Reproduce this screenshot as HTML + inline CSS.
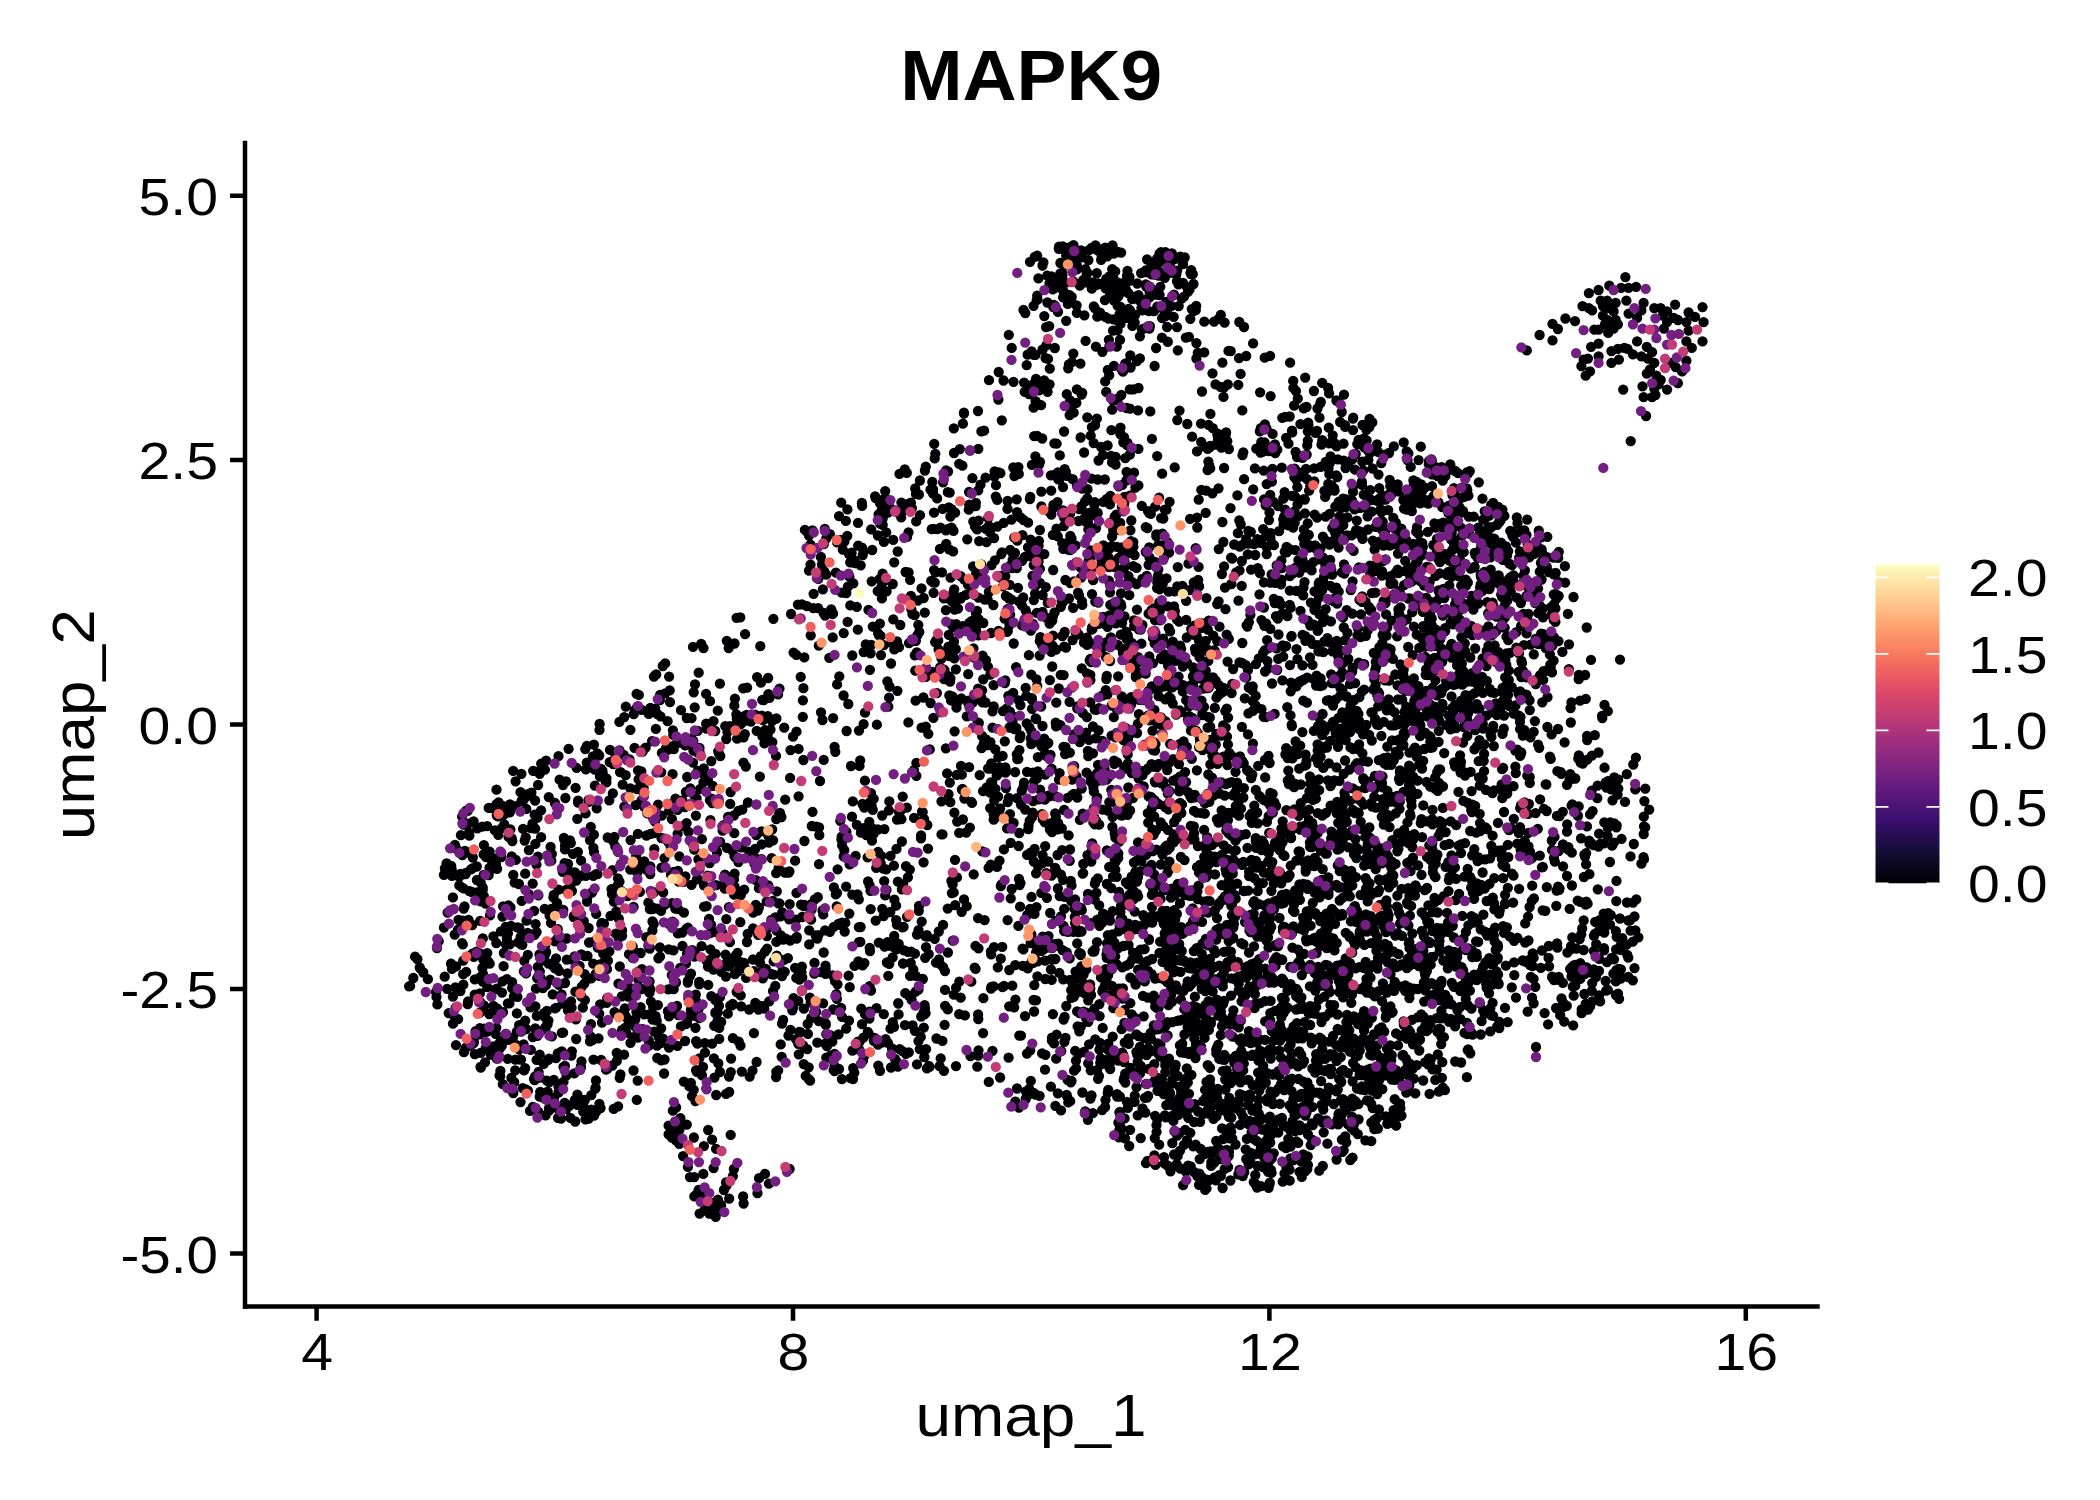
<!DOCTYPE html>
<html><head><meta charset="utf-8"><title>MAPK9</title>
<style>html,body{margin:0;padding:0;background:#fff}svg{display:block}text{font-family:"Liberation Sans",sans-serif;fill:#000}</style>
</head><body>
<svg width="2100" height="1500" viewBox="0 0 2100 1500">
<defs><linearGradient id="mg" x1="0" y1="1" x2="0" y2="0"><stop offset="0.0" stop-color="#000004"/><stop offset="0.1" stop-color="#140E36"/><stop offset="0.2" stop-color="#3B0F70"/><stop offset="0.3" stop-color="#641A80"/><stop offset="0.4" stop-color="#8C2981"/><stop offset="0.5" stop-color="#B73779"/><stop offset="0.6" stop-color="#DE4968"/><stop offset="0.7" stop-color="#F7705C"/><stop offset="0.8" stop-color="#FE9F6D"/><stop offset="0.9" stop-color="#FECF92"/><stop offset="1.0" stop-color="#FCFDBF"/></linearGradient></defs>
<rect width="2100" height="1500" fill="#fff"/>
<g fill="none" stroke-width="10.3" stroke-linecap="round">
<path d="M1030.0 261.8h0M1034.8 256.9h0M1037.2 255.6h0M1042.5 265.5h0M1043.4 262.3h0M1058.8 248.8h0M1059.0 246.7h0M1060.4 263.0h0M1062.8 246.4h0M1063.6 249.3h0M1065.6 264.8h0M1066.2 255.5h0M1070.6 246.8h0M1070.7 247.0h0M1073.5 245.1h0M1073.8 261.1h0M1074.3 258.1h0M1076.7 264.4h0M1076.9 269.4h0M1081.1 250.4h0M1082.1 257.0h0M1085.4 269.2h0M1088.4 260.2h0M1089.0 250.2h0M1091.5 247.9h0M1094.5 248.5h0M1095.5 245.3h0M1096.6 247.3h0M1098.1 250.6h0M1101.1 259.8h0M1101.8 256.8h0M1102.1 258.1h0M1105.1 247.6h0M1107.3 256.3h0M1111.1 250.9h0M1111.5 253.1h0M1112.2 269.1h0M1112.6 245.5h0M1113.9 253.7h0M1118.0 252.0h0M1121.1 252.6h0M1147.1 259.5h0M1151.8 265.1h0M1152.3 262.1h0M1154.4 265.4h0M1154.9 265.0h0M1157.1 258.6h0M1159.3 258.4h0M1159.5 262.0h0M1159.5 253.7h0M1160.2 256.0h0M1161.0 252.2h0M1165.3 252.2h0M1165.8 260.6h0M1169.2 257.4h0M1170.3 263.5h0M1171.9 253.5h0M1174.4 259.1h0M1180.3 256.6h0M1182.2 261.2h0M1183.0 264.1h0M1184.7 257.5h0M1037.2 295.7h0M1037.5 299.5h0M1038.4 278.3h0M1047.2 275.7h0M1049.5 283.3h0M1051.6 276.3h0M1052.1 283.2h0M1052.7 289.3h0M1054.2 288.3h0M1056.6 277.7h0M1060.4 273.4h0M1061.0 283.5h0M1061.3 288.3h0M1062.2 272.8h0M1062.4 275.7h0M1063.1 297.3h0M1063.6 291.5h0M1065.4 282.8h0M1069.1 299.7h0M1069.6 295.1h0M1071.7 297.0h0M1073.2 281.5h0M1079.8 285.5h0M1083.1 280.1h0M1085.1 282.3h0M1086.7 274.4h0M1087.4 272.8h0M1091.8 288.7h0M1092.9 282.4h0M1093.5 283.0h0M1096.6 284.9h0M1096.8 273.1h0M1098.3 283.4h0M1100.8 284.2h0M1105.6 288.3h0M1106.2 279.0h0M1107.3 284.7h0M1108.0 278.2h0M1109.3 276.5h0M1109.8 295.6h0M1110.1 290.0h0M1112.5 294.3h0M1112.8 293.5h0M1113.1 277.4h0M1114.0 282.9h0M1115.2 271.4h0M1116.3 281.9h0M1117.2 288.7h0M1118.4 296.3h0M1122.4 283.1h0M1122.6 291.5h0M1124.8 286.4h0M1126.0 289.7h0M1127.0 275.7h0M1127.5 270.8h0M1128.4 293.1h0M1129.3 280.9h0M1129.4 276.9h0M1132.2 299.1h0M1134.3 297.0h0M1137.3 283.5h0M1138.5 295.1h0M1141.1 273.1h0M1145.6 272.2h0M1145.8 270.5h0M1145.9 284.4h0M1146.2 286.6h0M1146.6 284.9h0M1147.0 285.1h0M1147.4 298.9h0M1149.0 286.4h0M1149.3 297.7h0M1149.7 292.5h0M1150.1 287.1h0M1150.6 290.0h0M1151.5 274.4h0M1154.5 274.7h0M1155.4 291.9h0M1156.0 294.5h0M1158.7 275.6h0M1159.1 273.8h0M1159.6 295.0h0M1160.1 272.2h0M1160.3 286.8h0M1163.2 274.9h0M1163.2 272.9h0M1164.8 277.8h0M1165.7 271.8h0M1170.8 272.5h0M1171.1 271.3h0M1174.0 294.7h0M1176.3 274.5h0M1176.9 281.2h0M1177.2 270.6h0M1178.4 284.3h0M1181.7 298.5h0M1183.0 283.0h0M1184.0 296.7h0M1186.9 286.8h0M1187.9 291.9h0M1189.5 289.6h0M1190.5 272.8h0M1190.9 274.1h0M1191.2 270.1h0M1192.8 274.1h0M1193.5 284.0h0M1588.9 293.2h0M1598.6 290.0h0M1609.3 285.7h0M1621.1 287.9h0M1625.4 277.1h0M1628.6 287.9h0M1636.1 286.8h0M1023.5 310.0h0M1025.3 313.1h0M1033.6 305.8h0M1036.7 300.2h0M1044.3 316.1h0M1046.1 327.2h0M1047.4 302.5h0M1049.2 326.2h0M1053.3 307.0h0M1053.8 304.8h0M1054.8 305.7h0M1058.0 311.9h0M1066.2 320.8h0M1067.8 303.9h0M1071.3 302.1h0M1076.6 305.5h0M1076.9 312.9h0M1084.4 315.3h0M1093.8 306.5h0M1094.8 308.1h0M1097.3 316.7h0M1099.6 315.7h0M1100.1 312.7h0M1104.9 300.1h0M1105.3 316.9h0M1108.5 318.6h0M1113.6 319.4h0M1114.3 300.9h0M1117.6 305.7h0M1118.2 321.3h0M1119.6 314.2h0M1119.8 315.2h0M1120.2 306.7h0M1120.5 323.9h0M1126.5 312.0h0M1127.1 317.9h0M1128.4 309.0h0M1129.8 310.1h0M1132.4 325.9h0M1134.7 322.6h0M1135.0 315.0h0M1139.3 300.4h0M1141.4 308.1h0M1141.9 329.6h0M1142.2 310.4h0M1143.5 328.7h0M1148.9 311.1h0M1149.4 328.5h0M1149.9 326.2h0M1154.0 311.1h0M1157.3 306.7h0M1159.7 307.1h0M1162.1 318.1h0M1164.7 312.7h0M1165.6 306.1h0M1165.6 316.2h0M1166.4 301.8h0M1167.1 327.0h0M1168.1 308.5h0M1171.1 306.0h0M1173.7 316.8h0M1177.0 327.1h0M1178.7 306.1h0M1190.3 318.8h0M1191.8 309.1h0M1193.6 311.0h0M1195.8 310.1h0M1196.2 305.9h0M1204.3 321.7h0M1214.1 321.7h0M1218.6 318.9h0M1220.8 315.0h0M1224.6 322.6h0M1239.3 322.0h0M1244.0 327.0h0M1552.5 323.9h0M1557.9 329.0h0M1565.4 318.5h0M1575.0 321.1h0M1582.5 306.1h0M1588.9 308.2h0M1592.1 310.4h0M1594.3 329.6h0M1598.6 329.6h0M1600.7 300.7h0M1602.9 306.1h0M1602.9 315.7h0M1605.0 324.3h0M1607.1 300.7h0M1607.1 320.0h0M1609.3 308.2h0M1611.4 303.9h0M1611.4 324.3h0M1613.6 311.4h0M1613.6 328.6h0M1615.7 302.9h0M1615.7 320.0h0M1617.9 324.3h0M1626.4 300.7h0M1628.6 313.6h0M1637.1 317.9h0M1641.4 310.4h0M1643.6 302.9h0M1654.3 308.2h0M1660.7 308.2h0M1662.9 315.7h0M1663.9 328.6h0M1667.1 311.4h0M1667.1 322.1h0M1673.6 317.9h0M1675.1 304.6h0M1677.9 320.0h0M1686.4 322.1h0M1688.6 312.5h0M1695.0 316.8h0M1702.5 307.1h0M1703.6 322.1h0M1008.8 334.8h0M1011.7 347.9h0M1027.6 354.7h0M1031.6 351.5h0M1033.8 354.9h0M1035.4 354.9h0M1042.6 349.5h0M1045.6 358.1h0M1046.3 345.4h0M1048.0 358.9h0M1054.8 348.0h0M1073.3 353.6h0M1085.6 340.9h0M1095.9 346.6h0M1102.4 351.8h0M1108.9 339.8h0M1109.4 346.4h0M1113.0 330.6h0M1116.8 346.7h0M1117.6 330.4h0M1120.0 339.9h0M1130.3 355.3h0M1139.9 336.3h0M1139.9 358.4h0M1156.1 348.0h0M1162.0 337.7h0M1167.8 341.7h0M1167.8 341.9h0M1177.8 350.3h0M1185.9 337.7h0M1188.9 336.9h0M1196.4 358.5h0M1196.4 343.1h0M1197.8 352.8h0M1204.2 352.4h0M1228.5 350.9h0M1230.7 351.2h0M1239.0 358.1h0M1246.2 356.0h0M1253.1 343.4h0M1264.7 357.7h0M1270.1 355.8h0M1526.8 350.4h0M1539.6 335.0h0M1552.5 340.4h0M1583.6 359.6h0M1587.9 358.6h0M1591.1 346.8h0M1598.6 343.6h0M1598.6 356.4h0M1608.2 332.9h0M1611.4 351.1h0M1617.9 348.9h0M1618.9 359.6h0M1624.3 347.9h0M1627.5 348.9h0M1632.9 354.3h0M1637.1 341.4h0M1641.4 356.4h0M1646.8 346.8h0M1647.9 358.6h0M1652.1 352.1h0M1686.4 341.4h0M1688.6 330.7h0M1691.8 347.9h0M1702.5 341.4h0M989.0 380.2h0M998.7 372.0h0M1003.5 380.5h0M1013.5 381.8h0M1024.1 382.6h0M1026.7 365.1h0M1027.8 388.4h0M1033.2 384.1h0M1036.0 379.0h0M1036.4 381.1h0M1039.4 383.8h0M1042.6 383.6h0M1044.1 380.4h0M1049.6 384.3h0M1049.8 368.6h0M1068.2 368.3h0M1068.9 364.4h0M1071.9 362.2h0M1076.9 389.4h0M1080.4 363.7h0M1105.2 381.4h0M1107.8 370.0h0M1109.2 375.2h0M1113.9 365.9h0M1121.5 369.0h0M1122.9 371.7h0M1125.2 363.7h0M1126.3 363.1h0M1129.8 389.3h0M1130.6 367.5h0M1133.4 389.4h0M1137.0 361.1h0M1138.5 388.0h0M1154.6 366.0h0M1212.5 373.3h0M1215.5 384.4h0M1220.5 386.8h0M1222.4 362.7h0M1224.1 387.4h0M1227.8 384.4h0M1238.3 384.8h0M1240.6 373.9h0M1290.1 362.7h0M1293.2 380.9h0M1293.4 387.9h0M1305.2 377.6h0M1322.2 382.8h0M1328.1 387.9h0M1581.4 366.1h0M1585.7 375.7h0M1590.0 371.4h0M1611.4 362.9h0M1623.2 389.6h0M1642.5 386.4h0M1646.8 373.6h0M1650.0 369.3h0M1654.3 362.9h0M1654.3 388.6h0M1656.4 375.7h0M1658.6 384.3h0M1660.7 380.0h0M1667.1 389.6h0M1671.4 362.9h0M1675.7 367.1h0M1677.9 383.2h0M1682.1 371.4h0M1686.4 360.7h0M963.9 412.7h0M964.0 413.5h0M978.0 411.0h0M998.4 399.6h0M1024.7 391.8h0M1029.1 394.0h0M1031.3 391.8h0M1033.6 407.7h0M1035.6 401.1h0M1039.1 390.4h0M1041.1 405.2h0M1047.6 391.8h0M1066.8 394.2h0M1069.6 415.1h0M1070.1 400.5h0M1070.4 406.2h0M1071.5 411.1h0M1073.7 412.7h0M1076.4 402.9h0M1081.6 394.5h0M1082.2 393.0h0M1087.3 417.3h0M1096.9 418.6h0M1106.2 391.9h0M1112.2 409.7h0M1113.1 400.7h0M1115.8 399.7h0M1117.6 398.7h0M1117.6 400.1h0M1121.3 395.0h0M1126.7 408.0h0M1130.0 408.7h0M1138.0 410.4h0M1150.3 411.4h0M1179.5 410.6h0M1202.0 391.5h0M1210.4 413.9h0M1223.5 396.9h0M1242.3 410.4h0M1260.1 392.3h0M1270.6 396.2h0M1282.3 417.8h0M1285.0 416.9h0M1289.7 416.5h0M1294.1 405.5h0M1295.9 391.0h0M1297.8 398.6h0M1303.7 408.4h0M1305.0 407.4h0M1306.5 407.0h0M1313.9 391.0h0M1317.5 408.5h0M1319.5 417.7h0M1320.3 403.3h0M1320.8 401.9h0M1329.1 393.4h0M1336.4 400.5h0M1338.7 402.2h0M1341.7 412.0h0M1344.0 394.6h0M1353.0 418.5h0M1353.2 417.7h0M1369.5 418.8h0M1643.6 397.1h0M1646.1 416.0h0M1652.1 397.1h0M1655.4 395.0h0M934.2 443.8h0M953.8 428.4h0M959.8 449.1h0M962.9 423.7h0M978.3 448.8h0M981.4 431.4h0M984.1 430.7h0M1001.8 420.3h0M1034.2 436.1h0M1037.1 435.9h0M1042.2 438.5h0M1054.4 443.4h0M1056.6 443.7h0M1064.1 431.5h0M1080.6 437.5h0M1090.7 435.7h0M1091.9 427.2h0M1093.7 443.1h0M1095.1 425.0h0M1101.2 447.0h0M1107.6 445.5h0M1111.4 430.2h0M1120.4 433.5h0M1120.5 427.6h0M1120.5 434.4h0M1123.3 442.3h0M1124.0 437.2h0M1126.0 442.3h0M1127.0 445.0h0M1127.5 443.0h0M1138.4 448.9h0M1151.9 438.9h0M1177.3 420.1h0M1187.3 424.0h0M1192.1 436.7h0M1201.1 423.7h0M1201.2 441.9h0M1204.5 446.5h0M1207.7 448.9h0M1208.5 424.9h0M1209.7 447.3h0M1210.3 445.9h0M1212.8 428.2h0M1216.0 444.6h0M1217.2 433.4h0M1217.6 435.4h0M1217.9 440.2h0M1221.4 447.6h0M1222.0 434.9h0M1222.9 443.9h0M1223.9 440.8h0M1225.8 434.4h0M1226.1 432.3h0M1226.1 441.0h0M1227.3 441.2h0M1228.9 449.0h0M1256.3 448.7h0M1259.8 431.3h0M1260.8 428.2h0M1261.3 442.2h0M1264.6 442.4h0M1264.9 424.5h0M1266.2 446.7h0M1266.5 428.6h0M1267.2 447.6h0M1272.6 433.9h0M1274.9 444.5h0M1277.3 449.7h0M1286.1 437.8h0M1288.5 443.7h0M1292.0 430.7h0M1292.2 432.4h0M1300.4 424.1h0M1307.2 445.3h0M1307.8 431.3h0M1307.8 440.6h0M1308.2 422.6h0M1308.5 425.5h0M1315.5 432.9h0M1317.0 430.9h0M1321.5 444.7h0M1322.3 440.2h0M1328.8 427.7h0M1329.3 443.3h0M1332.6 441.0h0M1332.7 435.3h0M1334.8 443.3h0M1336.5 446.3h0M1340.1 422.0h0M1343.5 443.7h0M1345.0 425.1h0M1345.2 426.9h0M1353.0 430.1h0M1357.3 444.2h0M1358.6 439.8h0M1362.5 425.0h0M1364.0 438.3h0M1364.3 447.4h0M1365.4 445.8h0M1366.5 429.9h0M1366.6 440.5h0M1367.6 447.6h0M1369.4 427.0h0M1372.3 422.4h0M1377.1 444.4h0M1393.8 446.4h0M1403.7 442.4h0M1420.8 446.7h0M1630.7 441.1h0M899.5 473.9h0M904.8 469.4h0M906.8 472.9h0M924.9 470.5h0M925.8 466.6h0M934.7 458.4h0M935.3 453.8h0M946.1 470.5h0M948.0 471.5h0M954.0 453.0h0M959.2 463.8h0M962.4 465.7h0M970.1 450.6h0M972.4 478.1h0M985.6 477.7h0M994.4 476.5h0M994.6 471.4h0M999.0 472.5h0M1000.4 473.2h0M1013.3 467.5h0M1014.4 476.0h0M1018.4 467.1h0M1018.8 473.9h0M1031.9 464.8h0M1035.4 456.3h0M1039.1 464.6h0M1039.9 461.9h0M1050.9 475.3h0M1053.2 475.2h0M1057.9 472.4h0M1058.3 479.3h0M1059.2 479.7h0M1059.8 455.4h0M1063.6 472.1h0M1064.7 469.1h0M1065.8 471.8h0M1066.8 475.8h0M1072.7 479.1h0M1084.1 452.5h0M1091.6 478.7h0M1097.7 479.5h0M1098.6 460.5h0M1102.9 455.1h0M1104.8 479.5h0M1111.1 455.8h0M1112.1 462.4h0M1112.8 459.9h0M1115.6 456.9h0M1115.6 464.5h0M1125.3 458.2h0M1126.6 471.9h0M1127.8 473.3h0M1128.6 474.8h0M1129.9 454.5h0M1134.0 472.7h0M1157.2 456.1h0M1162.1 473.7h0M1174.7 467.4h0M1197.0 451.4h0M1207.6 470.0h0M1208.4 461.6h0M1209.2 465.3h0M1210.2 468.4h0M1224.1 468.0h0M1242.5 455.2h0M1243.3 452.3h0M1244.1 479.2h0M1254.9 468.4h0M1260.6 452.6h0M1262.5 451.8h0M1263.8 470.7h0M1268.7 451.1h0M1272.5 469.0h0M1275.3 453.1h0M1281.8 467.7h0M1294.3 470.6h0M1294.4 477.2h0M1294.7 468.7h0M1295.6 452.0h0M1296.3 479.6h0M1296.9 454.7h0M1297.1 457.1h0M1297.2 471.6h0M1297.4 476.4h0M1300.3 456.5h0M1302.3 456.5h0M1302.4 457.9h0M1304.2 476.9h0M1306.0 469.0h0M1306.7 454.6h0M1307.1 479.2h0M1314.1 468.4h0M1320.7 466.8h0M1325.7 462.0h0M1328.5 468.7h0M1329.1 461.5h0M1329.3 474.2h0M1329.9 463.1h0M1330.4 458.7h0M1330.6 456.4h0M1336.3 475.4h0M1337.2 477.0h0M1337.3 476.9h0M1337.9 459.4h0M1343.7 460.7h0M1345.6 468.0h0M1348.5 462.8h0M1352.2 459.4h0M1355.0 469.7h0M1355.7 454.0h0M1362.3 461.6h0M1363.2 470.5h0M1367.9 450.3h0M1368.3 459.9h0M1369.9 453.0h0M1371.7 451.3h0M1372.5 468.5h0M1378.0 451.9h0M1378.5 474.6h0M1381.3 463.2h0M1385.2 454.6h0M1389.0 453.0h0M1406.7 451.4h0M1407.5 460.0h0M1408.4 453.3h0M1410.7 466.9h0M1418.6 460.1h0M1428.8 464.2h0M1429.1 461.0h0M1431.4 459.4h0M1431.8 460.4h0M1431.8 474.3h0M1431.9 472.0h0M1435.8 467.2h0M1437.6 476.2h0M1438.9 475.9h0M1441.5 467.2h0M1441.9 477.8h0M1445.3 476.2h0M1450.3 464.4h0M1452.2 469.9h0M1455.3 471.0h0M1458.0 473.1h0M1467.3 472.2h0M1468.0 473.5h0M1469.8 471.1h0M841.2 502.6h0M847.4 509.4h0M861.9 502.9h0M862.1 505.8h0M875.1 496.3h0M875.7 498.2h0M878.6 500.0h0M880.0 503.3h0M885.2 497.8h0M885.2 491.1h0M887.0 507.7h0M890.3 508.2h0M901.4 502.6h0M909.2 503.5h0M910.9 502.7h0M911.9 508.2h0M915.2 488.5h0M915.9 493.9h0M918.9 494.5h0M919.9 480.5h0M930.5 489.6h0M932.3 481.9h0M932.6 492.6h0M933.1 493.5h0M933.1 489.5h0M937.1 498.4h0M942.7 508.8h0M943.1 482.3h0M947.8 492.2h0M948.8 507.3h0M949.7 492.6h0M951.6 509.2h0M968.8 509.7h0M969.1 492.0h0M969.2 504.7h0M975.7 506.1h0M975.9 502.8h0M978.2 490.4h0M980.5 484.7h0M995.8 496.6h0M996.0 485.2h0M997.2 499.9h0M1007.5 508.9h0M1007.6 501.0h0M1016.7 499.3h0M1029.9 499.1h0M1030.3 496.9h0M1041.3 491.7h0M1041.4 506.5h0M1051.2 490.6h0M1053.4 505.0h0M1053.4 508.0h0M1057.5 502.1h0M1063.0 487.1h0M1076.9 485.5h0M1079.2 509.1h0M1081.6 506.2h0M1082.2 488.7h0M1085.1 501.4h0M1087.3 498.5h0M1087.5 489.2h0M1094.4 504.9h0M1094.7 502.1h0M1103.4 501.8h0M1106.8 499.0h0M1110.0 504.4h0M1110.4 495.8h0M1110.4 500.0h0M1118.7 486.3h0M1121.9 506.5h0M1122.1 500.4h0M1122.3 484.9h0M1123.4 509.0h0M1123.6 500.3h0M1123.6 506.5h0M1124.3 503.5h0M1124.5 496.9h0M1126.4 480.3h0M1126.7 496.9h0M1130.5 495.4h0M1135.4 487.5h0M1138.4 485.4h0M1141.8 505.8h0M1155.2 506.6h0M1159.1 497.7h0M1164.8 509.6h0M1166.5 509.7h0M1169.6 501.8h0M1198.7 499.7h0M1201.3 489.8h0M1206.2 490.6h0M1212.4 493.3h0M1218.5 488.3h0M1230.5 508.2h0M1237.4 495.4h0M1253.2 489.3h0M1264.1 499.4h0M1265.7 505.3h0M1266.1 505.4h0M1266.7 484.1h0M1266.7 499.4h0M1270.2 494.9h0M1271.9 481.7h0M1273.5 502.0h0M1278.2 506.1h0M1283.3 498.7h0M1284.6 492.1h0M1285.1 509.7h0M1292.1 495.8h0M1295.0 496.7h0M1297.3 487.2h0M1297.5 504.5h0M1303.7 499.2h0M1304.8 499.6h0M1309.1 490.7h0M1310.3 486.6h0M1310.5 484.8h0M1314.3 481.3h0M1324.4 490.9h0M1325.2 496.9h0M1326.1 492.9h0M1327.5 492.0h0M1328.3 484.0h0M1331.6 485.3h0M1334.2 488.4h0M1334.6 490.5h0M1335.3 506.6h0M1338.7 501.8h0M1339.6 502.2h0M1340.6 503.0h0M1341.4 507.9h0M1342.6 500.1h0M1343.0 498.7h0M1346.0 507.2h0M1346.1 499.4h0M1352.1 500.6h0M1353.0 491.9h0M1353.2 486.2h0M1354.6 509.3h0M1360.3 507.8h0M1361.6 506.8h0M1361.9 481.7h0M1362.0 484.8h0M1363.7 494.6h0M1364.6 495.1h0M1365.4 507.5h0M1370.1 490.2h0M1371.4 500.0h0M1377.6 501.0h0M1379.3 488.2h0M1379.3 498.7h0M1380.7 509.3h0M1382.1 495.4h0M1382.3 499.6h0M1385.7 499.5h0M1386.3 497.4h0M1389.4 494.1h0M1389.7 480.0h0M1390.3 486.0h0M1391.0 495.1h0M1392.4 485.7h0M1397.7 484.5h0M1397.9 491.3h0M1400.2 491.6h0M1403.3 500.0h0M1404.0 508.6h0M1406.7 509.7h0M1407.7 503.4h0M1407.9 490.5h0M1409.7 492.4h0M1409.9 498.2h0M1410.6 490.1h0M1411.3 496.1h0M1412.5 493.2h0M1413.4 480.5h0M1413.7 501.2h0M1413.8 484.8h0M1414.8 502.7h0M1415.3 486.4h0M1415.6 487.5h0M1416.6 481.9h0M1417.8 486.9h0M1417.9 487.2h0M1419.4 495.8h0M1420.3 497.1h0M1420.3 503.3h0M1420.7 502.6h0M1421.0 502.9h0M1421.2 484.3h0M1422.2 491.0h0M1424.1 499.7h0M1424.9 487.7h0M1426.8 502.8h0M1428.3 503.6h0M1430.3 500.8h0M1430.9 499.2h0M1432.0 486.2h0M1432.9 499.4h0M1433.8 495.8h0M1434.2 500.8h0M1434.9 501.3h0M1435.9 497.5h0M1438.5 502.4h0M1442.2 507.1h0M1442.7 480.6h0M1446.9 507.8h0M1448.3 508.2h0M1448.9 505.6h0M1452.5 495.3h0M1453.9 488.1h0M1454.0 493.0h0M1454.2 492.1h0M1459.4 507.1h0M1461.2 497.9h0M1464.3 496.9h0M1466.8 488.4h0M1467.3 490.3h0M1468.4 495.7h0M1478.8 482.3h0M1482.5 498.6h0M1491.2 504.9h0M1493.1 502.8h0M1493.4 507.1h0M1498.2 506.9h0M1502.4 509.6h0M804.9 529.9h0M806.6 531.4h0M809.0 535.6h0M812.5 530.3h0M824.8 529.0h0M826.2 538.6h0M829.9 534.2h0M839.1 516.2h0M845.9 520.9h0M847.3 535.8h0M858.0 522.9h0M871.2 529.4h0M877.9 535.5h0M878.6 514.4h0M880.4 523.9h0M881.5 510.9h0M882.7 518.5h0M882.7 524.8h0M886.2 532.4h0M888.0 512.6h0M891.8 510.8h0M893.2 539.9h0M898.9 513.4h0M899.1 511.2h0M901.2 517.3h0M904.3 510.0h0M907.1 536.9h0M908.5 532.4h0M916.2 521.4h0M920.0 515.2h0M931.7 529.2h0M933.5 528.8h0M934.0 512.7h0M937.3 529.1h0M940.5 527.6h0M945.9 530.4h0M948.2 529.0h0M950.4 516.5h0M951.6 527.6h0M953.5 530.9h0M955.1 512.7h0M967.3 539.3h0M973.3 521.6h0M975.0 526.4h0M976.4 528.6h0M977.2 529.4h0M978.6 520.6h0M985.9 528.9h0M988.2 517.9h0M988.8 526.0h0M989.8 532.0h0M994.1 538.1h0M997.4 526.5h0M1003.7 522.8h0M1011.5 519.6h0M1014.3 537.7h0M1017.1 512.1h0M1020.6 517.5h0M1022.4 535.1h0M1023.5 520.0h0M1028.1 522.7h0M1030.6 539.6h0M1039.9 530.0h0M1049.4 512.1h0M1051.3 514.6h0M1052.9 534.9h0M1056.5 528.6h0M1057.8 536.3h0M1063.0 510.5h0M1063.8 526.2h0M1064.1 517.5h0M1064.3 516.2h0M1065.3 512.7h0M1069.4 518.0h0M1070.1 513.8h0M1070.2 539.8h0M1070.3 536.0h0M1071.5 538.4h0M1078.6 521.0h0M1084.4 518.5h0M1085.3 521.4h0M1086.7 513.7h0M1087.2 520.8h0M1087.4 521.1h0M1087.9 522.0h0M1088.3 529.3h0M1089.4 530.9h0M1089.5 513.0h0M1091.1 529.9h0M1094.6 528.2h0M1095.7 515.6h0M1096.1 528.1h0M1097.7 513.0h0M1111.0 522.4h0M1111.9 524.3h0M1112.1 536.5h0M1112.8 526.6h0M1113.2 530.2h0M1114.7 516.7h0M1116.3 514.7h0M1119.1 530.0h0M1120.2 523.0h0M1130.4 530.3h0M1131.3 520.5h0M1145.8 527.1h0M1147.3 528.0h0M1148.0 511.1h0M1149.3 513.0h0M1150.8 513.9h0M1156.3 534.3h0M1156.3 536.2h0M1158.4 534.6h0M1161.1 518.1h0M1162.4 533.6h0M1163.3 518.5h0M1190.1 518.8h0M1197.0 517.6h0M1197.3 527.5h0M1205.7 512.9h0M1222.4 522.0h0M1237.9 533.2h0M1239.3 520.5h0M1240.7 524.3h0M1246.1 539.1h0M1248.4 530.9h0M1250.8 531.8h0M1257.4 539.2h0M1261.4 539.8h0M1263.2 529.1h0M1266.3 534.3h0M1269.0 520.1h0M1269.1 533.3h0M1269.5 512.4h0M1270.4 537.8h0M1270.9 533.1h0M1279.1 531.2h0M1283.2 519.3h0M1283.6 524.4h0M1284.1 516.7h0M1288.5 525.3h0M1290.7 515.5h0M1291.0 518.1h0M1293.1 527.6h0M1293.9 514.2h0M1294.5 511.4h0M1294.7 522.7h0M1297.8 516.3h0M1303.1 537.8h0M1303.9 529.5h0M1304.9 513.3h0M1307.7 523.4h0M1308.8 534.8h0M1314.6 514.6h0M1317.1 517.6h0M1322.9 536.6h0M1325.6 516.7h0M1329.6 514.0h0M1332.3 528.0h0M1335.0 532.2h0M1335.9 535.8h0M1339.5 529.5h0M1339.5 516.3h0M1339.7 524.4h0M1339.8 522.9h0M1340.9 526.1h0M1343.3 525.1h0M1344.1 539.6h0M1347.1 535.5h0M1347.4 517.4h0M1351.6 535.4h0M1356.1 530.1h0M1356.8 520.6h0M1359.9 531.3h0M1360.6 535.1h0M1362.6 538.9h0M1362.7 533.1h0M1367.6 516.3h0M1368.0 529.5h0M1371.8 511.7h0M1375.6 526.8h0M1381.3 512.0h0M1381.7 521.0h0M1382.1 529.9h0M1382.7 522.5h0M1382.7 522.0h0M1384.1 529.0h0M1384.7 534.3h0M1385.9 529.6h0M1388.2 510.1h0M1393.3 517.9h0M1394.6 528.7h0M1395.7 524.5h0M1395.8 522.6h0M1398.7 534.4h0M1399.1 537.1h0M1399.8 536.0h0M1401.4 528.7h0M1405.6 539.5h0M1406.1 539.9h0M1411.8 511.2h0M1416.2 531.7h0M1417.0 527.2h0M1418.5 533.9h0M1427.8 531.8h0M1434.4 523.4h0M1435.4 527.6h0M1435.9 525.0h0M1436.9 538.8h0M1440.6 526.7h0M1440.7 523.7h0M1442.7 526.8h0M1443.1 527.6h0M1443.1 522.7h0M1448.5 513.3h0M1448.9 524.4h0M1449.6 533.2h0M1450.4 521.2h0M1451.1 511.9h0M1451.2 539.5h0M1451.7 533.0h0M1453.5 539.8h0M1454.2 512.2h0M1454.4 539.9h0M1455.2 521.7h0M1455.7 526.1h0M1455.9 515.5h0M1461.0 527.6h0M1461.2 512.7h0M1462.1 535.7h0M1462.9 510.9h0M1468.7 516.6h0M1469.0 533.6h0M1469.6 528.7h0M1473.7 516.7h0M1478.2 527.7h0M1478.2 536.1h0M1483.1 519.6h0M1484.7 511.3h0M1485.0 531.2h0M1485.2 518.6h0M1485.2 532.6h0M1487.7 533.7h0M1488.3 527.3h0M1489.3 515.7h0M1489.4 537.7h0M1490.8 539.9h0M1491.4 527.2h0M1494.3 538.7h0M1495.5 511.7h0M1497.1 524.9h0M1499.4 522.2h0M1499.6 520.4h0M1500.6 520.3h0M1504.4 515.9h0M1510.3 530.9h0M1511.6 532.5h0M1512.4 535.7h0M1512.8 532.0h0M1513.5 537.4h0M1516.8 517.5h0M1517.5 523.3h0M1521.3 532.0h0M1524.4 530.4h0M1524.5 534.6h0M1525.2 538.3h0M1526.5 535.1h0M1527.2 519.6h0M1538.8 530.7h0M1541.2 537.4h0M1547.3 536.8h0M810.5 544.6h0M810.5 564.7h0M820.9 557.0h0M821.9 564.5h0M823.8 544.1h0M837.1 542.4h0M840.6 540.0h0M842.8 549.6h0M844.4 541.5h0M849.0 554.0h0M850.2 562.3h0M851.6 552.7h0M854.6 560.5h0M855.0 563.1h0M858.2 545.7h0M860.7 565.3h0M862.0 547.7h0M862.7 555.1h0M863.5 551.9h0M872.2 550.0h0M883.9 541.9h0M894.2 562.3h0M897.7 551.5h0M939.9 548.8h0M946.2 543.8h0M949.1 549.3h0M953.1 551.4h0M973.1 566.5h0M975.9 568.8h0M977.4 568.9h0M979.2 541.1h0M981.2 564.3h0M986.5 542.2h0M991.5 565.2h0M994.9 560.3h0M1001.3 554.0h0M1002.0 552.3h0M1010.3 549.9h0M1010.5 565.4h0M1011.9 568.0h0M1012.0 552.0h0M1012.7 559.6h0M1014.9 553.0h0M1016.8 568.0h0M1017.3 540.7h0M1022.0 560.9h0M1024.9 557.0h0M1028.0 547.4h0M1030.8 550.5h0M1031.2 556.4h0M1033.3 543.3h0M1033.7 565.1h0M1034.8 559.0h0M1037.2 551.8h0M1038.6 561.5h0M1038.6 545.9h0M1038.9 541.0h0M1039.9 568.8h0M1044.3 554.1h0M1053.2 570.0h0M1062.3 543.2h0M1063.3 548.8h0M1065.7 546.1h0M1068.3 549.5h0M1069.2 543.1h0M1070.1 550.0h0M1071.1 545.5h0M1075.6 545.3h0M1080.8 567.5h0M1088.7 560.7h0M1089.5 569.8h0M1090.6 558.2h0M1090.7 550.4h0M1092.2 568.1h0M1098.8 567.3h0M1101.0 568.1h0M1101.5 559.9h0M1103.3 545.4h0M1103.3 558.2h0M1104.0 553.7h0M1106.1 559.0h0M1106.5 559.2h0M1106.8 547.2h0M1108.6 557.5h0M1109.1 567.2h0M1109.9 548.3h0M1112.0 546.2h0M1113.9 562.9h0M1114.8 567.0h0M1116.9 546.8h0M1118.7 557.9h0M1120.9 556.7h0M1121.6 548.9h0M1121.8 549.4h0M1122.0 547.5h0M1122.4 559.1h0M1124.0 568.2h0M1124.5 561.1h0M1126.9 553.5h0M1131.0 541.2h0M1131.6 548.6h0M1132.4 551.7h0M1133.3 542.1h0M1133.3 566.2h0M1133.4 546.7h0M1134.6 555.1h0M1136.6 567.8h0M1145.8 552.0h0M1148.6 564.9h0M1149.2 547.3h0M1149.5 557.4h0M1155.2 562.0h0M1155.9 566.8h0M1158.3 569.5h0M1158.3 544.9h0M1163.1 545.3h0M1163.5 550.4h0M1164.2 556.8h0M1165.2 548.3h0M1166.3 546.0h0M1167.7 542.4h0M1168.2 547.7h0M1169.1 552.6h0M1177.8 567.1h0M1188.5 563.7h0M1195.7 548.2h0M1198.6 566.9h0M1218.8 549.1h0M1223.4 542.0h0M1224.1 566.3h0M1231.1 557.6h0M1232.1 558.6h0M1234.2 544.5h0M1239.8 546.7h0M1241.8 561.0h0M1242.3 544.9h0M1247.8 554.3h0M1248.4 543.5h0M1251.1 569.6h0M1254.2 544.1h0M1255.2 555.0h0M1257.8 568.1h0M1260.6 542.9h0M1266.7 547.2h0M1266.7 554.2h0M1272.1 543.4h0M1273.9 545.2h0M1276.7 565.5h0M1281.4 560.4h0M1281.8 568.1h0M1284.7 551.6h0M1286.6 546.8h0M1286.8 552.4h0M1290.2 549.5h0M1295.1 567.9h0M1295.2 569.2h0M1295.5 550.2h0M1298.4 560.1h0M1302.4 559.5h0M1303.8 566.1h0M1304.3 544.2h0M1306.0 567.3h0M1306.4 544.9h0M1308.0 565.3h0M1308.3 566.7h0M1308.9 545.0h0M1309.0 547.6h0M1310.3 566.4h0M1313.3 562.1h0M1315.1 545.3h0M1315.8 548.6h0M1319.8 559.3h0M1320.4 548.6h0M1322.8 557.5h0M1325.4 562.9h0M1325.4 565.5h0M1325.5 540.4h0M1327.0 568.7h0M1329.5 544.5h0M1330.1 560.0h0M1330.6 541.8h0M1331.3 569.8h0M1334.1 541.2h0M1338.6 547.6h0M1344.0 564.5h0M1353.6 550.9h0M1359.0 567.4h0M1369.9 565.6h0M1372.3 569.9h0M1372.8 540.6h0M1374.4 568.1h0M1374.6 549.6h0M1374.7 543.3h0M1375.3 564.8h0M1375.9 542.2h0M1376.3 564.9h0M1380.4 541.4h0M1381.0 561.0h0M1382.9 561.2h0M1383.5 545.6h0M1385.4 559.4h0M1389.0 541.7h0M1389.9 545.6h0M1395.9 544.0h0M1397.6 569.7h0M1397.7 543.8h0M1398.0 553.6h0M1401.2 545.2h0M1405.2 560.8h0M1407.7 544.7h0M1411.1 568.1h0M1412.7 545.9h0M1412.9 543.8h0M1415.4 564.1h0M1416.7 559.9h0M1417.5 561.8h0M1419.2 542.8h0M1419.5 545.8h0M1420.0 556.3h0M1422.3 543.1h0M1422.9 546.8h0M1423.0 554.5h0M1426.8 567.0h0M1429.0 567.3h0M1433.3 545.0h0M1436.7 552.7h0M1438.4 559.2h0M1440.0 562.0h0M1444.7 553.9h0M1449.4 560.7h0M1449.4 556.7h0M1450.3 559.9h0M1452.0 550.3h0M1452.7 563.0h0M1453.1 559.7h0M1454.0 564.7h0M1454.1 544.2h0M1455.7 547.8h0M1460.0 559.7h0M1460.6 564.0h0M1461.1 550.8h0M1461.3 548.4h0M1463.7 552.2h0M1470.6 568.5h0M1472.8 567.9h0M1474.6 567.0h0M1474.7 552.8h0M1475.5 555.0h0M1477.8 558.2h0M1478.8 557.9h0M1480.9 547.6h0M1481.9 548.4h0M1482.3 540.5h0M1490.4 557.3h0M1490.7 569.6h0M1491.3 543.9h0M1493.9 552.0h0M1496.1 548.2h0M1498.4 547.5h0M1499.2 549.1h0M1499.4 544.2h0M1500.9 548.7h0M1501.0 542.7h0M1502.6 559.9h0M1503.8 548.9h0M1506.0 546.3h0M1507.1 555.4h0M1508.2 551.1h0M1509.4 563.7h0M1512.0 565.1h0M1515.9 542.7h0M1519.1 557.9h0M1519.8 559.9h0M1519.9 551.3h0M1521.2 558.4h0M1524.7 558.5h0M1527.0 556.2h0M1527.7 544.9h0M1529.3 557.4h0M1534.2 553.9h0M1536.1 547.5h0M1536.6 545.4h0M1536.8 545.5h0M1540.1 549.0h0M1540.9 562.8h0M1541.7 549.4h0M1542.2 567.3h0M1542.5 560.6h0M1542.9 554.4h0M1546.8 567.0h0M1547.1 557.2h0M1553.4 557.7h0M1558.2 557.9h0M1558.8 551.8h0M1564.9 566.2h0M809.0 570.6h0M813.6 593.8h0M818.1 574.1h0M818.3 578.9h0M822.9 589.4h0M824.2 571.3h0M826.3 574.7h0M835.9 572.6h0M841.7 592.7h0M846.3 593.0h0M847.9 586.7h0M849.4 576.6h0M853.3 583.4h0M871.7 581.3h0M877.7 591.1h0M879.5 579.1h0M881.4 587.0h0M881.7 587.0h0M881.9 598.4h0M882.6 573.7h0M883.9 581.1h0M886.6 591.3h0M892.7 584.0h0M905.6 572.0h0M908.6 572.4h0M910.1 579.8h0M910.9 595.8h0M921.5 588.3h0M923.7 598.0h0M931.2 580.8h0M933.1 582.4h0M933.6 592.8h0M934.1 570.1h0M934.8 582.6h0M935.4 572.3h0M941.9 572.3h0M943.9 598.4h0M944.7 597.4h0M947.8 598.1h0M950.3 597.0h0M950.6 577.7h0M951.8 597.0h0M953.5 592.3h0M954.2 589.3h0M954.8 595.9h0M960.7 598.6h0M960.7 576.2h0M961.9 596.9h0M964.3 579.7h0M965.9 594.9h0M967.1 581.3h0M968.0 584.8h0M970.3 586.2h0M974.0 594.7h0M974.0 582.4h0M976.1 573.3h0M976.6 580.4h0M978.4 597.6h0M978.5 577.0h0M979.2 571.0h0M984.7 599.5h0M987.6 599.3h0M988.9 591.8h0M989.0 592.0h0M990.0 590.5h0M999.9 577.3h0M1000.4 576.0h0M1002.8 586.3h0M1003.8 585.1h0M1004.7 575.2h0M1005.3 576.1h0M1005.9 596.0h0M1008.6 597.6h0M1008.9 598.6h0M1009.7 584.8h0M1011.5 599.7h0M1018.0 587.8h0M1023.2 597.5h0M1032.5 576.0h0M1035.1 593.6h0M1036.0 585.1h0M1036.4 581.6h0M1039.9 582.9h0M1042.6 595.0h0M1045.8 587.1h0M1065.4 580.0h0M1069.0 598.5h0M1070.4 583.2h0M1073.9 581.5h0M1078.1 592.6h0M1079.0 595.4h0M1081.1 577.7h0M1092.0 594.1h0M1093.1 580.2h0M1108.8 580.6h0M1109.9 583.9h0M1110.0 592.3h0M1110.4 585.6h0M1119.5 570.1h0M1121.0 593.4h0M1128.5 576.1h0M1128.8 581.4h0M1129.3 595.2h0M1131.9 582.0h0M1136.6 584.2h0M1141.4 581.3h0M1142.4 579.0h0M1146.7 575.8h0M1157.1 588.0h0M1157.3 582.5h0M1157.6 580.5h0M1157.9 575.9h0M1159.5 589.3h0M1162.8 583.5h0M1165.3 579.0h0M1166.5 578.4h0M1168.6 591.6h0M1174.4 591.4h0M1176.1 590.6h0M1177.3 586.5h0M1182.4 585.8h0M1189.5 590.1h0M1193.8 582.5h0M1198.2 580.0h0M1199.1 586.4h0M1206.4 598.1h0M1221.9 574.0h0M1225.0 587.6h0M1231.4 584.0h0M1236.2 572.5h0M1239.5 570.4h0M1241.7 585.8h0M1259.5 594.3h0M1259.9 573.0h0M1263.9 582.4h0M1270.4 582.6h0M1271.6 574.4h0M1273.8 598.8h0M1275.2 582.9h0M1277.0 579.5h0M1281.0 584.3h0M1281.4 579.7h0M1289.8 590.6h0M1289.9 576.1h0M1292.5 573.5h0M1295.7 570.9h0M1296.2 590.8h0M1299.3 572.5h0M1303.2 595.4h0M1303.5 587.6h0M1304.5 582.1h0M1311.6 570.4h0M1314.5 591.4h0M1318.7 583.9h0M1318.8 590.5h0M1319.0 597.5h0M1319.2 582.5h0M1319.6 584.9h0M1319.6 586.2h0M1321.0 584.3h0M1321.7 584.1h0M1322.1 590.6h0M1323.2 586.9h0M1324.0 576.8h0M1324.4 584.2h0M1330.3 585.8h0M1332.1 574.0h0M1332.2 574.5h0M1333.6 588.3h0M1334.7 598.5h0M1336.3 587.7h0M1338.7 591.7h0M1341.9 572.4h0M1343.6 570.6h0M1344.3 573.5h0M1350.8 590.2h0M1352.6 581.3h0M1359.5 599.8h0M1362.2 596.3h0M1370.1 574.6h0M1371.9 593.1h0M1374.5 571.0h0M1375.5 592.7h0M1381.9 575.6h0M1382.1 571.4h0M1389.0 597.2h0M1390.4 578.8h0M1390.4 576.1h0M1390.5 583.9h0M1393.3 583.3h0M1394.6 593.8h0M1395.6 572.6h0M1398.3 573.1h0M1399.0 571.9h0M1399.7 590.7h0M1404.1 585.1h0M1405.3 571.0h0M1407.7 583.0h0M1408.3 598.5h0M1409.9 598.4h0M1410.3 576.7h0M1411.6 581.7h0M1412.7 573.6h0M1417.5 577.4h0M1418.5 571.5h0M1420.3 581.0h0M1420.9 597.7h0M1424.2 585.7h0M1426.4 597.8h0M1429.7 581.8h0M1435.6 575.9h0M1438.4 590.5h0M1439.7 593.6h0M1439.7 573.4h0M1442.2 595.0h0M1442.3 595.5h0M1443.4 589.0h0M1444.3 598.1h0M1447.0 574.9h0M1448.3 571.9h0M1449.3 585.5h0M1451.8 576.6h0M1451.9 571.6h0M1452.1 592.8h0M1453.7 574.1h0M1453.9 570.9h0M1454.4 572.6h0M1456.3 599.9h0M1458.5 576.1h0M1459.9 595.8h0M1461.2 585.6h0M1461.6 594.3h0M1465.8 579.7h0M1465.8 585.9h0M1467.8 582.5h0M1471.2 595.9h0M1471.9 598.5h0M1478.1 593.9h0M1480.1 587.4h0M1480.7 584.4h0M1480.7 574.6h0M1480.9 576.8h0M1482.2 591.1h0M1482.6 588.4h0M1484.4 574.4h0M1484.4 572.0h0M1486.2 577.0h0M1489.3 589.0h0M1489.6 584.5h0M1489.7 588.2h0M1494.0 577.9h0M1498.6 578.2h0M1498.7 575.5h0M1498.7 583.7h0M1501.2 594.6h0M1502.2 597.2h0M1503.3 581.7h0M1504.8 585.1h0M1509.1 591.1h0M1509.2 578.7h0M1510.6 577.2h0M1510.7 591.6h0M1511.5 584.5h0M1513.3 575.4h0M1513.7 575.4h0M1513.7 581.6h0M1516.8 597.7h0M1520.1 599.8h0M1523.4 575.6h0M1524.9 570.5h0M1525.0 585.2h0M1525.8 579.3h0M1526.5 596.0h0M1529.0 588.6h0M1530.7 591.1h0M1531.0 583.1h0M1532.5 584.3h0M1533.3 592.6h0M1536.7 583.2h0M1538.1 581.5h0M1538.1 588.6h0M1539.8 571.7h0M1541.6 579.5h0M1548.9 572.1h0M1553.7 574.3h0M1553.8 594.5h0M1555.0 574.5h0M1555.6 593.9h0M1555.7 572.9h0M1556.3 598.8h0M1558.6 581.9h0M1558.7 595.8h0M1565.1 582.7h0M1573.5 597.0h0M736.6 617.8h0M740.3 617.4h0M773.4 618.8h0M791.1 614.0h0M797.9 604.6h0M802.0 604.4h0M807.0 606.1h0M813.3 608.1h0M818.1 608.1h0M823.6 613.0h0M825.1 615.5h0M831.2 609.5h0M832.2 612.2h0M832.4 614.1h0M833.1 613.6h0M847.6 621.8h0M850.3 605.4h0M856.8 606.9h0M857.8 629.7h0M868.5 609.8h0M872.8 626.6h0M879.9 623.7h0M893.3 619.4h0M900.3 625.0h0M911.4 609.4h0M912.4 614.0h0M914.7 615.1h0M917.7 600.5h0M918.3 624.8h0M924.8 612.6h0M945.9 610.1h0M951.2 624.1h0M952.0 601.4h0M953.3 627.1h0M954.6 609.6h0M955.2 601.8h0M956.2 624.2h0M958.0 608.6h0M962.9 626.1h0M964.6 627.8h0M969.3 622.8h0M971.4 621.2h0M974.4 627.7h0M975.9 613.2h0M976.1 629.8h0M977.0 610.9h0M978.8 619.4h0M983.3 623.0h0M993.4 605.0h0M1004.6 618.6h0M1007.6 609.1h0M1009.5 625.1h0M1010.1 614.7h0M1019.2 601.5h0M1021.9 605.4h0M1022.1 625.4h0M1023.1 623.9h0M1024.6 619.7h0M1025.6 610.2h0M1025.8 610.7h0M1027.2 614.8h0M1027.7 618.6h0M1033.0 624.0h0M1033.8 600.1h0M1036.9 612.8h0M1042.5 612.0h0M1046.2 617.6h0M1047.8 602.9h0M1049.6 623.5h0M1050.1 618.6h0M1052.3 620.6h0M1052.9 616.3h0M1054.6 612.4h0M1060.9 606.8h0M1061.7 600.8h0M1062.8 602.2h0M1073.1 607.9h0M1082.0 601.3h0M1082.3 604.8h0M1091.7 629.7h0M1092.1 627.3h0M1092.4 629.2h0M1095.3 601.7h0M1096.7 617.9h0M1098.3 623.9h0M1098.3 602.6h0M1103.2 616.8h0M1104.6 624.1h0M1107.5 626.8h0M1109.4 615.3h0M1109.7 619.9h0M1110.3 604.8h0M1111.0 605.3h0M1111.6 614.7h0M1113.3 603.5h0M1115.5 615.5h0M1115.8 623.4h0M1117.0 608.2h0M1117.0 604.2h0M1117.3 604.7h0M1118.7 601.8h0M1118.8 608.8h0M1120.5 621.8h0M1120.8 603.9h0M1121.3 606.3h0M1122.1 622.8h0M1124.5 616.3h0M1133.9 620.4h0M1134.2 626.0h0M1137.0 609.6h0M1138.8 629.3h0M1140.8 629.6h0M1142.4 625.0h0M1148.6 613.7h0M1149.8 614.4h0M1150.1 613.2h0M1151.5 610.1h0M1153.8 608.5h0M1155.0 620.1h0M1159.3 602.5h0M1159.8 610.9h0M1160.0 620.3h0M1167.9 606.3h0M1168.7 628.1h0M1174.0 606.4h0M1174.4 613.5h0M1174.8 611.0h0M1177.0 619.7h0M1179.1 621.7h0M1186.2 619.9h0M1186.2 600.8h0M1191.2 629.0h0M1194.5 625.6h0M1201.1 628.2h0M1201.9 627.1h0M1202.4 623.4h0M1206.5 625.7h0M1207.8 629.6h0M1208.8 620.7h0M1217.2 604.1h0M1218.6 601.3h0M1219.5 626.7h0M1225.5 609.2h0M1238.5 600.7h0M1246.6 625.4h0M1247.3 626.5h0M1248.9 622.1h0M1250.4 614.8h0M1261.5 620.1h0M1263.1 622.4h0M1263.9 607.5h0M1264.5 625.9h0M1266.3 623.6h0M1270.3 628.8h0M1274.8 603.0h0M1276.0 616.2h0M1277.8 618.7h0M1278.1 601.2h0M1279.1 601.0h0M1281.0 604.6h0M1282.4 613.4h0M1287.4 616.0h0M1289.7 604.8h0M1290.6 607.7h0M1300.5 610.8h0M1307.9 620.6h0M1310.3 625.6h0M1310.9 602.6h0M1313.8 624.7h0M1314.4 609.8h0M1316.2 605.5h0M1316.2 603.2h0M1319.3 614.1h0M1322.9 622.0h0M1324.7 618.3h0M1325.7 609.2h0M1330.9 621.4h0M1331.2 600.0h0M1333.4 601.2h0M1337.1 603.7h0M1343.0 617.4h0M1343.8 627.5h0M1346.7 610.1h0M1352.3 613.6h0M1357.9 628.3h0M1361.0 614.4h0M1362.0 601.9h0M1365.6 601.7h0M1368.2 628.4h0M1368.9 606.8h0M1370.4 610.6h0M1370.9 625.3h0M1371.2 609.8h0M1383.0 626.7h0M1383.6 600.9h0M1385.5 603.0h0M1386.1 614.3h0M1387.3 627.3h0M1391.6 620.6h0M1398.4 609.4h0M1398.7 613.9h0M1399.4 614.3h0M1400.5 607.3h0M1403.0 621.0h0M1403.1 621.6h0M1406.8 619.3h0M1412.2 612.2h0M1413.9 626.6h0M1418.2 602.7h0M1419.4 605.7h0M1422.8 611.8h0M1423.2 626.2h0M1423.7 627.3h0M1424.7 603.3h0M1428.7 613.5h0M1429.1 619.3h0M1429.8 626.4h0M1429.9 601.7h0M1430.1 614.0h0M1430.8 619.0h0M1430.9 628.8h0M1431.7 618.5h0M1431.9 625.5h0M1435.6 629.5h0M1436.9 600.8h0M1442.5 610.0h0M1442.8 615.6h0M1444.1 610.7h0M1445.1 628.2h0M1449.6 612.8h0M1450.7 622.3h0M1452.8 624.4h0M1455.1 604.3h0M1457.4 616.0h0M1459.0 620.4h0M1459.6 619.6h0M1460.5 626.7h0M1461.0 609.4h0M1461.8 607.0h0M1462.7 603.3h0M1464.2 604.0h0M1466.3 626.6h0M1469.0 628.5h0M1469.3 605.9h0M1471.1 626.0h0M1471.2 605.2h0M1473.4 609.6h0M1478.2 603.5h0M1479.0 629.7h0M1487.2 602.1h0M1488.2 613.4h0M1488.4 626.4h0M1490.6 608.0h0M1492.5 602.6h0M1493.3 605.8h0M1495.6 615.3h0M1496.4 616.7h0M1496.9 613.0h0M1500.5 627.2h0M1502.6 620.8h0M1503.5 614.3h0M1503.6 616.0h0M1504.6 605.7h0M1504.7 627.8h0M1504.9 617.4h0M1507.3 600.5h0M1520.9 603.1h0M1521.1 625.9h0M1521.2 600.9h0M1523.4 613.8h0M1527.8 623.2h0M1528.3 621.5h0M1528.4 613.9h0M1535.2 603.1h0M1538.3 613.1h0M1539.3 605.0h0M1542.7 608.5h0M1543.0 617.3h0M1551.3 606.8h0M1551.4 615.0h0M1553.8 620.2h0M1553.9 604.4h0M1555.4 608.4h0M1555.4 621.8h0M1567.9 613.9h0M1586.7 627.5h0M693.0 646.9h0M701.2 643.8h0M703.5 648.2h0M726.8 640.8h0M728.7 648.1h0M734.5 643.5h0M745.1 634.1h0M760.3 646.2h0M793.6 652.6h0M796.3 654.8h0M804.3 657.4h0M810.7 635.3h0M818.8 645.7h0M829.3 657.8h0M832.7 637.4h0M843.7 633.1h0M852.3 655.5h0M863.7 652.1h0M865.8 644.4h0M870.6 653.3h0M871.3 644.9h0M878.1 633.3h0M879.1 635.4h0M880.6 635.9h0M881.0 655.1h0M883.8 645.2h0M892.2 643.0h0M894.3 649.4h0M897.0 641.5h0M899.0 647.2h0M909.0 643.1h0M911.5 641.4h0M914.8 655.3h0M915.9 640.8h0M916.8 652.4h0M917.3 635.4h0M919.3 632.0h0M935.2 642.1h0M936.2 640.4h0M938.2 640.4h0M938.6 649.4h0M941.5 658.5h0M942.3 652.3h0M948.5 646.7h0M948.8 634.8h0M949.5 656.0h0M954.0 641.7h0M954.4 658.3h0M955.8 649.2h0M973.2 635.2h0M973.5 648.5h0M974.0 657.7h0M978.4 635.3h0M980.8 659.3h0M982.6 655.7h0M991.0 633.0h0M998.5 630.9h0M1007.1 631.8h0M1007.8 631.0h0M1013.7 643.5h0M1028.9 655.2h0M1030.9 630.6h0M1039.6 655.6h0M1039.8 641.1h0M1040.4 637.1h0M1042.2 645.2h0M1044.1 644.0h0M1051.4 651.9h0M1052.5 645.7h0M1053.1 635.7h0M1056.1 649.5h0M1062.4 636.0h0M1064.1 633.9h0M1064.2 646.7h0M1064.7 631.9h0M1066.0 647.7h0M1072.6 640.1h0M1075.8 632.6h0M1076.3 631.1h0M1078.5 634.3h0M1083.9 642.5h0M1086.7 637.6h0M1087.1 644.9h0M1087.5 639.4h0M1090.4 659.0h0M1094.1 644.1h0M1102.1 648.0h0M1106.0 657.2h0M1106.0 642.5h0M1110.8 637.5h0M1117.7 644.9h0M1120.8 634.7h0M1122.4 649.0h0M1123.0 653.1h0M1126.1 631.6h0M1126.6 639.0h0M1127.8 635.3h0M1128.5 639.1h0M1129.6 645.0h0M1132.1 643.2h0M1134.5 658.8h0M1135.9 659.3h0M1136.1 656.9h0M1136.3 657.7h0M1138.1 657.2h0M1141.4 643.7h0M1149.3 656.3h0M1152.4 631.8h0M1153.0 638.2h0M1154.6 643.3h0M1155.4 632.9h0M1161.0 657.9h0M1161.9 659.0h0M1163.1 638.6h0M1164.7 654.4h0M1169.4 657.6h0M1170.1 631.4h0M1170.7 645.0h0M1172.6 653.6h0M1172.8 641.7h0M1176.3 645.3h0M1180.2 645.7h0M1181.1 648.9h0M1186.8 637.5h0M1192.9 633.5h0M1194.9 635.2h0M1195.0 648.6h0M1195.6 651.9h0M1196.8 636.4h0M1199.0 640.4h0M1199.6 657.4h0M1200.0 653.2h0M1202.1 646.2h0M1205.8 640.9h0M1206.4 650.0h0M1207.3 649.4h0M1209.4 652.5h0M1212.3 652.3h0M1213.3 635.6h0M1213.7 650.5h0M1214.8 651.0h0M1217.2 641.0h0M1226.7 634.6h0M1228.8 638.9h0M1242.3 643.0h0M1258.8 658.3h0M1263.1 652.8h0M1264.9 650.2h0M1267.1 640.1h0M1268.7 648.1h0M1276.5 648.3h0M1278.2 658.9h0M1278.5 634.5h0M1282.7 645.5h0M1283.2 656.7h0M1284.0 647.1h0M1286.1 646.1h0M1291.3 636.5h0M1291.6 635.9h0M1296.5 649.1h0M1297.5 659.2h0M1302.6 634.9h0M1305.3 636.1h0M1305.4 640.9h0M1310.0 657.3h0M1310.2 639.7h0M1312.4 643.8h0M1317.6 645.2h0M1317.7 630.9h0M1318.1 630.2h0M1318.4 651.3h0M1323.3 652.2h0M1324.4 641.5h0M1327.4 638.1h0M1329.9 642.6h0M1332.4 651.4h0M1333.6 645.2h0M1336.8 640.9h0M1338.2 656.2h0M1338.2 648.6h0M1338.4 641.9h0M1345.3 640.2h0M1346.5 651.2h0M1347.4 632.9h0M1348.4 659.0h0M1357.5 635.6h0M1360.5 637.2h0M1365.9 635.8h0M1367.6 630.6h0M1373.8 653.0h0M1378.2 657.9h0M1378.4 654.7h0M1379.4 647.1h0M1381.6 659.2h0M1382.3 643.1h0M1382.6 635.0h0M1383.0 651.5h0M1386.6 635.6h0M1387.9 649.1h0M1388.6 648.5h0M1389.0 657.3h0M1390.3 654.5h0M1390.6 649.4h0M1392.9 658.8h0M1397.2 636.4h0M1408.2 647.0h0M1412.7 655.1h0M1416.7 634.7h0M1419.3 647.9h0M1422.3 638.4h0M1424.6 636.5h0M1424.9 646.7h0M1425.3 657.0h0M1426.3 637.9h0M1427.3 636.6h0M1427.6 642.0h0M1427.9 641.6h0M1428.3 645.4h0M1428.8 636.9h0M1429.4 636.3h0M1429.5 639.2h0M1430.6 634.9h0M1430.7 640.2h0M1434.3 658.0h0M1435.4 632.0h0M1435.4 645.8h0M1438.8 636.7h0M1439.5 636.1h0M1440.2 639.3h0M1440.7 647.8h0M1441.5 654.0h0M1442.5 632.8h0M1445.2 631.0h0M1450.1 647.5h0M1451.5 657.5h0M1451.6 644.0h0M1452.5 647.3h0M1455.3 658.7h0M1458.9 653.7h0M1460.6 655.8h0M1460.7 655.6h0M1461.4 637.1h0M1464.7 643.4h0M1465.1 651.2h0M1468.3 633.2h0M1470.3 657.5h0M1471.9 630.8h0M1472.4 635.0h0M1475.2 648.5h0M1479.1 632.8h0M1482.6 658.3h0M1484.3 630.6h0M1485.8 634.2h0M1486.7 651.0h0M1488.4 645.8h0M1490.2 635.6h0M1492.1 635.1h0M1494.6 645.4h0M1495.6 652.3h0M1496.3 631.0h0M1496.9 654.7h0M1498.2 651.9h0M1503.1 658.8h0M1505.4 659.8h0M1506.4 653.5h0M1506.5 636.7h0M1508.3 640.2h0M1508.6 636.6h0M1510.0 652.9h0M1516.3 632.2h0M1516.3 647.7h0M1519.0 653.4h0M1523.9 645.2h0M1526.6 633.4h0M1530.6 644.7h0M1533.8 654.3h0M1535.6 638.9h0M1538.2 644.0h0M1538.7 642.3h0M1541.2 633.7h0M1543.3 640.9h0M1543.4 634.2h0M1545.8 648.1h0M1549.9 654.5h0M1550.3 638.1h0M1552.4 645.6h0M1553.9 637.2h0M1558.5 641.1h0M1562.4 651.9h0M1569.0 644.3h0M1591.0 659.8h0M1620.0 659.6h0M653.9 676.6h0M655.3 675.1h0M656.2 674.4h0M662.8 666.0h0M665.2 663.4h0M669.1 676.6h0M695.0 684.3h0M698.7 672.7h0M719.9 683.7h0M743.2 688.3h0M747.1 687.6h0M757.1 677.1h0M760.9 682.7h0M768.1 678.0h0M779.5 688.6h0M800.7 676.9h0M803.4 688.2h0M837.1 684.4h0M839.3 676.4h0M869.9 669.8h0M887.4 681.5h0M889.5 686.5h0M891.0 663.5h0M915.3 670.7h0M925.9 676.9h0M932.7 672.0h0M940.1 667.5h0M941.1 670.2h0M943.6 669.5h0M944.1 679.2h0M944.5 670.1h0M948.5 676.1h0M950.1 681.5h0M950.4 678.5h0M955.9 669.3h0M968.2 674.1h0M978.1 688.6h0M983.2 679.3h0M985.9 660.2h0M988.0 666.9h0M990.4 674.7h0M993.6 685.1h0M1004.8 683.1h0M1005.3 680.3h0M1016.1 667.1h0M1025.7 687.9h0M1031.3 674.7h0M1036.5 679.3h0M1037.2 685.9h0M1049.9 680.1h0M1052.2 666.5h0M1058.8 688.5h0M1060.7 674.8h0M1063.6 675.1h0M1081.8 668.4h0M1087.0 673.4h0M1089.7 660.5h0M1090.3 674.8h0M1090.4 680.0h0M1091.2 662.2h0M1106.3 679.1h0M1106.8 675.9h0M1110.1 661.0h0M1118.2 676.3h0M1128.0 660.8h0M1128.9 660.9h0M1135.3 668.0h0M1135.8 677.1h0M1136.1 674.3h0M1136.1 661.1h0M1138.8 662.0h0M1139.8 673.0h0M1145.4 670.3h0M1145.7 673.5h0M1145.7 661.1h0M1151.7 686.3h0M1153.0 663.1h0M1154.1 688.3h0M1158.3 680.9h0M1158.6 688.9h0M1159.8 684.7h0M1164.2 686.3h0M1167.7 661.7h0M1168.1 665.7h0M1169.1 672.5h0M1169.1 679.5h0M1170.0 687.0h0M1172.3 687.4h0M1175.4 660.8h0M1175.7 685.1h0M1176.1 684.8h0M1178.6 676.6h0M1182.1 662.7h0M1182.9 666.6h0M1183.1 685.1h0M1187.2 662.9h0M1191.4 684.9h0M1192.9 676.4h0M1193.2 667.5h0M1193.2 685.7h0M1193.3 688.2h0M1193.6 677.1h0M1194.6 670.7h0M1198.8 678.0h0M1201.7 678.9h0M1202.7 669.8h0M1203.2 688.7h0M1204.6 687.1h0M1204.8 677.1h0M1205.8 670.7h0M1207.2 687.6h0M1207.3 676.4h0M1207.8 688.1h0M1208.3 660.8h0M1208.9 687.6h0M1209.0 683.7h0M1209.1 684.4h0M1211.1 678.2h0M1212.6 680.2h0M1213.1 677.4h0M1215.7 680.6h0M1218.5 684.8h0M1220.7 687.7h0M1223.5 687.9h0M1227.6 661.6h0M1232.3 683.9h0M1233.1 669.1h0M1239.5 662.4h0M1242.0 663.0h0M1245.8 665.1h0M1246.3 677.7h0M1248.0 670.1h0M1248.8 687.5h0M1252.3 690.0h0M1252.7 686.3h0M1255.9 664.1h0M1265.1 671.5h0M1267.4 661.1h0M1268.2 668.3h0M1272.0 683.5h0M1277.2 670.0h0M1282.4 680.4h0M1290.0 665.1h0M1291.1 682.7h0M1296.5 686.3h0M1299.5 682.4h0M1299.6 681.4h0M1302.5 665.4h0M1302.5 680.3h0M1303.8 679.5h0M1307.2 677.6h0M1312.5 664.8h0M1313.7 679.2h0M1316.1 685.6h0M1316.6 675.6h0M1320.3 686.1h0M1320.6 678.5h0M1322.6 685.3h0M1331.2 674.5h0M1331.8 683.1h0M1333.2 683.1h0M1335.3 682.3h0M1336.9 679.1h0M1338.9 660.7h0M1339.0 676.2h0M1340.4 688.1h0M1340.4 677.5h0M1341.2 674.6h0M1341.3 665.1h0M1342.2 672.6h0M1344.1 662.1h0M1350.0 684.2h0M1352.1 671.8h0M1352.6 667.9h0M1355.1 683.2h0M1358.7 662.6h0M1360.4 663.6h0M1363.9 664.7h0M1364.1 689.7h0M1364.2 664.2h0M1373.5 689.5h0M1374.3 679.2h0M1375.1 677.0h0M1375.3 669.9h0M1375.6 685.0h0M1375.8 661.9h0M1376.1 667.1h0M1383.0 661.6h0M1384.9 680.4h0M1389.0 680.6h0M1395.4 674.5h0M1397.6 685.4h0M1400.5 664.5h0M1402.6 675.5h0M1402.7 689.2h0M1403.3 674.4h0M1403.3 669.5h0M1403.7 669.4h0M1403.9 677.6h0M1405.7 679.9h0M1409.0 688.5h0M1410.2 688.7h0M1411.4 689.0h0M1413.8 678.3h0M1414.4 684.9h0M1416.5 688.5h0M1418.4 686.2h0M1425.7 674.8h0M1426.1 669.4h0M1427.8 675.1h0M1428.7 662.7h0M1429.3 672.9h0M1430.8 672.7h0M1431.3 668.8h0M1432.7 687.7h0M1432.7 671.0h0M1432.8 670.1h0M1435.4 680.2h0M1435.4 663.7h0M1435.5 663.0h0M1436.3 662.1h0M1437.1 665.8h0M1439.1 670.0h0M1441.9 688.9h0M1442.2 661.8h0M1442.2 689.9h0M1445.7 686.0h0M1446.1 680.6h0M1447.1 684.8h0M1447.7 682.9h0M1453.4 679.0h0M1453.7 684.8h0M1454.4 684.4h0M1454.9 678.3h0M1455.6 684.3h0M1457.0 665.4h0M1458.0 683.7h0M1458.9 674.4h0M1461.1 674.0h0M1461.2 678.6h0M1461.8 663.5h0M1462.3 684.6h0M1462.7 670.3h0M1463.3 683.7h0M1463.3 671.1h0M1464.4 672.8h0M1467.3 681.5h0M1469.1 680.7h0M1472.2 673.1h0M1472.5 681.5h0M1476.8 683.6h0M1477.6 678.8h0M1478.6 678.8h0M1479.7 685.0h0M1480.1 677.8h0M1481.8 663.3h0M1482.1 676.8h0M1485.4 665.0h0M1486.5 666.0h0M1486.9 680.9h0M1489.8 688.9h0M1496.1 662.1h0M1502.6 688.0h0M1505.2 677.4h0M1505.3 686.3h0M1506.3 665.0h0M1507.8 682.5h0M1508.8 680.0h0M1508.8 670.6h0M1511.8 687.2h0M1518.5 672.0h0M1521.4 660.8h0M1521.4 677.2h0M1522.0 663.1h0M1523.1 671.1h0M1524.3 673.7h0M1526.2 677.4h0M1535.3 680.2h0M1535.8 684.1h0M1540.0 675.4h0M1540.1 676.2h0M1543.2 679.9h0M1543.5 671.1h0M1544.7 671.0h0M1547.3 670.6h0M1550.3 664.7h0M1550.7 666.5h0M1550.8 669.7h0M1552.0 672.4h0M1553.6 660.6h0M1568.9 669.1h0M1578.7 679.2h0M1578.9 674.9h0M1585.1 675.0h0M624.2 717.1h0M625.8 706.6h0M633.7 714.2h0M635.0 710.2h0M636.6 693.8h0M637.1 707.1h0M638.6 708.5h0M638.8 694.9h0M641.6 709.9h0M648.8 713.9h0M650.4 707.9h0M655.2 708.6h0M657.3 714.0h0M659.9 700.2h0M660.1 695.0h0M660.5 716.3h0M665.2 693.3h0M669.7 690.4h0M670.0 702.1h0M681.0 710.2h0M686.8 718.0h0M691.5 718.2h0M693.7 692.3h0M694.7 707.3h0M706.1 693.8h0M710.0 701.2h0M717.8 710.6h0M734.3 705.7h0M734.9 698.6h0M736.4 714.4h0M736.8 718.4h0M738.8 719.0h0M745.2 715.7h0M745.4 717.3h0M746.7 714.8h0M754.9 714.7h0M761.7 715.7h0M762.3 699.9h0M763.7 700.1h0M767.8 716.1h0M768.3 694.1h0M769.4 697.9h0M776.4 718.5h0M778.1 694.4h0M802.8 716.8h0M802.9 700.3h0M821.0 712.3h0M833.1 718.1h0M843.6 695.5h0M848.3 704.0h0M865.0 712.7h0M888.3 706.7h0M889.1 697.7h0M897.4 690.8h0M915.6 700.7h0M923.4 697.5h0M930.6 703.0h0M933.4 717.9h0M936.9 693.1h0M949.3 695.4h0M951.0 700.4h0M951.4 700.3h0M952.4 696.5h0M956.4 704.9h0M956.5 707.7h0M959.3 700.1h0M961.3 698.3h0M966.8 716.3h0M968.4 703.6h0M968.5 700.6h0M972.6 702.5h0M981.5 698.0h0M982.1 690.3h0M982.5 702.3h0M985.5 702.5h0M992.5 711.4h0M993.7 706.5h0M1003.0 711.1h0M1006.5 708.6h0M1008.4 695.8h0M1009.9 711.6h0M1013.2 692.8h0M1013.7 716.7h0M1018.7 700.3h0M1020.4 705.2h0M1026.3 695.8h0M1031.9 699.6h0M1031.9 698.2h0M1032.0 708.8h0M1035.7 718.4h0M1036.2 719.0h0M1041.2 706.5h0M1056.3 702.6h0M1069.6 701.9h0M1077.2 708.3h0M1078.3 706.2h0M1082.9 713.2h0M1086.9 717.1h0M1090.3 702.5h0M1094.8 709.7h0M1096.2 709.8h0M1096.9 709.7h0M1098.9 708.1h0M1102.4 695.5h0M1105.8 690.1h0M1107.5 694.3h0M1111.7 705.5h0M1113.8 717.2h0M1116.4 708.6h0M1118.9 709.0h0M1121.8 696.5h0M1125.9 700.4h0M1127.3 699.4h0M1129.8 705.5h0M1130.1 705.4h0M1131.2 704.3h0M1131.2 697.2h0M1132.0 697.1h0M1138.9 714.1h0M1139.5 699.9h0M1142.1 700.0h0M1143.8 699.9h0M1147.5 697.2h0M1148.3 715.3h0M1148.6 691.0h0M1154.4 709.9h0M1155.5 716.6h0M1157.9 718.1h0M1158.6 696.2h0M1161.0 717.5h0M1165.3 699.4h0M1168.9 697.0h0M1170.7 698.5h0M1172.7 703.6h0M1176.1 714.7h0M1179.6 710.5h0M1181.5 712.2h0M1182.8 691.4h0M1186.2 700.2h0M1188.0 719.5h0M1189.2 706.2h0M1189.3 716.2h0M1192.4 718.0h0M1192.9 704.6h0M1195.8 700.0h0M1197.0 702.4h0M1201.5 700.6h0M1202.3 715.2h0M1202.4 713.4h0M1204.0 706.8h0M1208.5 717.2h0M1209.8 717.5h0M1214.8 707.9h0M1216.5 697.7h0M1217.9 695.1h0M1219.7 694.0h0M1222.9 691.8h0M1225.3 711.1h0M1226.8 708.6h0M1228.1 717.6h0M1231.6 693.0h0M1244.8 698.3h0M1248.5 713.4h0M1252.7 701.1h0M1253.0 710.9h0M1255.3 705.1h0M1255.7 695.9h0M1261.5 709.2h0M1263.7 716.8h0M1265.8 717.1h0M1274.6 713.9h0M1287.3 707.2h0M1290.5 715.4h0M1290.7 691.3h0M1303.3 700.7h0M1306.9 702.7h0M1319.1 717.3h0M1322.6 714.0h0M1326.9 700.7h0M1329.0 700.2h0M1333.1 705.5h0M1335.9 699.3h0M1338.6 717.8h0M1340.3 695.7h0M1342.3 690.1h0M1342.3 712.5h0M1344.2 718.4h0M1346.6 696.5h0M1347.7 719.0h0M1349.5 711.1h0M1350.1 709.0h0M1350.7 705.2h0M1351.9 718.0h0M1352.4 711.6h0M1354.2 700.0h0M1356.7 711.0h0M1358.4 713.8h0M1359.4 697.2h0M1361.9 691.6h0M1371.4 712.3h0M1372.5 712.7h0M1375.1 718.8h0M1377.3 695.0h0M1378.2 706.3h0M1378.2 691.9h0M1378.3 698.5h0M1378.4 696.8h0M1379.1 693.5h0M1380.1 703.5h0M1380.5 703.2h0M1384.7 701.6h0M1386.8 710.4h0M1388.6 699.5h0M1390.1 707.9h0M1394.3 712.2h0M1397.6 719.4h0M1398.0 699.5h0M1402.2 699.7h0M1404.5 712.0h0M1404.9 690.4h0M1405.6 717.9h0M1406.3 714.0h0M1406.3 706.6h0M1406.8 690.5h0M1408.4 711.2h0M1410.5 718.6h0M1412.2 709.5h0M1414.4 701.0h0M1415.0 711.9h0M1415.6 697.2h0M1415.9 716.6h0M1419.3 705.5h0M1420.4 691.7h0M1420.7 717.2h0M1422.6 702.7h0M1423.5 697.0h0M1426.4 690.9h0M1427.2 711.1h0M1427.5 716.5h0M1429.1 703.5h0M1434.3 706.7h0M1434.4 712.6h0M1436.8 695.4h0M1438.8 714.4h0M1441.2 693.0h0M1441.8 708.5h0M1442.4 704.0h0M1442.7 708.1h0M1448.9 715.6h0M1451.5 696.4h0M1452.4 707.8h0M1454.5 716.5h0M1455.1 705.0h0M1455.6 708.1h0M1459.7 703.4h0M1461.1 700.7h0M1462.7 700.3h0M1463.6 710.6h0M1464.5 715.6h0M1465.5 695.2h0M1465.6 699.0h0M1467.0 718.8h0M1467.5 702.6h0M1468.0 713.5h0M1471.0 695.5h0M1472.0 706.4h0M1474.7 693.2h0M1475.9 708.5h0M1476.8 704.2h0M1479.5 708.6h0M1482.9 692.8h0M1486.4 715.6h0M1491.5 692.4h0M1492.4 711.6h0M1492.9 710.0h0M1493.7 712.7h0M1494.4 692.9h0M1495.8 703.5h0M1497.0 715.2h0M1499.0 709.5h0M1500.0 710.0h0M1502.3 692.2h0M1502.7 701.1h0M1504.0 715.7h0M1504.7 695.3h0M1507.2 701.8h0M1508.0 694.9h0M1508.8 705.8h0M1513.6 713.5h0M1515.5 705.5h0M1518.5 693.6h0M1518.5 715.4h0M1518.7 716.2h0M1519.2 694.8h0M1519.6 693.3h0M1520.2 691.3h0M1520.5 716.9h0M1522.2 697.3h0M1526.4 694.6h0M1528.5 699.1h0M1529.6 700.3h0M1529.8 710.1h0M1542.3 702.3h0M1547.5 697.2h0M1570.6 708.0h0M1571.4 702.3h0M1580.0 700.6h0M1585.8 698.8h0M1602.0 716.0h0M1602.3 718.1h0M1604.5 704.9h0M1607.8 711.2h0M568.6 748.8h0M585.3 749.1h0M586.9 745.9h0M593.9 744.7h0M599.5 729.9h0M599.6 723.9h0M610.0 749.9h0M619.4 721.9h0M630.4 729.8h0M634.5 747.8h0M643.4 749.8h0M645.6 747.7h0M652.1 741.1h0M655.9 728.9h0M666.0 748.5h0M667.6 749.9h0M667.6 721.2h0M672.9 730.3h0M673.1 745.8h0M673.3 734.9h0M673.8 749.2h0M676.9 743.2h0M677.7 740.0h0M679.9 742.3h0M680.5 742.5h0M685.2 745.4h0M691.5 738.3h0M693.3 741.0h0M697.7 730.8h0M699.5 747.9h0M706.2 723.7h0M706.4 728.7h0M713.5 721.1h0M715.2 731.0h0M725.3 726.2h0M726.3 739.0h0M727.5 732.0h0M730.1 726.2h0M733.4 726.2h0M737.1 738.7h0M740.5 724.4h0M740.7 737.2h0M743.6 737.3h0M744.5 721.1h0M744.8 734.1h0M750.9 721.6h0M756.7 730.8h0M762.3 736.0h0M763.0 720.0h0M764.4 743.4h0M765.1 730.2h0M765.4 731.4h0M765.7 732.7h0M767.4 735.5h0M767.7 736.1h0M770.5 729.6h0M772.0 721.1h0M772.3 742.1h0M784.2 727.7h0M793.0 736.7h0M796.5 731.7h0M798.6 748.9h0M822.5 720.0h0M834.6 746.9h0M846.6 731.0h0M859.0 730.6h0M863.6 724.2h0M876.9 724.7h0M908.4 722.4h0M921.6 727.7h0M925.8 726.6h0M928.3 733.8h0M929.8 749.4h0M945.9 748.3h0M954.6 731.3h0M977.8 722.3h0M978.6 723.7h0M978.8 722.8h0M981.6 748.2h0M982.1 736.0h0M983.8 743.6h0M986.0 739.4h0M988.1 745.2h0M990.4 742.1h0M992.5 727.6h0M995.3 749.3h0M1004.8 741.3h0M1009.5 727.5h0M1012.5 721.5h0M1014.4 729.2h0M1016.3 728.0h0M1019.8 738.2h0M1020.4 735.5h0M1026.7 723.4h0M1029.4 727.3h0M1030.7 738.6h0M1031.3 731.2h0M1031.3 744.2h0M1037.2 740.2h0M1041.3 745.4h0M1041.7 746.3h0M1041.8 742.1h0M1042.5 726.0h0M1044.0 742.0h0M1044.2 738.7h0M1045.3 745.7h0M1045.7 743.0h0M1048.3 743.0h0M1055.7 722.6h0M1056.1 726.4h0M1056.9 723.9h0M1060.4 725.1h0M1063.5 746.8h0M1065.5 747.1h0M1074.0 734.5h0M1079.8 742.0h0M1080.3 733.9h0M1084.9 736.1h0M1086.1 732.6h0M1089.0 739.8h0M1093.0 726.5h0M1095.6 738.4h0M1098.5 730.5h0M1102.4 741.0h0M1111.6 735.6h0M1115.4 737.4h0M1116.8 733.0h0M1119.2 736.1h0M1120.8 731.7h0M1123.4 740.1h0M1124.2 738.1h0M1124.2 740.3h0M1124.9 729.6h0M1125.5 728.0h0M1126.2 740.2h0M1127.4 743.2h0M1127.4 747.5h0M1127.5 742.2h0M1127.9 739.0h0M1129.3 735.2h0M1137.1 733.1h0M1137.8 723.9h0M1150.0 720.4h0M1150.1 743.5h0M1152.5 730.8h0M1154.3 742.5h0M1155.5 744.1h0M1157.4 723.5h0M1161.1 724.7h0M1162.4 733.4h0M1165.4 721.1h0M1170.1 743.8h0M1180.0 744.0h0M1183.1 746.8h0M1183.6 741.4h0M1183.8 745.6h0M1186.8 747.0h0M1191.0 730.7h0M1191.4 725.4h0M1191.6 722.4h0M1192.5 721.6h0M1196.0 730.7h0M1197.9 733.4h0M1199.1 747.4h0M1199.9 738.8h0M1200.1 741.9h0M1200.7 738.0h0M1207.6 727.7h0M1208.4 740.7h0M1209.2 749.1h0M1209.8 740.0h0M1210.2 726.7h0M1211.5 739.9h0M1212.8 740.3h0M1213.0 749.2h0M1215.8 744.6h0M1216.2 734.0h0M1220.8 735.6h0M1223.2 725.5h0M1225.7 727.6h0M1227.0 736.7h0M1227.9 744.4h0M1241.9 726.8h0M1248.0 734.3h0M1252.9 743.6h0M1286.2 748.2h0M1291.7 724.7h0M1291.9 726.1h0M1295.6 741.5h0M1300.2 745.7h0M1302.4 732.1h0M1313.9 730.9h0M1314.8 730.6h0M1317.6 744.5h0M1318.2 725.8h0M1319.0 726.9h0M1322.0 749.2h0M1322.2 735.0h0M1322.2 747.0h0M1322.3 725.0h0M1324.7 731.1h0M1326.7 746.1h0M1326.9 747.5h0M1330.3 740.9h0M1331.0 725.5h0M1331.8 726.1h0M1333.1 721.9h0M1334.1 725.6h0M1335.7 733.0h0M1338.0 746.8h0M1338.7 728.6h0M1340.1 740.1h0M1341.2 734.0h0M1344.3 727.5h0M1345.7 740.2h0M1350.0 732.1h0M1350.5 747.4h0M1352.8 725.3h0M1353.1 749.0h0M1359.0 749.6h0M1359.1 721.0h0M1359.1 744.5h0M1359.2 729.0h0M1363.0 734.3h0M1365.1 726.0h0M1366.4 725.0h0M1369.2 734.8h0M1371.8 740.6h0M1375.1 720.6h0M1377.0 724.5h0M1378.8 724.8h0M1381.4 735.9h0M1383.8 721.9h0M1387.3 746.6h0M1390.9 725.3h0M1392.0 740.3h0M1394.7 725.4h0M1397.1 740.4h0M1397.4 724.3h0M1400.5 738.8h0M1401.7 745.9h0M1403.2 737.7h0M1403.4 744.9h0M1403.7 733.4h0M1404.3 732.1h0M1404.6 724.2h0M1405.3 734.2h0M1410.7 720.6h0M1413.8 749.5h0M1415.0 747.7h0M1415.7 729.1h0M1418.8 721.5h0M1420.1 736.0h0M1420.4 724.9h0M1424.3 749.0h0M1425.2 732.7h0M1429.6 736.2h0M1430.3 741.8h0M1430.6 737.5h0M1430.7 747.8h0M1432.5 747.4h0M1436.7 720.5h0M1438.6 741.8h0M1438.8 730.8h0M1439.3 720.9h0M1446.6 725.2h0M1450.5 729.3h0M1453.7 726.7h0M1454.1 723.0h0M1456.1 728.2h0M1463.1 742.5h0M1463.8 727.0h0M1467.0 722.0h0M1467.3 735.9h0M1469.9 724.8h0M1471.7 724.3h0M1474.5 749.4h0M1475.3 730.1h0M1477.0 746.2h0M1477.9 745.7h0M1478.1 721.1h0M1479.5 740.1h0M1480.2 722.9h0M1482.8 723.9h0M1483.2 728.7h0M1484.2 744.5h0M1490.7 734.9h0M1491.4 736.9h0M1492.7 729.4h0M1493.2 725.8h0M1493.8 746.1h0M1502.5 733.9h0M1502.6 731.8h0M1503.8 728.7h0M1517.2 749.6h0M1520.0 722.0h0M1520.1 729.1h0M1522.8 735.7h0M1524.4 730.2h0M1526.5 735.1h0M1530.4 737.4h0M1533.7 731.9h0M1534.9 721.1h0M1538.1 744.7h0M1539.2 747.8h0M1547.4 727.0h0M1551.6 734.3h0M1558.0 729.0h0M1564.6 742.3h0M1570.8 722.5h0M1587.1 736.0h0M1587.2 740.0h0M1594.8 735.2h0M513.2 770.9h0M521.4 773.8h0M533.2 770.8h0M539.7 773.8h0M540.5 770.2h0M541.2 763.6h0M544.9 769.7h0M546.1 760.7h0M558.5 756.1h0M559.6 779.7h0M576.6 767.8h0M585.9 769.3h0M586.8 762.6h0M592.9 756.4h0M593.5 762.0h0M594.7 769.7h0M595.1 768.2h0M597.3 753.4h0M599.2 755.5h0M600.0 776.5h0M601.1 769.0h0M602.4 770.7h0M602.7 772.9h0M606.5 778.5h0M609.7 762.1h0M613.3 764.2h0M614.1 762.0h0M615.4 755.4h0M616.9 752.4h0M619.5 750.4h0M620.0 772.1h0M620.6 772.2h0M623.7 754.8h0M625.7 775.2h0M629.5 759.3h0M638.0 770.3h0M638.6 779.3h0M641.3 771.5h0M642.7 751.5h0M661.2 772.3h0M661.9 752.9h0M672.6 774.2h0M687.2 777.0h0M693.0 762.6h0M693.4 750.6h0M697.7 752.7h0M697.8 770.9h0M699.7 752.7h0M702.8 773.7h0M703.8 768.5h0M706.9 779.3h0M711.3 761.1h0M718.2 751.3h0M718.9 753.5h0M720.3 756.1h0M743.5 762.7h0M745.8 766.5h0M759.9 776.6h0M776.0 755.9h0M790.1 777.9h0M790.5 750.1h0M803.4 760.0h0M823.7 759.9h0M835.3 751.8h0M851.0 766.0h0M859.5 765.9h0M860.2 760.3h0M912.2 772.2h0M913.9 770.1h0M916.4 762.9h0M916.4 775.8h0M947.1 773.4h0M956.7 774.9h0M961.0 765.9h0M961.8 774.7h0M969.1 767.2h0M979.7 775.1h0M988.1 768.5h0M990.5 768.7h0M991.3 763.3h0M996.7 775.7h0M997.7 774.3h0M998.3 757.1h0M999.4 767.2h0M1002.6 755.9h0M1005.3 767.3h0M1005.5 772.6h0M1005.6 768.5h0M1015.1 772.2h0M1016.8 754.4h0M1017.3 759.2h0M1018.3 758.9h0M1019.4 750.2h0M1027.0 771.8h0M1032.8 772.6h0M1036.8 778.5h0M1037.8 771.3h0M1037.9 757.1h0M1044.8 753.9h0M1045.3 774.6h0M1046.5 756.1h0M1050.5 755.0h0M1051.6 768.7h0M1059.0 779.7h0M1059.6 773.1h0M1065.1 754.1h0M1069.8 752.7h0M1072.1 779.7h0M1073.2 771.0h0M1073.3 778.4h0M1074.2 766.1h0M1076.5 776.4h0M1086.6 772.7h0M1087.9 750.9h0M1088.3 756.2h0M1090.3 776.2h0M1093.0 753.3h0M1097.1 773.3h0M1098.1 764.9h0M1100.6 765.9h0M1102.1 772.0h0M1104.7 769.5h0M1106.6 779.6h0M1108.2 777.5h0M1114.1 760.7h0M1114.2 763.9h0M1117.1 762.4h0M1124.3 768.9h0M1124.4 766.9h0M1127.7 754.4h0M1127.9 763.4h0M1129.7 768.3h0M1131.7 773.0h0M1138.6 778.3h0M1142.2 771.2h0M1142.6 775.0h0M1146.2 770.4h0M1148.0 768.4h0M1151.6 764.1h0M1152.8 766.5h0M1153.0 750.1h0M1155.0 750.5h0M1156.8 767.0h0M1158.9 763.9h0M1165.4 765.1h0M1166.3 765.5h0M1167.2 770.0h0M1169.5 762.3h0M1173.0 759.2h0M1176.7 778.8h0M1178.9 764.2h0M1180.2 776.5h0M1180.6 755.9h0M1181.9 752.2h0M1182.9 752.9h0M1185.1 772.1h0M1185.5 753.9h0M1191.8 758.8h0M1196.9 770.3h0M1202.6 750.1h0M1208.3 774.3h0M1210.4 764.4h0M1212.0 777.7h0M1212.4 755.6h0M1213.1 761.2h0M1215.1 756.2h0M1217.5 763.8h0M1223.3 756.6h0M1226.5 758.4h0M1227.5 765.0h0M1229.2 753.0h0M1231.2 755.3h0M1235.5 771.8h0M1238.5 763.5h0M1240.0 756.4h0M1242.2 760.9h0M1243.7 763.4h0M1247.1 770.0h0M1249.3 772.2h0M1251.2 778.2h0M1252.3 774.6h0M1258.2 765.9h0M1265.0 759.9h0M1265.2 777.4h0M1268.5 755.8h0M1269.6 763.0h0M1285.4 754.5h0M1287.8 758.1h0M1288.3 770.6h0M1289.8 778.7h0M1292.4 758.4h0M1292.8 751.2h0M1297.8 754.1h0M1299.2 768.6h0M1304.9 765.7h0M1305.6 754.7h0M1306.2 764.8h0M1306.5 761.0h0M1309.9 776.4h0M1316.0 758.1h0M1317.7 750.4h0M1318.1 763.0h0M1318.9 779.5h0M1320.6 756.8h0M1323.3 767.9h0M1328.8 763.3h0M1336.5 767.3h0M1343.7 773.8h0M1345.1 760.5h0M1349.3 769.7h0M1355.5 766.9h0M1355.5 765.1h0M1356.5 764.2h0M1357.0 763.2h0M1362.4 753.4h0M1363.2 778.2h0M1363.2 761.0h0M1363.6 779.9h0M1367.9 761.6h0M1374.9 775.8h0M1378.9 760.2h0M1382.5 776.4h0M1383.9 758.1h0M1384.6 763.6h0M1386.7 764.8h0M1387.7 757.5h0M1391.2 764.9h0M1392.5 761.4h0M1393.7 760.3h0M1395.9 751.7h0M1397.7 754.5h0M1398.7 754.5h0M1399.0 778.7h0M1400.0 772.5h0M1400.0 770.5h0M1401.8 776.2h0M1404.9 772.9h0M1406.7 778.0h0M1409.1 765.7h0M1409.5 752.7h0M1411.4 768.0h0M1413.1 776.6h0M1416.8 756.9h0M1417.3 752.7h0M1419.3 764.6h0M1422.0 768.5h0M1423.2 760.8h0M1435.2 777.4h0M1437.2 772.1h0M1438.6 769.5h0M1440.1 769.4h0M1444.2 753.1h0M1454.1 762.4h0M1455.1 766.3h0M1460.1 755.3h0M1460.6 764.8h0M1460.6 772.5h0M1460.9 761.6h0M1465.0 772.5h0M1465.1 775.6h0M1465.7 774.2h0M1470.6 771.8h0M1478.7 761.1h0M1479.0 777.3h0M1482.7 778.6h0M1483.7 760.8h0M1484.1 771.2h0M1484.1 754.0h0M1502.1 769.2h0M1503.1 768.0h0M1515.3 750.5h0M1515.4 766.6h0M1515.8 773.2h0M1520.1 755.9h0M1520.8 754.3h0M1521.2 752.5h0M1527.3 775.7h0M1529.7 776.9h0M1549.9 756.6h0M1550.7 758.9h0M1557.4 771.2h0M1560.8 772.2h0M1561.3 773.8h0M1570.3 774.1h0M1575.3 778.5h0M1578.3 758.6h0M1578.9 755.4h0M1580.6 762.5h0M1582.8 763.7h0M1587.2 759.7h0M1591.9 755.6h0M1598.5 752.5h0M1604.5 767.7h0M1614.2 777.5h0M1618.1 779.5h0M1626.8 774.2h0M1633.3 764.5h0M1635.9 757.7h0M488.7 807.9h0M492.1 808.0h0M495.1 808.2h0M496.5 804.1h0M496.5 789.7h0M498.6 802.5h0M502.2 805.7h0M510.0 804.4h0M515.6 781.3h0M515.7 806.2h0M520.5 792.2h0M521.6 801.0h0M523.4 800.1h0M526.3 808.9h0M526.5 796.5h0M527.7 794.2h0M531.4 792.6h0M535.1 800.5h0M538.1 785.0h0M548.8 797.1h0M554.9 803.0h0M563.0 785.1h0M565.4 798.0h0M566.0 781.4h0M575.6 787.8h0M578.1 802.6h0M578.1 800.6h0M588.5 800.1h0M588.7 801.8h0M594.9 785.7h0M596.7 808.3h0M605.9 782.3h0M606.4 782.4h0M609.3 800.4h0M612.8 793.4h0M622.7 784.7h0M624.3 806.6h0M630.3 788.3h0M635.7 805.2h0M637.1 789.1h0M640.3 789.4h0M641.5 800.4h0M643.4 788.9h0M643.6 787.9h0M644.3 806.8h0M655.6 809.8h0M658.1 804.6h0M667.7 803.9h0M674.3 805.1h0M674.3 805.1h0M675.5 798.6h0M676.7 806.0h0M677.5 809.9h0M682.4 800.3h0M684.9 807.0h0M685.9 791.9h0M690.3 788.3h0M694.6 795.8h0M696.6 798.5h0M700.3 788.8h0M703.5 782.2h0M708.0 780.4h0M709.9 800.0h0M711.7 798.7h0M712.3 803.1h0M712.8 785.9h0M718.7 801.9h0M730.2 803.9h0M730.6 792.0h0M742.3 809.7h0M747.9 802.5h0M785.2 799.7h0M798.6 796.3h0M820.0 781.0h0M852.8 801.4h0M862.5 804.0h0M864.3 807.6h0M864.9 780.7h0M870.2 801.9h0M871.0 793.2h0M871.6 805.4h0M872.8 809.8h0M873.7 798.8h0M889.3 801.4h0M902.7 796.6h0M906.8 807.7h0M941.5 801.3h0M948.5 794.2h0M949.8 782.6h0M950.3 802.2h0M961.9 789.5h0M962.5 788.9h0M962.6 790.0h0M964.4 798.5h0M971.4 801.8h0M972.0 802.9h0M983.1 791.2h0M986.8 787.5h0M990.1 792.6h0M990.2 808.1h0M990.4 785.8h0M991.0 782.3h0M992.2 782.8h0M994.2 800.4h0M995.4 788.8h0M998.1 796.7h0M1000.1 808.5h0M1006.0 788.0h0M1007.7 802.2h0M1008.9 797.9h0M1016.9 798.2h0M1020.9 804.5h0M1021.8 790.7h0M1023.6 786.7h0M1024.0 782.6h0M1025.2 809.5h0M1033.1 801.1h0M1034.1 781.3h0M1038.6 799.4h0M1040.1 789.7h0M1044.8 799.7h0M1048.1 795.6h0M1049.3 796.3h0M1055.1 796.0h0M1064.2 810.0h0M1067.6 797.9h0M1072.3 794.9h0M1073.3 794.7h0M1073.9 794.0h0M1077.3 797.5h0M1081.7 788.6h0M1090.6 781.5h0M1093.4 787.4h0M1093.9 808.1h0M1093.9 791.7h0M1096.7 798.4h0M1097.2 797.3h0M1098.6 780.5h0M1102.4 809.6h0M1109.3 802.2h0M1111.3 789.8h0M1115.7 791.6h0M1116.3 803.7h0M1117.9 805.6h0M1121.2 802.3h0M1126.0 807.3h0M1127.1 802.1h0M1128.3 787.5h0M1133.0 798.0h0M1143.7 786.4h0M1148.6 796.4h0M1150.9 796.8h0M1151.8 808.3h0M1152.6 806.3h0M1152.9 799.0h0M1154.9 800.7h0M1154.9 781.5h0M1155.2 782.3h0M1158.4 803.8h0M1161.5 783.3h0M1163.1 781.4h0M1164.2 805.9h0M1165.2 807.1h0M1166.2 788.2h0M1167.0 805.9h0M1167.8 793.5h0M1168.4 809.3h0M1168.8 802.8h0M1169.5 791.2h0M1173.2 780.6h0M1175.0 805.5h0M1179.2 791.3h0M1179.8 809.2h0M1179.9 785.7h0M1179.9 787.5h0M1180.1 802.9h0M1180.3 789.3h0M1180.8 787.1h0M1181.6 781.9h0M1181.9 804.4h0M1186.1 782.1h0M1188.1 792.2h0M1190.2 796.1h0M1191.3 798.0h0M1194.8 794.8h0M1195.1 797.4h0M1204.4 797.9h0M1205.0 803.4h0M1207.5 794.0h0M1208.3 799.4h0M1209.3 801.9h0M1213.4 795.6h0M1213.6 782.7h0M1216.3 783.6h0M1219.6 783.8h0M1219.7 793.6h0M1221.3 782.5h0M1224.7 795.7h0M1225.8 784.0h0M1229.1 782.9h0M1231.7 782.1h0M1232.9 795.3h0M1235.3 792.5h0M1235.8 806.1h0M1237.0 786.6h0M1237.1 782.6h0M1238.4 802.1h0M1241.0 808.7h0M1243.3 797.5h0M1243.9 788.2h0M1254.3 805.6h0M1255.8 790.0h0M1259.3 796.0h0M1260.4 797.1h0M1263.5 799.9h0M1267.0 801.6h0M1270.3 792.9h0M1270.4 805.7h0M1271.0 804.9h0M1272.7 793.8h0M1273.5 802.0h0M1274.4 802.5h0M1276.1 806.0h0M1287.8 780.6h0M1288.9 784.1h0M1294.1 787.2h0M1294.4 809.4h0M1294.7 783.6h0M1300.7 784.5h0M1300.8 803.1h0M1306.8 798.1h0M1309.0 809.6h0M1309.4 791.5h0M1310.3 783.4h0M1313.0 799.9h0M1314.8 793.0h0M1315.4 787.9h0M1315.9 798.7h0M1319.2 790.2h0M1327.9 780.3h0M1330.5 786.2h0M1330.6 805.7h0M1332.4 782.8h0M1334.1 808.0h0M1334.4 780.3h0M1337.2 802.0h0M1339.4 780.9h0M1342.8 805.2h0M1344.5 792.6h0M1344.9 796.2h0M1349.9 800.8h0M1352.8 788.4h0M1356.5 798.4h0M1356.9 790.6h0M1361.0 801.2h0M1363.8 804.6h0M1365.1 788.0h0M1367.9 781.5h0M1371.1 803.2h0M1372.2 806.5h0M1374.3 796.8h0M1374.9 788.7h0M1375.8 807.6h0M1378.4 785.0h0M1382.0 782.8h0M1382.6 799.1h0M1382.7 787.3h0M1382.9 809.4h0M1383.3 803.5h0M1384.1 806.9h0M1387.4 791.0h0M1390.9 796.7h0M1391.0 801.5h0M1396.5 802.5h0M1397.1 795.8h0M1399.5 808.9h0M1399.6 780.8h0M1399.8 801.4h0M1403.5 791.9h0M1409.1 785.3h0M1409.6 790.3h0M1410.6 798.9h0M1410.8 789.0h0M1411.4 800.7h0M1411.6 805.7h0M1411.8 793.5h0M1414.8 794.2h0M1417.4 793.8h0M1417.6 780.6h0M1423.3 805.4h0M1426.5 782.0h0M1430.3 786.7h0M1432.5 809.9h0M1435.2 788.8h0M1437.7 790.8h0M1438.9 782.8h0M1442.9 807.9h0M1443.0 786.5h0M1458.5 791.9h0M1463.4 800.9h0M1467.7 802.9h0M1471.6 791.1h0M1472.4 804.6h0M1475.2 805.8h0M1479.8 785.5h0M1485.8 789.8h0M1492.4 793.1h0M1494.1 790.3h0M1499.8 789.2h0M1501.7 784.3h0M1502.3 798.0h0M1507.2 793.5h0M1507.9 788.5h0M1513.5 786.2h0M1520.2 808.1h0M1521.0 805.1h0M1524.5 802.3h0M1528.9 804.0h0M1529.8 782.9h0M1540.1 799.4h0M1544.0 808.9h0M1545.7 784.3h0M1546.3 784.5h0M1567.0 784.8h0M1569.5 780.2h0M1571.6 805.7h0M1572.3 804.4h0M1578.7 806.4h0M1591.7 790.6h0M1597.3 798.2h0M1597.6 785.6h0M1605.7 782.5h0M1606.5 787.6h0M1607.9 781.1h0M1611.1 789.3h0M1612.5 800.3h0M1614.1 787.0h0M1617.6 794.6h0M1618.3 788.6h0M1625.0 801.9h0M1635.3 789.4h0M1644.4 801.1h0M1645.3 788.6h0M1649.2 809.7h0M460.9 835.2h0M462.1 816.6h0M463.4 824.6h0M466.2 810.7h0M467.6 810.9h0M468.3 823.6h0M469.1 832.7h0M469.2 834.4h0M469.4 835.5h0M473.6 821.5h0M477.3 828.3h0M482.2 826.7h0M487.2 826.1h0M494.9 830.4h0M496.8 815.6h0M497.8 816.3h0M498.3 834.9h0M498.7 813.1h0M501.6 828.4h0M503.5 815.2h0M504.2 824.5h0M505.8 813.2h0M508.6 836.9h0M509.8 812.3h0M510.4 829.5h0M511.8 838.4h0M523.1 828.9h0M525.7 837.4h0M531.0 828.2h0M532.5 823.7h0M534.7 814.7h0M535.2 828.6h0M537.5 817.7h0M541.1 810.3h0M541.1 837.2h0M563.9 837.8h0M564.2 839.6h0M577.3 818.8h0M585.6 813.4h0M590.8 826.9h0M593.9 834.7h0M607.7 837.5h0M614.5 836.8h0M637.9 833.9h0M646.5 835.5h0M647.3 813.3h0M648.1 812.1h0M650.5 833.8h0M652.1 816.1h0M653.9 833.1h0M655.0 821.6h0M661.5 838.0h0M661.8 815.7h0M669.3 810.5h0M671.9 819.0h0M677.6 833.8h0M683.4 826.0h0M686.6 823.2h0M688.5 831.9h0M695.9 815.6h0M701.9 839.2h0M710.4 820.2h0M722.6 830.5h0M723.6 825.1h0M724.3 825.2h0M728.1 816.9h0M733.9 815.5h0M734.3 833.1h0M738.3 810.9h0M756.3 835.2h0M761.4 831.4h0M768.5 836.2h0M772.2 829.3h0M776.3 819.0h0M779.2 813.4h0M780.0 812.8h0M781.4 817.0h0M811.8 826.0h0M812.5 811.8h0M816.3 826.7h0M819.1 827.3h0M819.3 835.2h0M840.3 820.8h0M841.4 839.5h0M841.7 836.6h0M844.8 838.0h0M846.4 831.9h0M852.0 816.7h0M856.8 824.8h0M860.9 832.7h0M863.9 828.2h0M866.4 835.0h0M869.3 821.8h0M870.2 835.2h0M870.3 829.9h0M872.4 828.3h0M872.4 834.3h0M873.8 833.6h0M877.1 829.9h0M877.9 829.5h0M882.2 815.5h0M884.4 829.1h0M888.9 810.3h0M897.0 819.6h0M898.9 811.8h0M900.7 810.7h0M901.4 819.2h0M914.1 817.9h0M921.0 838.3h0M921.1 835.4h0M922.0 811.6h0M922.7 812.1h0M924.0 819.0h0M927.3 825.0h0M941.5 834.4h0M942.5 834.4h0M954.4 812.7h0M957.2 821.6h0M959.2 832.9h0M962.9 819.5h0M966.2 832.5h0M969.9 827.6h0M993.6 814.0h0M993.7 819.7h0M1000.2 816.2h0M1007.1 828.4h0M1008.4 816.2h0M1010.0 814.1h0M1013.6 823.0h0M1019.3 833.0h0M1028.3 829.1h0M1028.6 825.4h0M1029.7 820.7h0M1032.3 816.8h0M1032.7 812.6h0M1042.0 814.2h0M1042.8 819.4h0M1044.9 822.4h0M1049.9 829.5h0M1050.0 827.6h0M1051.3 823.1h0M1052.0 832.1h0M1053.3 829.8h0M1054.6 824.1h0M1055.2 813.4h0M1055.9 816.5h0M1056.2 824.0h0M1057.7 829.4h0M1058.2 823.2h0M1061.8 828.5h0M1068.6 835.4h0M1079.9 819.9h0M1082.7 813.6h0M1093.4 822.4h0M1093.6 819.1h0M1094.3 817.4h0M1094.9 824.4h0M1096.2 820.9h0M1099.2 824.6h0M1107.7 810.6h0M1112.4 827.0h0M1112.6 816.8h0M1114.7 833.6h0M1115.4 837.5h0M1120.7 815.0h0M1121.9 815.5h0M1127.6 814.8h0M1130.1 810.5h0M1147.8 813.2h0M1148.2 822.6h0M1152.4 829.5h0M1153.5 834.9h0M1154.2 816.5h0M1156.0 830.5h0M1160.7 822.3h0M1163.4 826.1h0M1167.9 829.9h0M1173.7 834.4h0M1174.2 822.2h0M1176.8 817.9h0M1178.7 838.4h0M1181.3 813.0h0M1188.6 839.4h0M1190.8 825.9h0M1191.2 839.3h0M1193.8 826.5h0M1194.0 810.9h0M1194.1 833.2h0M1194.4 839.4h0M1196.9 812.7h0M1201.6 813.1h0M1204.1 829.8h0M1204.8 813.6h0M1207.2 837.2h0M1216.9 819.2h0M1218.4 822.5h0M1221.6 810.3h0M1221.6 816.4h0M1224.5 821.4h0M1226.1 824.5h0M1226.3 830.5h0M1227.9 820.2h0M1228.4 812.9h0M1228.9 833.7h0M1231.6 835.9h0M1232.1 812.6h0M1235.5 834.9h0M1237.8 835.9h0M1238.3 836.9h0M1238.9 815.7h0M1241.1 835.0h0M1245.8 834.1h0M1249.6 816.1h0M1251.5 813.7h0M1251.8 822.9h0M1252.5 813.3h0M1254.8 814.1h0M1255.8 838.2h0M1257.2 812.5h0M1257.7 823.3h0M1266.9 821.9h0M1268.7 816.2h0M1269.2 832.9h0M1272.8 812.6h0M1277.4 839.2h0M1281.4 828.6h0M1281.9 833.9h0M1282.7 821.3h0M1286.4 810.1h0M1287.4 829.5h0M1288.5 833.9h0M1289.0 831.7h0M1289.7 831.1h0M1291.1 838.0h0M1291.3 812.2h0M1291.4 830.3h0M1298.8 815.8h0M1299.8 813.1h0M1300.1 829.7h0M1300.1 826.6h0M1304.5 825.8h0M1305.1 811.6h0M1305.2 812.8h0M1308.9 819.9h0M1311.5 837.0h0M1311.6 835.5h0M1312.2 822.9h0M1312.9 835.4h0M1313.4 827.5h0M1313.5 835.0h0M1315.1 834.8h0M1315.9 832.5h0M1317.6 833.2h0M1317.8 813.2h0M1322.3 815.7h0M1325.9 813.0h0M1331.2 838.5h0M1331.4 831.6h0M1335.7 835.7h0M1336.6 813.0h0M1338.2 822.8h0M1340.7 821.2h0M1340.9 811.9h0M1341.5 830.9h0M1341.8 827.2h0M1342.4 830.7h0M1342.9 836.2h0M1344.3 813.0h0M1346.1 822.1h0M1346.6 813.5h0M1346.8 821.9h0M1348.8 835.0h0M1352.0 831.0h0M1352.4 831.4h0M1352.7 810.0h0M1355.0 813.0h0M1355.5 839.0h0M1356.6 812.2h0M1358.0 813.6h0M1358.7 813.2h0M1360.7 821.8h0M1361.3 828.9h0M1365.3 837.1h0M1367.1 834.9h0M1369.4 827.5h0M1369.8 837.7h0M1381.8 816.8h0M1383.8 824.7h0M1385.5 819.3h0M1386.3 824.6h0M1387.5 814.9h0M1389.5 827.1h0M1390.4 816.7h0M1395.7 813.4h0M1398.2 833.4h0M1404.1 829.9h0M1405.1 833.4h0M1407.5 822.4h0M1410.1 814.0h0M1410.5 816.1h0M1412.0 838.8h0M1413.0 839.5h0M1414.2 834.1h0M1420.8 823.0h0M1421.5 819.1h0M1422.1 837.1h0M1427.5 821.4h0M1432.3 819.2h0M1432.6 824.3h0M1437.2 822.7h0M1438.5 836.2h0M1439.9 821.1h0M1440.5 832.1h0M1440.6 823.2h0M1442.6 823.0h0M1445.7 832.1h0M1450.8 821.3h0M1456.2 825.2h0M1470.2 831.0h0M1471.2 810.1h0M1471.9 812.0h0M1476.3 832.7h0M1479.7 813.8h0M1480.0 823.1h0M1480.2 831.0h0M1485.5 827.5h0M1486.9 829.0h0M1492.6 835.6h0M1498.0 822.9h0M1504.0 812.0h0M1509.0 830.2h0M1511.2 828.2h0M1513.8 818.8h0M1518.7 832.9h0M1520.0 827.1h0M1520.2 829.7h0M1528.2 813.9h0M1528.4 832.8h0M1535.5 813.1h0M1537.8 828.8h0M1546.7 811.0h0M1554.5 836.9h0M1557.0 815.9h0M1559.6 816.0h0M1562.8 811.8h0M1567.0 831.7h0M1567.2 824.4h0M1578.0 815.9h0M1581.0 838.3h0M1587.0 826.4h0M1590.1 814.4h0M1592.6 811.2h0M1599.1 833.7h0M1604.3 822.3h0M1607.5 835.8h0M1607.8 827.8h0M1610.2 822.4h0M1614.2 823.4h0M1616.4 827.3h0M1616.7 825.3h0M1621.5 838.9h0M1643.7 834.2h0M1643.8 816.7h0M1644.0 826.3h0M1645.2 827.4h0M444.9 868.5h0M446.6 863.3h0M451.2 865.9h0M451.7 869.5h0M454.9 844.8h0M456.3 848.7h0M462.4 855.0h0M464.9 850.9h0M468.3 852.4h0M471.0 869.3h0M472.3 868.4h0M472.8 857.5h0M476.8 866.5h0M483.6 854.4h0M483.9 845.1h0M486.0 857.1h0M489.5 853.3h0M489.5 867.8h0M489.6 851.6h0M490.4 868.9h0M492.2 862.1h0M493.9 868.1h0M495.2 866.7h0M495.4 863.6h0M496.0 864.4h0M496.9 858.4h0M497.1 868.8h0M501.2 857.1h0M511.7 856.5h0M512.3 841.1h0M515.8 859.9h0M524.7 840.6h0M528.9 850.1h0M535.4 843.9h0M536.5 864.6h0M537.9 856.6h0M550.6 847.0h0M551.3 860.7h0M551.8 854.0h0M564.6 863.1h0M565.0 845.6h0M565.0 849.4h0M566.5 864.4h0M567.2 867.0h0M567.4 864.0h0M568.0 863.8h0M570.0 840.4h0M570.8 843.1h0M573.0 853.8h0M577.9 851.8h0M581.1 860.7h0M590.0 840.1h0M593.4 847.8h0M594.0 852.2h0M613.1 840.8h0M615.3 846.3h0M617.7 850.9h0M630.3 869.7h0M630.6 840.1h0M634.9 869.0h0M636.2 856.1h0M638.2 865.2h0M638.6 868.2h0M644.3 861.5h0M646.3 869.7h0M650.3 866.5h0M654.3 849.1h0M661.5 867.6h0M664.5 858.1h0M668.0 841.6h0M669.1 842.3h0M670.6 846.5h0M679.3 856.3h0M693.2 844.6h0M694.3 849.6h0M698.4 859.3h0M709.6 863.0h0M716.8 851.3h0M717.0 852.5h0M720.2 842.0h0M726.9 847.8h0M732.4 850.7h0M734.5 856.2h0M735.1 857.1h0M738.4 862.0h0M740.9 847.4h0M742.3 847.4h0M749.4 851.9h0M752.6 855.4h0M754.5 863.7h0M755.1 849.0h0M755.8 858.3h0M761.5 859.2h0M761.6 844.4h0M768.9 842.7h0M771.7 858.1h0M773.1 840.3h0M778.6 868.0h0M795.1 860.7h0M804.4 841.0h0M819.0 864.2h0M837.6 869.3h0M842.1 845.3h0M843.6 856.3h0M844.3 850.2h0M849.7 864.4h0M851.5 861.9h0M855.6 856.0h0M867.6 857.4h0M872.0 840.7h0M876.2 867.8h0M878.1 851.8h0M880.7 863.3h0M881.2 855.8h0M883.3 868.6h0M886.2 869.3h0M890.5 855.9h0M893.9 865.6h0M896.5 848.9h0M901.9 841.5h0M906.0 866.2h0M909.8 869.6h0M923.6 862.3h0M928.0 848.6h0M955.0 859.8h0M982.3 851.3h0M988.6 867.8h0M990.8 864.6h0M997.0 866.9h0M999.5 860.7h0M1003.9 849.4h0M1010.7 842.8h0M1018.7 846.0h0M1027.1 854.9h0M1030.5 852.6h0M1032.4 853.7h0M1033.8 861.5h0M1034.6 848.8h0M1038.1 866.4h0M1042.3 863.4h0M1042.6 855.1h0M1045.2 846.2h0M1048.3 861.5h0M1055.2 867.8h0M1057.6 855.0h0M1062.1 850.1h0M1069.7 860.9h0M1070.0 849.5h0M1083.3 864.0h0M1087.5 855.2h0M1091.2 852.1h0M1091.3 861.5h0M1092.2 843.5h0M1095.2 851.4h0M1106.9 850.5h0M1109.2 866.9h0M1112.4 854.0h0M1114.8 859.8h0M1115.3 869.6h0M1115.6 861.8h0M1118.2 858.0h0M1118.3 853.5h0M1119.3 841.7h0M1134.0 862.5h0M1136.2 861.0h0M1138.1 842.4h0M1139.5 852.5h0M1141.4 860.9h0M1146.0 854.9h0M1146.0 842.6h0M1146.3 846.7h0M1147.2 868.6h0M1151.4 864.8h0M1151.4 867.1h0M1152.9 851.0h0M1156.5 849.6h0M1160.9 864.5h0M1162.5 854.6h0M1165.0 847.3h0M1165.3 849.6h0M1166.3 845.9h0M1167.2 845.5h0M1167.6 849.9h0M1169.5 861.6h0M1169.8 847.7h0M1172.0 840.1h0M1173.7 842.4h0M1180.9 857.0h0M1184.5 860.1h0M1185.9 841.1h0M1197.0 867.2h0M1197.9 846.0h0M1199.8 865.0h0M1202.8 868.5h0M1204.0 867.6h0M1204.2 856.8h0M1205.7 844.3h0M1206.3 849.5h0M1207.2 860.1h0M1207.3 859.5h0M1208.9 864.0h0M1210.0 862.8h0M1210.6 856.1h0M1211.2 861.3h0M1211.9 845.2h0M1214.7 856.7h0M1215.6 842.0h0M1216.4 862.0h0M1216.7 857.8h0M1221.8 854.9h0M1223.8 845.4h0M1225.6 869.5h0M1227.5 859.8h0M1227.6 848.7h0M1230.4 866.6h0M1230.5 862.8h0M1230.8 865.0h0M1232.2 862.7h0M1233.3 859.6h0M1234.2 851.0h0M1235.5 840.7h0M1235.8 850.4h0M1239.3 863.4h0M1242.1 864.8h0M1243.4 861.9h0M1247.5 847.9h0M1250.2 861.8h0M1251.5 860.0h0M1252.2 862.4h0M1255.7 863.8h0M1255.8 841.3h0M1256.0 861.0h0M1256.1 847.9h0M1256.5 867.6h0M1257.7 841.2h0M1259.3 840.7h0M1260.2 845.8h0M1261.2 865.8h0M1261.7 842.5h0M1261.7 850.2h0M1262.2 840.6h0M1263.2 843.3h0M1263.8 843.3h0M1268.2 861.4h0M1268.7 853.0h0M1269.9 862.7h0M1270.1 849.0h0M1272.0 869.9h0M1272.3 862.1h0M1275.0 842.9h0M1279.7 850.1h0M1280.2 846.7h0M1282.5 842.3h0M1283.2 854.8h0M1284.5 855.9h0M1290.7 865.6h0M1296.4 860.7h0M1298.6 851.3h0M1299.8 851.6h0M1300.0 852.9h0M1303.6 861.8h0M1305.8 868.7h0M1307.9 860.5h0M1308.1 862.2h0M1308.6 866.6h0M1309.9 842.6h0M1310.1 846.9h0M1311.8 847.2h0M1312.1 840.4h0M1313.8 861.0h0M1314.5 866.0h0M1314.7 858.5h0M1314.8 857.8h0M1315.5 843.8h0M1317.5 861.7h0M1317.7 842.9h0M1320.8 850.7h0M1321.6 848.7h0M1322.7 869.2h0M1325.6 853.6h0M1326.8 853.6h0M1329.8 844.3h0M1337.6 849.7h0M1337.8 865.4h0M1338.9 846.2h0M1339.0 843.4h0M1339.7 848.6h0M1341.1 843.7h0M1341.6 868.3h0M1342.7 840.2h0M1344.6 870.0h0M1348.5 847.3h0M1354.0 854.4h0M1354.4 853.9h0M1354.9 848.1h0M1355.7 850.6h0M1356.0 847.2h0M1356.4 858.0h0M1358.7 849.7h0M1364.2 865.5h0M1366.0 858.4h0M1366.8 850.8h0M1367.7 844.5h0M1369.6 863.8h0M1370.1 856.8h0M1372.0 863.7h0M1375.2 859.7h0M1375.5 844.5h0M1375.7 869.0h0M1376.8 852.5h0M1380.8 858.9h0M1380.9 850.4h0M1381.3 859.7h0M1381.7 848.7h0M1381.9 863.4h0M1382.2 848.5h0M1382.7 859.8h0M1383.0 856.3h0M1384.9 857.6h0M1385.9 853.1h0M1387.9 856.1h0M1388.0 859.5h0M1390.1 862.2h0M1390.8 866.1h0M1391.4 867.5h0M1391.6 861.3h0M1392.2 842.6h0M1392.3 840.1h0M1395.6 863.9h0M1397.3 845.4h0M1397.4 851.3h0M1398.4 848.8h0M1401.9 841.6h0M1407.3 862.8h0M1408.4 843.0h0M1410.5 861.1h0M1412.3 847.1h0M1413.0 857.6h0M1418.1 865.4h0M1427.0 856.9h0M1429.3 845.4h0M1430.7 860.2h0M1432.2 842.8h0M1432.2 844.0h0M1432.4 849.7h0M1433.1 867.5h0M1434.9 856.5h0M1435.5 857.3h0M1435.7 863.5h0M1436.1 858.3h0M1437.4 854.6h0M1444.6 845.2h0M1445.6 866.8h0M1448.3 862.1h0M1449.2 843.8h0M1451.1 865.3h0M1451.5 855.3h0M1452.4 869.9h0M1452.5 863.1h0M1452.6 859.1h0M1454.9 867.4h0M1458.5 845.7h0M1461.0 853.1h0M1461.0 844.4h0M1465.0 843.2h0M1467.7 869.0h0M1472.2 855.3h0M1474.3 849.1h0M1477.6 861.1h0M1478.2 857.1h0M1481.0 859.4h0M1485.1 859.3h0M1490.1 858.3h0M1491.3 845.8h0M1493.1 851.6h0M1494.1 852.3h0M1498.2 850.7h0M1501.5 850.5h0M1501.8 858.7h0M1502.5 864.8h0M1503.7 862.0h0M1505.4 866.9h0M1507.8 844.9h0M1508.3 857.2h0M1517.3 843.7h0M1520.7 849.9h0M1524.8 840.8h0M1528.5 857.0h0M1528.5 846.5h0M1530.1 851.9h0M1531.2 858.7h0M1532.0 857.7h0M1532.5 857.5h0M1539.8 855.7h0M1541.9 867.3h0M1542.8 867.0h0M1551.8 840.5h0M1552.1 849.9h0M1553.9 857.9h0M1554.8 861.6h0M1558.7 851.0h0M1563.0 844.5h0M1563.1 866.3h0M1565.7 846.8h0M1567.7 848.2h0M1568.2 849.7h0M1568.4 847.2h0M1571.8 852.7h0M1584.4 854.6h0M1585.0 856.6h0M1586.1 864.3h0M1586.1 853.2h0M1589.2 840.7h0M1589.5 843.7h0M1591.0 842.8h0M1593.4 845.0h0M1598.5 846.5h0M1600.6 843.6h0M1603.9 843.4h0M1609.9 862.0h0M1612.1 845.7h0M1613.8 842.7h0M1630.5 856.4h0M1633.8 844.0h0M1641.4 863.7h0M1643.5 857.1h0M1644.0 859.2h0M443.9 874.8h0M451.9 875.8h0M452.9 897.4h0M459.2 876.8h0M459.3 885.3h0M460.5 873.8h0M461.9 887.3h0M463.4 888.4h0M465.6 874.1h0M465.9 873.0h0M469.4 891.1h0M471.9 892.0h0M476.9 880.0h0M477.2 892.5h0M478.6 896.2h0M480.7 882.5h0M482.7 890.1h0M482.8 887.7h0M483.7 874.9h0M483.9 896.2h0M488.7 875.1h0M513.3 875.0h0M514.7 882.7h0M518.9 884.0h0M525.2 873.7h0M528.9 894.1h0M532.7 883.6h0M538.4 895.3h0M553.4 897.3h0M553.8 894.9h0M558.5 889.6h0M562.7 871.8h0M566.2 890.0h0M570.4 885.4h0M570.5 877.6h0M571.9 891.0h0M572.2 872.4h0M574.9 872.5h0M576.2 880.7h0M580.1 876.4h0M581.9 875.4h0M585.8 875.8h0M587.3 897.5h0M592.0 892.5h0M593.2 875.8h0M596.0 874.1h0M597.5 874.1h0M611.5 889.2h0M612.0 894.1h0M612.5 870.2h0M617.6 897.4h0M617.6 885.4h0M618.0 878.3h0M618.2 891.1h0M618.3 886.6h0M619.5 881.6h0M622.6 891.9h0M627.5 896.2h0M637.3 872.6h0M639.9 891.8h0M650.2 874.1h0M653.0 891.8h0M653.8 892.3h0M663.2 892.4h0M671.0 874.7h0M673.6 872.0h0M677.0 875.5h0M677.9 871.0h0M678.6 878.2h0M678.7 881.6h0M683.3 881.8h0M684.5 877.7h0M685.4 876.3h0M691.5 884.9h0M696.9 879.4h0M697.7 878.9h0M704.0 885.3h0M707.7 875.7h0M716.1 885.2h0M724.8 881.2h0M724.8 888.7h0M724.9 874.6h0M730.8 880.3h0M731.1 884.4h0M734.0 879.4h0M734.1 894.7h0M734.6 873.7h0M734.6 886.6h0M736.2 893.8h0M740.8 895.1h0M744.2 889.6h0M756.0 880.2h0M758.9 888.2h0M768.3 885.4h0M776.2 873.2h0M776.8 891.4h0M784.9 872.5h0M788.8 872.6h0M789.4 871.5h0M796.5 892.9h0M814.8 899.4h0M817.8 897.2h0M833.9 887.5h0M835.8 894.4h0M837.0 893.0h0M846.1 886.6h0M852.3 894.6h0M857.5 894.3h0M858.8 899.4h0M868.1 881.5h0M869.6 885.4h0M870.5 890.8h0M884.2 881.2h0M885.2 895.4h0M886.5 889.9h0M894.4 899.7h0M897.9 881.7h0M901.9 889.4h0M903.2 884.1h0M907.9 877.3h0M951.4 880.9h0M951.9 893.1h0M952.6 884.4h0M953.7 892.4h0M957.0 877.4h0M964.0 899.4h0M973.7 874.3h0M1000.8 886.2h0M1001.3 884.6h0M1010.7 898.4h0M1011.7 889.0h0M1019.0 879.0h0M1019.6 885.1h0M1020.5 883.1h0M1031.5 896.9h0M1036.1 873.3h0M1041.3 892.8h0M1046.4 873.1h0M1046.9 897.8h0M1051.5 875.6h0M1055.7 870.3h0M1056.9 871.6h0M1057.9 888.5h0M1059.7 896.1h0M1060.9 874.6h0M1063.2 879.9h0M1064.8 896.8h0M1067.0 895.6h0M1070.8 881.0h0M1071.5 885.4h0M1075.0 899.3h0M1082.7 873.6h0M1083.2 873.1h0M1088.0 894.0h0M1094.7 899.6h0M1094.9 883.7h0M1095.8 880.6h0M1096.4 892.8h0M1097.8 878.5h0M1106.9 884.0h0M1111.3 888.2h0M1113.0 876.6h0M1116.7 876.8h0M1119.1 891.9h0M1124.6 899.2h0M1125.5 897.9h0M1125.9 882.3h0M1128.1 884.7h0M1128.2 882.7h0M1129.6 894.6h0M1131.6 876.7h0M1133.7 899.1h0M1134.0 891.3h0M1135.0 881.6h0M1135.4 872.0h0M1135.8 880.3h0M1136.5 876.5h0M1136.9 881.6h0M1137.2 893.9h0M1138.0 877.0h0M1138.1 896.4h0M1140.4 871.1h0M1150.3 884.3h0M1151.9 894.9h0M1153.3 890.1h0M1154.0 894.1h0M1154.2 874.5h0M1155.7 885.8h0M1158.5 880.2h0M1159.3 896.3h0M1160.6 898.9h0M1164.1 890.1h0M1167.3 889.8h0M1167.4 872.9h0M1168.6 870.4h0M1171.0 897.7h0M1171.7 888.6h0M1172.6 888.8h0M1173.8 889.3h0M1174.3 892.7h0M1174.6 889.3h0M1174.7 895.0h0M1176.7 892.8h0M1177.7 885.1h0M1177.8 883.8h0M1178.6 887.4h0M1179.2 885.2h0M1182.0 886.0h0M1182.2 884.5h0M1182.6 885.1h0M1185.0 895.2h0M1185.5 891.6h0M1185.8 893.3h0M1189.8 895.8h0M1191.3 895.5h0M1192.1 890.3h0M1197.4 891.5h0M1197.7 899.0h0M1198.6 885.7h0M1199.0 872.6h0M1202.7 876.6h0M1206.2 877.0h0M1207.1 871.1h0M1215.0 874.4h0M1221.6 885.2h0M1222.3 899.7h0M1224.5 899.7h0M1224.7 896.6h0M1226.3 873.1h0M1227.5 887.3h0M1228.2 892.9h0M1228.4 898.9h0M1228.8 880.6h0M1229.1 891.4h0M1230.1 888.0h0M1231.2 887.7h0M1232.8 873.5h0M1233.6 895.0h0M1234.6 894.8h0M1235.7 898.7h0M1237.2 883.6h0M1243.9 891.0h0M1248.2 890.7h0M1249.1 876.0h0M1249.1 871.8h0M1254.4 878.2h0M1257.7 891.2h0M1258.3 882.6h0M1262.8 883.2h0M1263.8 872.5h0M1269.9 871.9h0M1270.0 876.1h0M1271.4 890.8h0M1273.7 883.6h0M1277.5 874.6h0M1278.5 879.1h0M1278.6 876.5h0M1279.9 872.2h0M1280.9 881.0h0M1281.0 874.8h0M1281.2 883.4h0M1281.9 877.4h0M1281.9 895.0h0M1286.2 894.0h0M1287.9 877.7h0M1289.6 875.1h0M1290.2 897.1h0M1290.5 895.6h0M1291.9 899.2h0M1292.9 899.2h0M1295.2 890.3h0M1298.3 894.0h0M1299.4 884.5h0M1299.9 899.8h0M1303.4 884.0h0M1305.7 871.6h0M1305.9 887.8h0M1307.1 884.6h0M1307.6 888.9h0M1310.6 887.1h0M1310.7 887.0h0M1312.3 889.1h0M1314.7 892.9h0M1319.6 897.4h0M1319.9 887.7h0M1320.7 893.5h0M1321.0 894.5h0M1321.8 880.0h0M1323.1 887.2h0M1323.3 887.4h0M1323.4 890.2h0M1323.4 887.4h0M1323.5 891.4h0M1327.8 881.3h0M1328.3 877.5h0M1328.4 892.4h0M1328.5 894.9h0M1329.1 888.3h0M1336.3 884.9h0M1338.5 887.6h0M1339.8 871.2h0M1341.3 887.4h0M1342.6 897.8h0M1346.3 877.9h0M1347.5 891.6h0M1347.7 875.7h0M1348.7 881.3h0M1348.8 885.8h0M1349.8 896.4h0M1351.2 871.0h0M1351.7 879.8h0M1352.2 885.3h0M1352.3 885.3h0M1355.3 876.8h0M1355.9 877.1h0M1360.6 894.9h0M1363.7 895.2h0M1365.6 878.2h0M1366.1 888.4h0M1366.5 880.1h0M1368.4 888.0h0M1369.5 883.4h0M1371.1 894.9h0M1376.6 892.3h0M1378.3 892.2h0M1379.0 879.5h0M1379.1 890.2h0M1379.9 880.6h0M1384.2 880.1h0M1386.4 879.1h0M1388.9 887.3h0M1391.4 874.7h0M1393.2 882.8h0M1393.3 875.5h0M1397.4 895.7h0M1401.6 888.9h0M1408.2 888.2h0M1409.4 895.9h0M1409.7 893.8h0M1410.5 871.2h0M1412.1 892.9h0M1414.9 895.7h0M1415.5 885.4h0M1416.8 888.2h0M1421.5 874.8h0M1424.8 890.1h0M1426.6 888.9h0M1427.0 887.9h0M1432.9 872.4h0M1434.5 897.8h0M1434.7 876.2h0M1435.5 877.2h0M1436.3 899.2h0M1437.3 899.7h0M1438.4 899.8h0M1443.8 896.1h0M1448.5 891.1h0M1448.9 880.1h0M1449.5 876.8h0M1456.1 878.9h0M1459.1 893.9h0M1464.4 876.6h0M1470.0 876.8h0M1471.1 887.7h0M1471.5 879.9h0M1472.9 892.7h0M1474.1 898.8h0M1474.8 891.7h0M1476.3 887.8h0M1476.9 883.3h0M1478.6 891.2h0M1479.5 889.9h0M1479.8 887.3h0M1481.2 884.8h0M1482.6 872.5h0M1483.1 886.9h0M1484.6 888.7h0M1489.5 883.8h0M1492.8 897.6h0M1494.3 878.2h0M1503.1 878.2h0M1505.1 894.8h0M1507.8 887.8h0M1512.0 873.6h0M1513.5 875.6h0M1519.1 888.8h0M1532.2 885.7h0M1533.9 898.5h0M1546.8 887.1h0M1556.6 890.5h0M1558.1 886.6h0M1559.2 889.9h0M1559.5 888.5h0M1567.0 876.0h0M1571.9 885.5h0M1583.9 877.0h0M1589.4 874.2h0M1597.8 889.3h0M1616.5 880.9h0M1636.3 899.3h0M443.9 927.6h0M447.6 912.6h0M458.0 929.6h0M458.5 919.8h0M462.9 920.6h0M463.7 908.6h0M463.9 922.4h0M464.5 906.5h0M468.5 920.0h0M472.2 925.0h0M480.2 920.8h0M480.7 901.4h0M485.6 903.7h0M490.0 915.3h0M502.5 916.6h0M503.1 906.3h0M505.7 927.0h0M506.2 909.4h0M507.9 907.9h0M508.5 905.4h0M510.5 907.5h0M511.0 926.0h0M517.3 927.3h0M519.3 928.0h0M521.7 900.9h0M526.5 920.5h0M534.1 910.9h0M535.6 924.1h0M544.7 908.9h0M549.6 915.7h0M551.0 922.8h0M551.2 909.0h0M554.8 908.7h0M557.0 902.8h0M557.3 906.2h0M557.3 909.3h0M557.8 929.2h0M561.8 909.7h0M563.3 909.9h0M573.7 917.1h0M573.9 915.8h0M576.7 912.2h0M581.3 924.6h0M581.7 921.6h0M583.8 921.2h0M587.0 901.6h0M588.6 928.0h0M596.2 913.8h0M601.3 924.1h0M601.8 922.8h0M604.0 923.6h0M610.5 915.8h0M613.8 901.6h0M616.3 911.4h0M618.8 918.7h0M633.6 906.9h0M648.4 902.7h0M649.9 909.2h0M652.3 909.2h0M652.4 907.3h0M652.5 921.5h0M653.7 924.0h0M657.2 908.6h0M661.1 910.8h0M665.0 904.5h0M669.6 924.3h0M672.0 903.1h0M672.6 924.2h0M672.6 921.6h0M675.3 908.6h0M678.2 909.2h0M683.9 912.7h0M686.3 928.9h0M687.9 927.6h0M704.1 906.6h0M706.6 906.2h0M709.1 918.9h0M711.0 924.6h0M726.3 919.1h0M728.9 907.1h0M740.3 922.2h0M753.1 928.5h0M753.2 912.6h0M755.8 904.8h0M757.8 910.5h0M758.9 907.5h0M766.7 901.3h0M767.8 927.8h0M771.3 919.9h0M772.8 900.8h0M775.3 917.5h0M778.4 903.3h0M779.4 903.4h0M780.6 916.4h0M781.6 914.5h0M782.3 912.5h0M789.2 919.3h0M789.7 904.1h0M796.0 919.6h0M801.1 904.6h0M802.2 917.0h0M803.6 906.1h0M804.4 905.0h0M811.1 919.7h0M811.5 909.7h0M811.7 903.8h0M822.5 910.5h0M823.2 914.4h0M833.8 926.8h0M836.7 906.4h0M838.4 923.9h0M840.0 924.9h0M842.0 922.6h0M845.3 922.9h0M849.3 913.6h0M858.9 927.2h0M860.6 927.0h0M870.7 909.1h0M875.7 920.6h0M882.3 908.9h0M883.6 916.1h0M890.3 912.0h0M896.1 905.7h0M896.2 920.1h0M896.9 924.5h0M902.5 927.3h0M903.6 926.8h0M907.0 916.8h0M918.8 910.8h0M919.0 906.0h0M921.7 921.6h0M943.1 924.9h0M947.7 908.6h0M955.2 905.1h0M961.7 911.8h0M966.7 906.2h0M978.1 918.2h0M984.6 920.1h0M1007.6 920.1h0M1018.4 925.9h0M1020.1 906.7h0M1027.1 915.2h0M1030.1 909.0h0M1034.5 913.9h0M1036.5 907.1h0M1050.2 912.9h0M1055.7 920.8h0M1061.0 916.3h0M1063.6 925.8h0M1064.2 908.9h0M1071.2 901.1h0M1074.3 908.5h0M1074.8 916.9h0M1074.8 902.0h0M1075.1 923.0h0M1075.8 928.4h0M1078.5 907.0h0M1081.0 907.8h0M1081.8 910.2h0M1090.8 923.2h0M1097.0 919.8h0M1098.9 919.2h0M1099.2 905.3h0M1099.5 925.8h0M1100.5 923.6h0M1100.7 921.4h0M1102.0 922.9h0M1103.1 913.6h0M1103.4 914.7h0M1106.6 917.6h0M1109.6 915.6h0M1110.0 920.7h0M1112.7 911.1h0M1119.6 925.4h0M1120.4 912.1h0M1120.7 919.1h0M1121.0 906.0h0M1122.4 919.1h0M1124.5 904.7h0M1126.0 929.5h0M1128.4 923.7h0M1134.7 911.6h0M1135.1 924.8h0M1135.9 929.2h0M1138.1 925.8h0M1140.5 926.5h0M1143.3 915.2h0M1143.4 925.8h0M1144.3 917.1h0M1147.6 922.4h0M1152.0 907.0h0M1152.2 915.7h0M1152.2 922.7h0M1152.5 918.3h0M1156.5 916.4h0M1161.7 918.5h0M1162.6 910.8h0M1163.7 923.8h0M1165.4 923.6h0M1166.1 927.5h0M1166.6 920.3h0M1166.7 910.8h0M1167.2 915.7h0M1169.1 923.4h0M1169.1 915.7h0M1173.1 925.8h0M1174.3 910.1h0M1175.1 919.4h0M1176.9 914.0h0M1180.0 903.4h0M1181.2 927.1h0M1190.3 926.0h0M1192.7 908.4h0M1193.1 920.8h0M1194.2 923.7h0M1202.0 921.8h0M1202.8 911.8h0M1204.2 901.7h0M1206.9 901.1h0M1208.1 912.5h0M1209.7 901.1h0M1214.1 911.1h0M1214.8 910.4h0M1214.9 910.1h0M1216.4 929.9h0M1217.0 918.1h0M1218.6 905.0h0M1219.5 902.9h0M1219.6 928.1h0M1220.0 902.3h0M1227.0 925.0h0M1230.6 900.8h0M1231.2 924.2h0M1231.3 905.8h0M1231.9 915.2h0M1232.0 904.3h0M1233.0 922.2h0M1233.3 927.5h0M1233.9 923.9h0M1234.8 917.4h0M1240.1 912.2h0M1245.1 922.0h0M1249.7 929.0h0M1250.5 915.0h0M1250.5 929.8h0M1250.6 923.4h0M1251.5 915.8h0M1253.3 902.9h0M1253.7 913.7h0M1254.3 901.2h0M1255.7 905.6h0M1258.3 922.5h0M1258.9 904.2h0M1259.7 928.7h0M1260.4 921.3h0M1264.4 915.2h0M1264.6 905.4h0M1264.9 917.1h0M1267.7 918.8h0M1267.8 929.2h0M1268.3 914.0h0M1268.7 903.5h0M1269.2 922.5h0M1269.9 913.8h0M1269.9 918.7h0M1271.2 926.9h0M1272.6 908.3h0M1274.1 909.1h0M1274.8 901.1h0M1277.0 900.5h0M1279.5 918.0h0M1281.2 900.4h0M1281.5 903.7h0M1281.7 903.7h0M1282.9 927.7h0M1283.5 926.8h0M1283.9 902.8h0M1284.5 927.0h0M1287.2 929.3h0M1293.0 910.4h0M1293.4 926.5h0M1294.0 904.6h0M1294.5 911.9h0M1300.0 928.5h0M1303.1 917.6h0M1303.3 924.1h0M1304.8 917.6h0M1306.8 911.5h0M1306.9 919.3h0M1310.6 925.7h0M1311.0 909.9h0M1312.8 902.8h0M1315.4 913.2h0M1315.5 914.7h0M1319.6 916.8h0M1320.3 921.0h0M1322.1 918.6h0M1323.8 920.5h0M1324.7 917.0h0M1325.5 929.0h0M1326.4 913.7h0M1327.9 928.3h0M1329.6 919.6h0M1330.9 915.5h0M1332.0 908.8h0M1334.7 912.1h0M1335.1 923.8h0M1339.7 900.5h0M1339.8 915.8h0M1341.2 915.3h0M1342.1 913.8h0M1342.3 915.4h0M1350.9 921.3h0M1353.2 914.2h0M1354.3 906.6h0M1354.9 906.1h0M1355.7 918.0h0M1355.8 918.0h0M1356.1 921.8h0M1357.0 910.9h0M1361.0 925.2h0M1361.5 915.8h0M1361.9 919.6h0M1362.5 925.8h0M1366.0 914.3h0M1367.7 901.4h0M1369.7 921.3h0M1370.7 919.9h0M1370.9 916.2h0M1371.1 919.8h0M1373.9 929.4h0M1377.1 920.5h0M1380.0 905.0h0M1380.9 915.7h0M1383.0 917.4h0M1383.6 926.2h0M1385.3 923.1h0M1386.4 900.4h0M1386.9 906.3h0M1387.6 912.2h0M1387.8 928.6h0M1388.1 918.6h0M1388.6 915.2h0M1397.0 906.7h0M1397.8 907.7h0M1399.1 912.7h0M1400.1 923.6h0M1400.7 916.1h0M1407.0 902.7h0M1407.8 904.2h0M1408.4 925.5h0M1409.9 915.7h0M1411.1 905.9h0M1421.7 912.3h0M1425.4 916.4h0M1427.2 921.4h0M1428.2 923.5h0M1428.4 905.3h0M1429.2 922.1h0M1432.8 912.0h0M1434.6 902.4h0M1437.0 927.8h0M1437.7 912.5h0M1441.3 928.4h0M1447.1 912.9h0M1448.1 922.4h0M1450.2 923.8h0M1452.8 925.8h0M1455.6 900.2h0M1462.3 915.8h0M1468.4 925.3h0M1471.5 916.2h0M1473.7 922.7h0M1474.0 917.7h0M1477.7 922.6h0M1480.7 929.4h0M1483.4 914.6h0M1486.7 901.0h0M1494.1 903.5h0M1494.4 909.4h0M1495.1 927.6h0M1499.1 913.6h0M1499.7 910.5h0M1503.1 926.2h0M1505.0 903.4h0M1505.2 904.1h0M1506.9 927.3h0M1513.1 902.6h0M1525.2 923.4h0M1528.1 916.6h0M1529.6 907.0h0M1531.8 900.8h0M1542.7 910.3h0M1545.3 910.8h0M1556.3 905.8h0M1569.7 908.9h0M1577.7 900.6h0M1580.3 901.9h0M1582.2 928.4h0M1583.7 920.4h0M1585.6 904.7h0M1586.4 901.6h0M1587.6 903.7h0M1595.2 921.9h0M1599.6 924.0h0M1600.0 920.0h0M1603.7 913.6h0M1606.6 923.4h0M1608.2 913.2h0M1610.0 924.6h0M1610.8 915.2h0M1616.3 901.1h0M1619.9 918.5h0M1627.0 902.5h0M1628.4 920.5h0M1630.2 920.0h0M1633.1 902.6h0M1634.5 916.5h0M415.1 956.7h0M417.4 959.2h0M437.0 948.0h0M438.7 941.2h0M454.7 934.6h0M462.1 943.2h0M462.8 944.4h0M471.5 954.7h0M472.4 953.7h0M473.9 956.9h0M476.6 951.7h0M481.0 954.0h0M482.8 938.4h0M483.4 959.7h0M487.3 953.1h0M493.4 936.4h0M496.3 943.0h0M500.9 931.4h0M503.9 953.0h0M505.9 944.4h0M506.9 938.5h0M507.3 942.5h0M508.0 933.3h0M509.8 944.3h0M518.1 942.4h0M520.6 936.9h0M521.1 944.3h0M522.3 944.9h0M527.6 932.9h0M527.8 954.9h0M529.5 933.9h0M534.6 934.8h0M536.6 932.1h0M539.5 954.4h0M540.4 958.0h0M543.6 951.5h0M545.1 954.5h0M545.3 945.0h0M546.1 952.0h0M555.0 941.4h0M556.0 958.5h0M557.0 939.1h0M557.2 939.0h0M560.9 941.8h0M566.7 938.5h0M566.8 959.7h0M573.2 960.0h0M574.6 956.5h0M581.4 954.3h0M584.9 956.1h0M587.5 955.8h0M589.1 942.5h0M594.1 941.3h0M597.8 947.5h0M603.2 953.7h0M605.3 959.8h0M609.4 951.3h0M615.8 933.7h0M618.6 938.1h0M622.1 930.4h0M622.1 935.8h0M629.0 954.1h0M630.3 954.7h0M632.6 957.8h0M632.7 946.7h0M632.8 955.3h0M635.9 952.7h0M640.7 953.0h0M646.3 937.1h0M648.4 945.6h0M649.6 947.0h0M649.8 948.5h0M652.4 930.5h0M658.4 958.3h0M659.9 947.3h0M660.0 956.6h0M668.7 949.3h0M673.4 950.4h0M677.9 933.4h0M682.2 932.5h0M682.5 946.0h0M687.0 953.9h0M692.2 950.2h0M694.6 956.5h0M694.7 951.8h0M701.6 946.2h0M710.3 933.1h0M710.4 949.3h0M711.3 959.1h0M715.4 954.0h0M716.5 932.1h0M719.6 932.7h0M722.7 933.2h0M725.5 954.6h0M727.7 957.7h0M729.9 942.1h0M736.1 955.0h0M737.5 952.9h0M747.0 942.0h0M747.7 933.9h0M753.0 959.5h0M758.2 934.8h0M760.9 956.1h0M765.0 951.6h0M766.9 936.1h0M767.1 948.6h0M776.3 941.9h0M776.5 930.5h0M776.8 955.7h0M777.1 956.6h0M780.8 935.5h0M783.2 939.5h0M784.0 959.8h0M785.3 938.5h0M787.9 958.1h0M790.1 940.5h0M796.3 937.5h0M796.6 938.5h0M796.8 936.8h0M809.2 930.3h0M809.2 944.4h0M815.7 935.3h0M816.5 938.4h0M817.3 938.6h0M818.4 935.1h0M823.7 952.5h0M825.1 930.4h0M829.9 931.8h0M844.7 931.7h0M858.9 942.2h0M860.3 941.9h0M869.7 947.8h0M870.0 951.0h0M878.9 942.6h0M884.6 946.6h0M887.5 942.2h0M888.6 945.5h0M892.7 957.4h0M893.7 947.1h0M894.2 935.9h0M895.4 941.8h0M895.6 947.4h0M895.8 948.7h0M896.9 949.1h0M898.7 944.0h0M904.1 950.4h0M907.9 951.8h0M911.1 951.7h0M914.9 953.7h0M917.0 934.6h0M918.5 930.2h0M925.2 957.8h0M925.3 936.2h0M926.0 947.1h0M926.9 935.2h0M927.3 936.6h0M928.7 954.2h0M934.7 938.8h0M938.8 931.5h0M939.0 959.3h0M947.9 952.5h0M952.8 940.7h0M975.5 945.8h0M978.5 948.3h0M990.9 951.6h0M991.2 954.4h0M994.0 947.2h0M1000.8 958.6h0M1002.2 946.8h0M1022.6 948.6h0M1023.4 949.4h0M1030.7 943.0h0M1031.4 934.3h0M1036.1 952.3h0M1037.2 947.5h0M1041.5 950.8h0M1042.7 936.7h0M1043.6 949.4h0M1044.2 940.5h0M1047.4 947.6h0M1048.5 936.1h0M1051.4 959.2h0M1052.1 948.0h0M1052.1 959.7h0M1054.6 944.2h0M1055.3 959.0h0M1058.2 943.6h0M1058.3 945.5h0M1062.5 950.1h0M1064.1 931.0h0M1066.7 952.4h0M1067.9 931.8h0M1069.7 958.4h0M1073.5 931.9h0M1077.2 943.4h0M1078.5 932.0h0M1079.2 953.4h0M1079.5 952.8h0M1080.7 955.0h0M1080.8 930.8h0M1080.8 953.6h0M1081.5 931.5h0M1092.6 951.6h0M1094.2 951.7h0M1094.7 949.6h0M1097.0 942.1h0M1106.5 954.7h0M1106.8 957.8h0M1107.1 950.8h0M1107.1 943.3h0M1107.9 935.1h0M1110.4 953.6h0M1112.1 939.5h0M1112.3 934.3h0M1114.4 951.0h0M1114.4 942.6h0M1115.2 956.3h0M1116.1 947.5h0M1118.2 948.1h0M1118.4 931.4h0M1123.3 946.0h0M1128.5 945.0h0M1130.7 931.3h0M1132.3 959.3h0M1133.0 952.7h0M1134.3 956.8h0M1137.5 952.6h0M1138.3 958.6h0M1140.5 949.7h0M1144.6 949.1h0M1149.0 939.2h0M1149.1 939.8h0M1152.1 959.0h0M1159.5 952.8h0M1160.2 941.7h0M1160.7 953.7h0M1164.7 933.5h0M1164.7 940.7h0M1166.4 947.5h0M1166.9 957.2h0M1168.5 955.9h0M1170.5 957.5h0M1171.3 953.0h0M1171.4 947.3h0M1173.6 931.7h0M1175.3 935.5h0M1175.6 937.6h0M1176.0 948.5h0M1176.4 959.8h0M1177.8 949.2h0M1179.2 943.9h0M1179.7 933.8h0M1180.0 932.7h0M1181.7 951.0h0M1182.2 933.9h0M1183.7 932.8h0M1193.8 951.1h0M1196.6 948.2h0M1201.8 953.8h0M1202.4 943.7h0M1204.4 959.8h0M1204.9 943.0h0M1205.7 943.1h0M1205.8 939.0h0M1208.1 945.3h0M1209.1 944.1h0M1210.0 958.8h0M1213.1 936.3h0M1214.0 949.9h0M1215.4 953.1h0M1215.6 952.9h0M1216.3 939.7h0M1219.3 932.6h0M1221.2 933.7h0M1222.8 931.1h0M1224.0 951.8h0M1224.3 934.3h0M1228.3 950.8h0M1228.7 941.0h0M1230.9 951.7h0M1231.5 959.0h0M1232.6 938.6h0M1233.2 937.6h0M1241.3 943.2h0M1243.5 944.3h0M1249.0 952.6h0M1249.5 930.7h0M1250.5 932.0h0M1254.0 946.4h0M1257.3 936.6h0M1259.2 959.2h0M1261.8 936.6h0M1266.5 940.5h0M1268.0 937.4h0M1268.5 947.6h0M1269.7 930.3h0M1275.0 959.2h0M1275.7 945.0h0M1275.9 946.1h0M1276.4 957.2h0M1278.1 946.2h0M1278.3 944.8h0M1281.6 959.5h0M1282.2 959.9h0M1282.9 930.8h0M1287.5 933.9h0M1290.6 930.9h0M1291.5 930.4h0M1292.0 933.3h0M1292.4 947.6h0M1298.1 949.6h0M1301.1 955.3h0M1304.1 953.9h0M1304.1 930.3h0M1306.1 939.2h0M1306.5 941.3h0M1309.8 940.3h0M1314.0 938.2h0M1315.9 941.4h0M1316.6 953.0h0M1316.8 937.3h0M1318.8 940.0h0M1320.1 945.5h0M1321.0 933.3h0M1323.3 933.1h0M1323.7 945.7h0M1323.8 944.6h0M1324.5 938.7h0M1325.1 943.2h0M1325.5 940.7h0M1326.8 948.1h0M1330.4 937.4h0M1330.6 946.7h0M1333.2 938.3h0M1334.5 950.4h0M1336.7 943.0h0M1345.7 958.3h0M1345.8 932.8h0M1349.0 935.6h0M1349.5 936.8h0M1352.2 952.7h0M1353.6 941.1h0M1355.1 945.0h0M1355.7 942.8h0M1359.6 934.4h0M1359.8 932.6h0M1359.8 931.5h0M1360.0 940.0h0M1361.6 931.3h0M1364.4 944.8h0M1367.0 931.5h0M1371.1 943.1h0M1374.5 932.2h0M1376.4 950.8h0M1377.3 937.1h0M1377.9 957.8h0M1380.4 945.3h0M1381.4 945.8h0M1382.8 944.9h0M1383.7 958.7h0M1383.8 957.1h0M1383.8 946.9h0M1385.0 943.8h0M1385.4 930.7h0M1386.1 932.0h0M1387.8 953.7h0M1387.8 945.3h0M1393.3 951.5h0M1395.3 935.5h0M1397.5 933.1h0M1398.6 954.1h0M1402.0 935.9h0M1407.7 959.0h0M1408.8 943.3h0M1409.4 942.2h0M1409.5 948.2h0M1411.9 953.9h0M1412.3 933.5h0M1412.4 959.1h0M1416.2 951.7h0M1417.2 948.6h0M1421.4 955.7h0M1421.9 930.8h0M1423.3 958.8h0M1423.3 950.3h0M1423.8 936.0h0M1426.1 943.4h0M1426.5 941.8h0M1427.1 959.7h0M1428.6 942.6h0M1428.7 941.7h0M1430.2 942.8h0M1430.9 957.2h0M1432.5 931.0h0M1433.1 957.0h0M1438.5 935.8h0M1439.1 945.5h0M1439.5 941.0h0M1439.6 951.7h0M1440.9 934.3h0M1448.0 950.6h0M1448.2 931.9h0M1448.8 950.4h0M1448.9 959.3h0M1451.7 959.8h0M1453.2 955.0h0M1453.8 937.5h0M1454.4 951.9h0M1455.6 955.8h0M1455.9 957.2h0M1457.2 957.1h0M1463.2 949.4h0M1463.4 938.7h0M1465.9 932.0h0M1466.3 950.1h0M1468.4 948.3h0M1472.3 957.2h0M1472.4 951.0h0M1476.1 941.3h0M1476.6 953.6h0M1476.8 956.8h0M1478.2 941.9h0M1484.9 931.6h0M1487.3 935.6h0M1489.1 958.2h0M1489.6 935.4h0M1491.8 932.1h0M1493.9 935.4h0M1494.6 941.3h0M1495.7 950.0h0M1496.9 946.7h0M1497.4 959.3h0M1497.8 947.7h0M1497.8 957.7h0M1497.8 944.9h0M1497.9 946.6h0M1498.0 946.6h0M1504.1 932.9h0M1510.0 936.7h0M1514.1 940.8h0M1517.4 938.0h0M1525.2 942.5h0M1528.5 940.5h0M1529.0 959.9h0M1532.7 953.4h0M1533.6 957.7h0M1542.0 950.5h0M1548.6 957.9h0M1548.8 946.0h0M1557.1 943.4h0M1557.4 947.7h0M1567.4 952.6h0M1570.7 949.4h0M1570.9 948.4h0M1571.1 946.2h0M1572.3 937.4h0M1576.4 948.6h0M1579.6 939.2h0M1581.2 934.4h0M1583.6 950.0h0M1593.9 950.9h0M1593.9 935.9h0M1594.9 933.8h0M1596.2 944.1h0M1598.7 930.8h0M1599.2 958.8h0M1604.0 948.2h0M1604.1 950.3h0M1604.3 932.5h0M1611.7 958.0h0M1614.0 959.3h0M1615.9 931.2h0M1616.1 949.4h0M1616.7 936.8h0M1620.6 949.9h0M1621.0 944.7h0M1622.3 938.2h0M1626.6 944.6h0M1627.3 954.9h0M1628.3 957.7h0M1630.6 930.7h0M1632.9 941.6h0M1635.4 930.3h0M1638.4 937.3h0M409.1 986.3h0M410.1 986.0h0M413.3 978.0h0M419.7 967.3h0M420.1 968.3h0M423.3 972.5h0M427.9 979.2h0M444.7 976.7h0M447.1 988.8h0M451.0 963.7h0M451.1 963.7h0M452.0 968.9h0M455.3 987.4h0M456.0 966.4h0M463.2 960.6h0M463.2 974.2h0M463.3 984.7h0M466.2 971.8h0M474.8 979.4h0M480.1 977.3h0M482.4 967.9h0M482.7 981.6h0M483.0 974.0h0M487.2 987.2h0M488.4 961.6h0M489.7 963.7h0M495.1 989.4h0M496.6 988.7h0M502.4 981.4h0M503.6 966.2h0M506.9 979.2h0M512.1 988.0h0M512.1 982.1h0M523.8 971.3h0M524.3 960.8h0M526.0 973.4h0M535.9 988.7h0M537.2 978.1h0M537.8 966.9h0M538.2 977.1h0M538.6 975.7h0M539.8 971.4h0M540.5 977.7h0M541.2 980.4h0M541.4 960.6h0M542.9 988.0h0M546.0 985.0h0M548.5 963.5h0M550.3 979.7h0M552.5 963.7h0M553.4 966.4h0M555.0 968.3h0M556.8 982.8h0M557.0 967.7h0M558.9 984.8h0M559.0 970.8h0M565.0 983.0h0M567.5 973.5h0M577.5 968.3h0M579.6 966.0h0M581.8 986.6h0M584.4 983.6h0M584.6 974.1h0M591.3 978.3h0M593.2 963.6h0M595.9 973.7h0M599.3 975.8h0M599.9 964.5h0M601.4 973.5h0M606.7 968.5h0M607.0 969.2h0M607.9 960.7h0M618.5 983.7h0M619.8 966.5h0M629.8 988.0h0M638.5 979.7h0M638.6 971.4h0M641.9 989.0h0M641.9 969.2h0M649.0 987.6h0M649.6 981.4h0M649.9 988.3h0M650.4 989.5h0M668.2 989.3h0M671.8 975.1h0M672.3 988.1h0M672.5 988.2h0M673.7 989.1h0M676.0 982.5h0M680.2 967.9h0M685.9 963.5h0M687.8 982.6h0M687.9 980.9h0M689.9 976.1h0M691.0 973.6h0M699.2 981.9h0M699.3 984.3h0M706.8 961.0h0M708.0 966.6h0M708.2 984.9h0M713.5 969.5h0M721.3 971.9h0M725.9 976.6h0M726.2 963.4h0M729.1 966.3h0M733.8 962.4h0M734.9 974.2h0M737.9 971.7h0M739.6 964.2h0M740.0 961.9h0M741.8 963.1h0M744.0 962.8h0M745.1 968.1h0M746.1 977.8h0M753.8 971.1h0M760.1 962.8h0M760.2 976.5h0M762.2 971.3h0M762.8 978.3h0M765.9 968.8h0M771.2 974.0h0M773.5 974.7h0M773.7 961.4h0M775.3 985.9h0M781.5 961.0h0M782.0 976.2h0M782.4 971.0h0M784.7 971.8h0M795.1 967.8h0M796.3 977.9h0M798.8 973.1h0M798.9 973.8h0M799.4 979.7h0M801.5 972.5h0M801.9 966.6h0M802.3 977.5h0M814.3 973.6h0M814.5 962.9h0M821.0 972.1h0M825.5 965.7h0M825.5 973.8h0M825.7 968.9h0M832.9 975.5h0M835.0 981.2h0M837.5 984.3h0M848.6 975.7h0M849.7 987.2h0M854.5 965.8h0M858.4 961.3h0M861.0 964.5h0M862.6 965.4h0M864.4 963.1h0M869.6 986.2h0M869.9 988.0h0M886.9 962.5h0M888.3 975.8h0M889.3 963.8h0M903.0 963.5h0M910.1 975.9h0M910.7 963.0h0M912.1 975.3h0M913.3 969.4h0M915.8 975.9h0M918.5 989.5h0M922.8 979.0h0M936.0 962.6h0M939.9 963.8h0M943.1 967.1h0M945.0 989.9h0M945.0 971.1h0M956.1 987.7h0M959.3 981.6h0M971.3 981.7h0M974.7 967.7h0M975.6 968.9h0M991.0 988.5h0M991.4 986.9h0M993.7 986.4h0M997.8 967.4h0M1002.6 987.0h0M1004.0 986.0h0M1009.3 970.0h0M1012.3 985.6h0M1015.2 965.2h0M1022.7 965.8h0M1024.7 966.4h0M1027.7 968.3h0M1029.3 964.9h0M1031.9 961.2h0M1033.3 962.9h0M1034.3 985.1h0M1037.4 976.3h0M1037.7 961.3h0M1045.1 960.7h0M1045.3 979.0h0M1050.9 969.5h0M1051.7 979.8h0M1059.3 972.8h0M1063.2 979.3h0M1070.0 979.9h0M1071.9 982.0h0M1072.5 981.7h0M1074.5 987.4h0M1075.5 971.6h0M1078.5 974.6h0M1078.6 970.3h0M1079.4 989.8h0M1079.9 978.5h0M1080.6 976.7h0M1081.4 966.4h0M1081.9 987.5h0M1082.9 969.3h0M1083.0 982.9h0M1083.6 974.6h0M1086.4 969.3h0M1090.1 984.3h0M1090.3 988.6h0M1101.0 977.4h0M1102.9 989.5h0M1104.9 985.5h0M1105.6 969.2h0M1106.4 980.1h0M1108.2 975.0h0M1111.8 969.2h0M1111.9 985.9h0M1112.0 961.5h0M1112.5 987.4h0M1116.6 964.2h0M1118.2 988.7h0M1120.1 988.6h0M1122.3 967.4h0M1122.9 988.3h0M1126.4 965.6h0M1129.3 964.0h0M1130.3 977.6h0M1134.1 980.2h0M1135.6 984.7h0M1138.1 969.7h0M1144.1 965.0h0M1144.8 981.4h0M1147.4 961.1h0M1148.1 971.0h0M1151.7 974.2h0M1155.1 978.6h0M1159.9 978.0h0M1162.6 961.9h0M1164.0 979.3h0M1167.0 982.2h0M1168.3 981.9h0M1168.6 966.6h0M1168.6 980.4h0M1170.6 964.6h0M1172.6 968.4h0M1173.6 972.2h0M1175.9 985.5h0M1176.4 971.1h0M1178.6 989.7h0M1179.4 960.4h0M1180.5 971.8h0M1180.6 960.5h0M1183.6 960.3h0M1185.9 962.4h0M1186.8 986.0h0M1187.7 981.5h0M1189.2 968.0h0M1189.2 986.6h0M1190.4 962.3h0M1190.4 985.0h0M1191.8 983.5h0M1192.4 968.6h0M1195.7 978.5h0M1196.9 962.7h0M1199.3 976.8h0M1199.6 973.1h0M1199.7 981.7h0M1201.5 980.9h0M1201.7 988.8h0M1201.9 986.6h0M1202.0 988.7h0M1202.3 963.2h0M1202.4 986.1h0M1202.5 966.1h0M1202.8 964.6h0M1203.0 974.8h0M1203.1 968.4h0M1203.9 978.5h0M1204.0 987.1h0M1205.1 979.0h0M1205.9 965.1h0M1206.4 968.0h0M1206.5 977.7h0M1206.7 985.8h0M1206.7 977.3h0M1207.2 985.7h0M1210.1 970.9h0M1211.2 980.1h0M1213.6 981.7h0M1214.2 967.0h0M1215.4 979.3h0M1215.9 981.1h0M1216.5 982.9h0M1219.2 965.7h0M1221.3 976.3h0M1222.8 982.3h0M1222.8 986.4h0M1223.9 972.5h0M1227.0 967.2h0M1227.6 962.1h0M1229.1 966.4h0M1231.5 978.3h0M1234.0 978.8h0M1237.8 962.1h0M1238.1 976.9h0M1238.3 982.2h0M1238.7 983.7h0M1242.1 975.7h0M1244.9 967.5h0M1246.3 977.6h0M1246.7 970.9h0M1247.8 966.1h0M1249.3 986.6h0M1251.5 987.1h0M1251.6 964.1h0M1253.2 973.1h0M1255.2 962.8h0M1255.4 986.7h0M1255.4 985.0h0M1255.4 975.8h0M1256.7 983.1h0M1256.7 982.9h0M1257.1 974.0h0M1258.1 966.6h0M1258.8 984.3h0M1259.3 978.6h0M1265.3 968.7h0M1265.4 980.4h0M1267.3 978.3h0M1267.7 973.3h0M1268.3 974.4h0M1269.5 977.6h0M1269.5 982.6h0M1269.8 974.3h0M1272.6 978.4h0M1273.1 980.5h0M1273.5 961.4h0M1273.9 982.0h0M1274.0 980.5h0M1274.0 982.5h0M1274.9 963.1h0M1275.6 965.9h0M1282.1 978.6h0M1282.7 983.2h0M1283.4 980.4h0M1290.3 966.9h0M1290.6 984.2h0M1293.9 989.4h0M1296.4 988.9h0M1297.0 964.4h0M1297.5 965.3h0M1298.8 962.0h0M1300.0 963.4h0M1300.7 964.6h0M1301.8 975.1h0M1306.2 968.8h0M1309.3 968.6h0M1309.9 986.4h0M1310.2 964.8h0M1313.0 967.4h0M1314.8 973.1h0M1315.5 973.8h0M1317.3 982.1h0M1318.1 967.0h0M1318.8 972.6h0M1319.3 982.0h0M1320.1 972.1h0M1322.0 985.5h0M1323.2 979.7h0M1324.5 982.0h0M1325.7 965.0h0M1327.7 965.5h0M1327.9 981.9h0M1328.0 987.7h0M1329.4 974.2h0M1332.7 970.7h0M1335.6 975.4h0M1335.7 967.2h0M1336.0 970.5h0M1337.1 965.7h0M1338.7 980.8h0M1340.5 985.3h0M1341.6 964.5h0M1341.7 987.5h0M1342.3 979.7h0M1343.8 980.9h0M1344.6 983.2h0M1345.4 983.3h0M1346.5 961.4h0M1347.5 981.8h0M1347.9 988.1h0M1348.0 983.8h0M1348.3 974.5h0M1348.9 968.4h0M1350.0 963.2h0M1350.5 983.9h0M1355.4 968.3h0M1359.1 967.2h0M1360.1 989.1h0M1361.8 967.0h0M1364.1 968.1h0M1364.7 986.3h0M1365.0 989.6h0M1365.7 961.9h0M1366.5 978.8h0M1366.8 981.5h0M1367.4 983.4h0M1367.6 969.1h0M1368.3 970.0h0M1368.6 978.7h0M1370.5 977.7h0M1374.3 964.6h0M1377.2 965.0h0M1377.5 968.5h0M1382.9 983.3h0M1387.5 989.3h0M1387.7 962.3h0M1389.7 972.3h0M1390.5 974.3h0M1392.5 987.3h0M1392.9 967.5h0M1393.1 963.5h0M1394.7 981.8h0M1396.4 967.0h0M1398.7 986.1h0M1399.1 965.8h0M1401.5 964.5h0M1405.2 985.5h0M1406.9 968.1h0M1407.7 988.7h0M1409.0 987.3h0M1409.4 965.8h0M1410.7 963.2h0M1412.2 963.1h0M1414.0 988.6h0M1415.0 963.8h0M1417.8 989.0h0M1418.9 966.2h0M1422.9 966.6h0M1423.9 982.5h0M1424.5 970.9h0M1425.1 974.8h0M1426.3 982.4h0M1426.9 971.1h0M1427.5 985.2h0M1427.6 966.3h0M1430.7 964.7h0M1431.4 983.2h0M1435.3 984.9h0M1438.5 989.4h0M1438.8 989.0h0M1441.1 983.9h0M1441.5 981.0h0M1443.3 960.5h0M1447.8 968.3h0M1448.2 965.5h0M1451.8 982.9h0M1452.3 984.1h0M1454.0 986.9h0M1455.9 966.6h0M1458.9 965.8h0M1459.3 987.1h0M1459.4 968.1h0M1461.4 985.9h0M1461.6 967.2h0M1463.1 970.2h0M1464.3 974.9h0M1465.7 978.9h0M1467.0 986.9h0M1469.0 982.1h0M1473.9 976.7h0M1474.1 974.6h0M1474.2 978.2h0M1476.7 980.2h0M1481.6 971.2h0M1481.6 975.8h0M1483.0 967.1h0M1483.3 966.5h0M1485.5 962.3h0M1486.2 983.7h0M1486.6 987.8h0M1488.5 963.2h0M1488.6 987.6h0M1489.8 974.6h0M1491.5 964.0h0M1492.2 984.7h0M1493.3 963.3h0M1496.0 981.0h0M1496.5 971.3h0M1498.0 982.5h0M1498.1 974.5h0M1498.7 984.0h0M1505.9 965.7h0M1511.8 987.3h0M1514.1 962.4h0M1514.3 975.1h0M1522.7 960.5h0M1525.3 961.6h0M1530.1 965.2h0M1530.8 976.9h0M1532.4 966.0h0M1533.6 978.9h0M1535.3 986.9h0M1540.8 967.9h0M1549.1 966.3h0M1552.1 977.3h0M1552.2 976.6h0M1554.1 980.2h0M1558.7 976.9h0M1559.9 980.1h0M1562.9 982.8h0M1570.2 969.0h0M1571.5 976.5h0M1571.8 967.1h0M1572.8 986.6h0M1572.9 966.8h0M1573.7 965.3h0M1573.9 972.0h0M1574.9 965.0h0M1575.3 985.6h0M1575.7 972.6h0M1576.2 966.9h0M1580.2 978.9h0M1580.3 963.1h0M1584.6 974.0h0M1586.7 967.4h0M1589.5 970.7h0M1589.7 972.4h0M1592.2 983.1h0M1593.7 969.3h0M1595.9 977.2h0M1598.7 971.4h0M1599.0 970.8h0M1605.7 981.0h0M1607.0 962.1h0M1607.8 989.9h0M1613.4 973.7h0M1615.5 973.6h0M1615.9 981.4h0M1616.3 975.5h0M1616.4 970.2h0M1616.6 973.0h0M1618.0 975.3h0M1618.7 969.0h0M1619.1 969.1h0M1619.2 974.7h0M1619.3 975.6h0M1620.8 978.5h0M1620.9 969.3h0M1628.3 977.0h0M1632.8 980.3h0M1634.5 968.1h0M436.0 991.9h0M436.5 996.9h0M437.4 1004.4h0M448.7 1013.1h0M452.5 1013.2h0M452.6 1014.4h0M452.9 996.7h0M455.9 1007.3h0M458.1 1019.1h0M460.4 991.0h0M467.7 1004.2h0M468.1 1001.5h0M474.7 994.6h0M479.3 1001.6h0M479.8 1012.6h0M479.9 993.3h0M480.1 1001.8h0M483.9 1005.5h0M489.2 1013.5h0M489.3 1014.0h0M493.5 1006.0h0M497.1 1011.1h0M497.1 1008.5h0M502.0 992.6h0M503.0 1012.1h0M507.9 1003.4h0M509.4 1003.4h0M513.9 996.3h0M516.9 1013.4h0M517.4 996.8h0M530.5 1007.4h0M535.4 1006.3h0M536.8 1015.9h0M544.0 1013.1h0M545.1 1017.1h0M546.9 1010.9h0M552.7 994.4h0M555.1 1008.4h0M555.9 1007.9h0M561.6 994.4h0M562.6 1003.5h0M568.0 1010.4h0M571.0 1001.4h0M571.2 1008.2h0M571.6 1007.7h0M575.4 991.7h0M575.9 1019.3h0M581.5 996.7h0M582.8 1007.7h0M584.9 1000.1h0M599.2 1013.7h0M600.2 1004.3h0M606.6 1002.8h0M607.2 998.1h0M607.3 998.7h0M614.6 1012.2h0M615.7 1013.8h0M620.3 1014.9h0M621.8 996.4h0M624.0 1011.3h0M624.9 1008.5h0M625.9 1016.5h0M627.4 993.5h0M627.9 1019.3h0M628.3 996.7h0M632.4 991.6h0M633.9 994.8h0M635.2 1019.5h0M635.7 995.2h0M636.4 1011.9h0M640.6 1007.2h0M644.1 1014.4h0M649.3 1014.3h0M649.5 992.7h0M650.9 1001.7h0M652.6 1019.7h0M653.2 1006.9h0M655.6 1016.2h0M657.9 1005.1h0M667.9 1011.2h0M669.0 1016.4h0M671.1 1012.6h0M677.0 1006.0h0M678.4 1015.1h0M688.4 998.6h0M689.2 1016.1h0M690.9 1009.7h0M694.3 1015.9h0M695.8 994.7h0M695.9 1000.9h0M697.1 1009.3h0M698.5 1009.0h0M699.2 1018.0h0M711.3 996.2h0M715.3 1000.0h0M715.4 1013.2h0M715.4 1012.3h0M717.7 1012.3h0M719.0 1005.8h0M720.0 997.1h0M727.8 1013.6h0M730.3 1005.7h0M731.9 1005.4h0M732.7 1003.9h0M736.7 992.0h0M740.7 995.4h0M741.2 1006.4h0M749.2 1009.5h0M755.3 1003.0h0M758.5 1009.5h0M759.2 1005.6h0M763.0 1006.1h0M764.2 1008.7h0M769.2 1001.3h0M773.0 991.1h0M783.1 1020.0h0M792.3 1010.3h0M793.3 1007.6h0M793.5 998.1h0M797.3 1000.6h0M798.2 1000.9h0M802.0 990.4h0M803.9 1008.7h0M809.9 997.6h0M810.7 1002.4h0M811.3 1018.0h0M815.7 1010.9h0M816.2 1011.8h0M823.1 1003.3h0M833.2 1009.5h0M836.4 994.1h0M836.9 998.9h0M841.1 1007.9h0M842.1 1016.9h0M861.3 1008.7h0M865.0 1014.2h0M869.4 1018.5h0M869.5 1011.7h0M871.0 990.5h0M876.5 1008.1h0M883.8 1014.2h0M898.2 1003.2h0M898.3 1003.5h0M898.6 1014.4h0M905.3 993.2h0M909.1 995.9h0M911.4 995.7h0M911.6 999.9h0M915.7 991.7h0M921.2 1016.5h0M923.7 1012.2h0M924.5 1014.4h0M924.6 1005.1h0M925.0 1008.3h0M925.6 1013.2h0M945.1 1005.8h0M947.8 1009.4h0M953.8 994.7h0M959.2 1014.2h0M960.7 997.7h0M964.9 1015.4h0M978.1 1014.4h0M978.3 1019.2h0M983.4 998.2h0M1009.2 1006.3h0M1014.2 1007.3h0M1015.4 999.6h0M1025.0 1016.1h0M1033.6 1000.0h0M1034.1 1011.5h0M1036.0 1000.3h0M1052.9 1014.1h0M1063.6 1019.5h0M1064.6 1017.0h0M1066.3 1006.0h0M1071.2 990.2h0M1071.4 997.8h0M1073.8 996.8h0M1074.6 995.0h0M1077.1 1011.4h0M1077.4 991.4h0M1079.6 1013.0h0M1080.5 1012.7h0M1081.2 991.5h0M1083.2 1012.7h0M1083.6 1011.7h0M1084.7 993.4h0M1085.8 1012.4h0M1086.1 1018.2h0M1088.2 1000.3h0M1089.0 1013.7h0M1090.2 994.9h0M1091.1 995.0h0M1093.9 1014.9h0M1094.4 1008.6h0M1099.4 1004.1h0M1099.6 1016.1h0M1102.4 991.6h0M1107.9 995.9h0M1113.3 993.9h0M1113.3 1008.0h0M1117.6 991.0h0M1117.9 998.7h0M1120.1 990.9h0M1122.6 998.7h0M1124.7 1010.0h0M1130.3 1003.2h0M1131.7 1014.4h0M1132.8 1018.0h0M1133.5 1019.4h0M1135.0 1018.0h0M1143.0 995.9h0M1143.7 1016.3h0M1147.8 997.7h0M1153.7 995.6h0M1154.6 1000.7h0M1155.2 1006.7h0M1155.9 1002.7h0M1156.8 1007.8h0M1158.0 1004.2h0M1158.5 1008.0h0M1160.3 999.9h0M1168.5 1005.2h0M1170.2 995.4h0M1170.3 991.0h0M1170.4 1002.9h0M1171.0 995.4h0M1171.9 1001.9h0M1180.9 999.7h0M1182.9 1019.3h0M1183.5 990.8h0M1184.3 1009.2h0M1187.4 1015.9h0M1187.9 1019.5h0M1191.7 1015.9h0M1192.2 1006.5h0M1194.7 1010.7h0M1194.9 996.7h0M1196.2 1007.2h0M1200.0 1012.5h0M1202.8 1014.2h0M1204.0 1009.7h0M1204.3 1007.7h0M1205.3 1012.0h0M1205.3 991.0h0M1205.4 1005.1h0M1206.0 1018.2h0M1207.1 1009.2h0M1208.5 1001.2h0M1210.0 1003.6h0M1210.5 1008.7h0M1212.6 991.4h0M1214.5 1005.2h0M1216.9 999.6h0M1218.4 1015.7h0M1220.9 1011.4h0M1222.3 1017.6h0M1223.1 1004.1h0M1224.0 1001.0h0M1231.0 995.7h0M1231.9 1018.5h0M1232.6 1016.5h0M1233.4 1010.3h0M1238.6 990.5h0M1241.6 1001.3h0M1243.2 996.8h0M1245.2 995.6h0M1246.9 991.0h0M1252.6 1005.6h0M1254.6 1008.1h0M1254.9 994.2h0M1255.5 1003.4h0M1255.6 1005.7h0M1260.4 1003.2h0M1265.0 1001.2h0M1270.3 1013.1h0M1270.6 1000.8h0M1275.0 1010.9h0M1280.9 1007.6h0M1281.3 1016.0h0M1281.4 1017.2h0M1281.6 1009.7h0M1281.9 997.8h0M1283.3 1005.0h0M1283.6 1006.1h0M1283.7 1012.8h0M1284.7 999.6h0M1285.5 1009.9h0M1287.5 990.8h0M1287.6 1007.7h0M1296.2 996.0h0M1296.2 1009.5h0M1297.9 991.4h0M1298.7 998.2h0M1301.0 1008.8h0M1301.4 997.3h0M1301.6 1005.1h0M1306.4 1009.9h0M1308.8 1013.6h0M1310.1 1006.1h0M1310.5 1006.2h0M1313.6 1008.0h0M1313.8 1006.8h0M1314.6 1013.5h0M1315.3 990.5h0M1316.2 1006.9h0M1318.9 999.4h0M1321.5 1017.5h0M1324.6 996.6h0M1325.5 1016.6h0M1329.7 992.0h0M1329.7 1012.9h0M1330.4 1004.9h0M1334.1 1005.2h0M1337.5 1014.5h0M1339.3 992.1h0M1343.1 997.4h0M1347.0 1014.9h0M1348.6 992.7h0M1351.3 1002.9h0M1351.9 991.1h0M1352.0 994.5h0M1353.7 1016.3h0M1353.9 1017.8h0M1360.7 1017.0h0M1364.1 1011.1h0M1364.3 1014.1h0M1366.6 1013.8h0M1366.9 992.7h0M1367.2 990.6h0M1370.0 991.0h0M1371.3 991.8h0M1371.8 1017.9h0M1372.6 994.0h0M1374.6 992.8h0M1374.8 996.3h0M1378.7 991.2h0M1382.1 1001.2h0M1385.4 1008.9h0M1385.8 1017.5h0M1386.0 1015.8h0M1387.0 992.6h0M1390.4 1006.3h0M1390.7 990.0h0M1391.6 1012.8h0M1392.6 1012.1h0M1394.1 990.9h0M1405.2 990.8h0M1409.4 998.1h0M1409.9 992.8h0M1411.9 1019.9h0M1417.8 1017.4h0M1421.2 1014.5h0M1421.8 1017.0h0M1423.4 1016.7h0M1424.2 1001.6h0M1425.3 990.4h0M1428.8 999.2h0M1430.9 998.7h0M1434.2 994.3h0M1436.6 1018.2h0M1438.4 1000.2h0M1439.9 992.6h0M1441.4 1010.6h0M1441.4 1018.4h0M1442.3 1015.9h0M1442.5 998.6h0M1443.9 1016.8h0M1444.4 1002.2h0M1445.2 995.0h0M1446.2 1003.9h0M1448.0 1019.2h0M1448.3 999.1h0M1450.5 1018.9h0M1451.5 1004.4h0M1457.5 1010.3h0M1457.7 1019.2h0M1460.1 1007.0h0M1460.4 991.2h0M1460.5 1019.1h0M1465.0 990.9h0M1465.8 999.0h0M1468.1 1005.5h0M1469.9 990.6h0M1471.5 1008.6h0M1479.9 1003.4h0M1483.1 1010.4h0M1484.6 1013.7h0M1489.1 993.3h0M1490.3 1008.4h0M1491.3 1015.3h0M1492.6 1002.8h0M1493.2 1015.9h0M1505.0 1007.8h0M1516.0 997.6h0M1527.7 1011.6h0M1532.0 997.6h0M1533.6 1003.4h0M1544.6 1013.1h0M1556.1 1008.0h0M1560.2 1015.2h0M1561.5 998.5h0M1562.6 1007.5h0M1563.2 1002.9h0M1566.5 1005.6h0M1566.8 1005.8h0M1573.7 995.7h0M1581.6 1013.2h0M1581.7 1009.5h0M1584.4 994.0h0M1585.7 1003.9h0M1588.2 1009.6h0M1590.1 1006.4h0M1590.5 1004.1h0M1591.8 990.9h0M1592.3 1001.3h0M1599.1 995.3h0M1600.1 1001.4h0M1606.2 990.6h0M1615.9 995.0h0M1618.0 993.7h0M1619.1 998.8h0M453.0 1023.7h0M456.0 1045.1h0M465.9 1047.7h0M468.0 1046.3h0M471.8 1044.4h0M473.1 1040.1h0M473.5 1043.2h0M474.0 1041.9h0M475.6 1031.1h0M479.5 1034.3h0M479.9 1028.1h0M481.6 1032.9h0M484.1 1028.6h0M485.6 1048.4h0M486.0 1031.8h0M487.1 1031.6h0M493.4 1046.4h0M494.9 1030.6h0M495.5 1049.8h0M495.6 1033.8h0M496.3 1027.8h0M499.6 1043.0h0M499.7 1048.7h0M501.5 1040.6h0M501.8 1045.8h0M505.8 1033.9h0M507.2 1037.3h0M508.3 1039.9h0M512.9 1037.4h0M516.3 1045.0h0M516.8 1031.7h0M519.1 1025.1h0M519.1 1049.4h0M521.1 1031.6h0M521.2 1026.1h0M522.2 1028.7h0M522.7 1030.3h0M523.5 1044.7h0M523.6 1044.4h0M524.1 1029.7h0M525.2 1020.7h0M526.2 1029.0h0M530.8 1049.8h0M532.8 1037.1h0M535.2 1028.4h0M537.4 1035.9h0M545.1 1027.6h0M545.4 1029.1h0M547.4 1023.3h0M547.6 1024.3h0M548.4 1020.6h0M551.9 1036.4h0M561.8 1032.8h0M563.1 1032.7h0M576.2 1039.0h0M590.0 1041.4h0M590.6 1036.3h0M591.0 1024.2h0M592.4 1040.2h0M598.5 1038.3h0M602.0 1022.5h0M622.1 1029.9h0M625.1 1027.8h0M626.2 1032.7h0M630.5 1042.9h0M632.5 1037.5h0M633.9 1025.6h0M636.5 1028.1h0M637.9 1037.5h0M638.0 1030.6h0M642.6 1029.2h0M648.8 1040.7h0M648.9 1045.7h0M654.0 1031.6h0M656.7 1020.7h0M657.0 1045.6h0M658.8 1037.2h0M660.8 1043.2h0M661.2 1028.3h0M663.0 1038.6h0M669.0 1047.5h0M677.4 1045.8h0M680.9 1026.3h0M685.1 1041.0h0M685.9 1024.1h0M687.1 1023.0h0M695.5 1027.8h0M696.1 1041.2h0M697.4 1043.5h0M704.8 1043.1h0M712.1 1043.6h0M714.3 1025.4h0M714.3 1025.9h0M715.2 1025.6h0M717.6 1020.6h0M718.2 1027.4h0M719.2 1038.9h0M719.3 1027.8h0M721.2 1022.0h0M732.9 1038.2h0M738.8 1041.7h0M740.5 1045.6h0M753.9 1033.2h0M780.7 1044.4h0M782.0 1023.6h0M788.5 1035.5h0M790.5 1029.8h0M796.1 1039.3h0M798.3 1043.8h0M799.3 1031.8h0M800.4 1032.1h0M803.1 1045.4h0M807.2 1049.1h0M807.7 1023.9h0M807.9 1033.9h0M817.3 1042.6h0M818.9 1021.2h0M824.7 1022.5h0M825.2 1043.6h0M825.7 1023.3h0M825.8 1024.9h0M826.3 1034.1h0M826.9 1046.2h0M830.2 1035.2h0M832.3 1041.7h0M838.5 1034.4h0M846.2 1028.7h0M849.0 1020.7h0M857.8 1041.6h0M859.2 1049.6h0M859.7 1041.5h0M862.0 1024.2h0M863.4 1037.6h0M867.8 1031.9h0M868.7 1033.6h0M873.8 1040.8h0M874.5 1037.8h0M878.0 1044.6h0M881.8 1042.5h0M885.6 1039.2h0M887.9 1042.8h0M890.5 1028.7h0M892.0 1048.5h0M892.8 1022.1h0M894.1 1026.8h0M899.7 1049.1h0M905.0 1025.2h0M912.6 1025.3h0M914.9 1030.8h0M918.5 1041.1h0M919.8 1049.2h0M920.8 1036.9h0M923.8 1027.6h0M926.1 1049.2h0M936.5 1038.5h0M942.4 1040.9h0M944.6 1024.8h0M983.1 1033.1h0M1019.3 1035.6h0M1021.0 1035.6h0M1051.9 1040.5h0M1052.0 1037.7h0M1054.0 1043.4h0M1056.6 1034.6h0M1064.4 1041.9h0M1065.5 1037.8h0M1077.6 1026.3h0M1079.3 1031.3h0M1080.7 1026.9h0M1088.2 1021.9h0M1089.1 1044.3h0M1095.2 1039.4h0M1099.4 1049.6h0M1100.0 1042.9h0M1102.7 1027.9h0M1108.3 1043.6h0M1110.3 1049.6h0M1112.7 1036.7h0M1121.7 1029.2h0M1124.4 1022.8h0M1124.7 1042.6h0M1127.8 1043.2h0M1128.5 1038.3h0M1128.7 1043.8h0M1131.3 1023.6h0M1132.0 1023.6h0M1132.2 1020.5h0M1136.3 1034.4h0M1138.5 1036.1h0M1139.9 1047.0h0M1144.2 1038.0h0M1147.7 1048.9h0M1148.7 1048.9h0M1148.7 1040.0h0M1150.7 1032.9h0M1150.9 1038.6h0M1153.8 1025.5h0M1156.4 1029.4h0M1157.7 1028.8h0M1157.7 1043.3h0M1158.4 1048.2h0M1159.0 1029.2h0M1159.2 1025.9h0M1160.4 1044.4h0M1163.2 1028.1h0M1163.9 1023.1h0M1165.4 1026.0h0M1167.4 1022.2h0M1167.6 1035.4h0M1172.3 1022.1h0M1177.1 1020.9h0M1179.4 1020.5h0M1179.9 1045.4h0M1182.1 1048.3h0M1182.2 1043.7h0M1184.4 1034.5h0M1187.6 1027.3h0M1187.9 1025.3h0M1188.3 1031.3h0M1189.8 1029.6h0M1191.9 1029.4h0M1192.7 1029.6h0M1194.3 1038.4h0M1195.4 1025.8h0M1195.9 1044.1h0M1196.0 1021.8h0M1196.6 1030.8h0M1198.2 1026.9h0M1199.1 1044.8h0M1200.9 1046.3h0M1203.2 1025.2h0M1203.6 1033.3h0M1204.6 1037.9h0M1204.7 1026.3h0M1205.5 1021.9h0M1207.5 1030.6h0M1207.6 1028.8h0M1208.9 1029.9h0M1210.8 1021.6h0M1210.9 1023.6h0M1216.2 1049.7h0M1217.1 1047.3h0M1218.3 1044.6h0M1220.8 1034.9h0M1222.0 1026.0h0M1228.3 1023.4h0M1230.1 1024.2h0M1232.6 1036.6h0M1234.7 1022.5h0M1235.3 1024.8h0M1238.7 1026.5h0M1238.7 1027.4h0M1239.2 1039.6h0M1240.1 1040.9h0M1240.9 1020.5h0M1241.4 1038.5h0M1241.6 1042.6h0M1247.5 1041.7h0M1248.9 1031.2h0M1249.7 1035.0h0M1249.8 1039.5h0M1250.2 1037.2h0M1250.7 1043.0h0M1251.2 1034.5h0M1255.4 1040.7h0M1256.8 1042.5h0M1259.1 1038.8h0M1265.0 1039.9h0M1265.2 1021.4h0M1267.9 1020.3h0M1269.6 1049.5h0M1270.2 1020.2h0M1271.6 1049.7h0M1271.8 1031.0h0M1272.9 1041.1h0M1275.1 1034.4h0M1279.0 1030.7h0M1279.9 1024.7h0M1280.0 1040.5h0M1281.4 1029.7h0M1282.1 1037.5h0M1287.3 1036.1h0M1288.5 1048.0h0M1290.6 1044.5h0M1290.8 1031.5h0M1293.5 1026.7h0M1293.5 1035.7h0M1296.6 1032.0h0M1296.9 1023.1h0M1298.2 1038.3h0M1299.4 1034.2h0M1299.8 1034.1h0M1301.5 1032.0h0M1302.0 1035.1h0M1302.4 1038.3h0M1303.3 1032.4h0M1303.9 1035.9h0M1304.6 1022.2h0M1307.5 1024.4h0M1310.1 1025.0h0M1310.9 1037.6h0M1311.7 1043.4h0M1312.4 1038.9h0M1319.7 1037.6h0M1320.6 1039.6h0M1320.9 1040.3h0M1321.0 1038.9h0M1321.3 1038.8h0M1321.5 1022.1h0M1322.2 1049.1h0M1322.3 1042.6h0M1329.1 1041.6h0M1333.1 1036.0h0M1336.4 1045.4h0M1337.7 1028.8h0M1338.4 1030.2h0M1340.9 1047.4h0M1341.1 1044.3h0M1343.4 1040.5h0M1344.3 1030.2h0M1344.6 1029.3h0M1344.9 1030.8h0M1345.4 1029.5h0M1345.7 1035.0h0M1346.2 1047.5h0M1346.4 1022.2h0M1347.3 1024.7h0M1347.7 1023.0h0M1349.1 1043.6h0M1349.3 1030.2h0M1353.6 1038.6h0M1354.1 1043.2h0M1357.4 1022.3h0M1358.2 1024.0h0M1359.3 1047.4h0M1361.7 1025.5h0M1363.1 1038.5h0M1364.1 1030.7h0M1365.4 1040.6h0M1367.8 1023.5h0M1368.8 1044.1h0M1369.7 1046.1h0M1370.3 1039.5h0M1370.3 1047.8h0M1372.4 1047.1h0M1374.1 1034.2h0M1374.9 1034.7h0M1376.9 1045.7h0M1377.0 1033.7h0M1378.1 1033.7h0M1379.1 1028.9h0M1381.6 1027.5h0M1384.3 1031.6h0M1387.0 1048.7h0M1390.3 1045.4h0M1396.1 1033.4h0M1398.0 1045.3h0M1400.4 1035.8h0M1403.6 1021.4h0M1403.8 1024.8h0M1403.9 1036.3h0M1405.6 1033.2h0M1407.0 1038.5h0M1408.4 1029.6h0M1409.2 1036.6h0M1409.5 1037.7h0M1410.1 1032.1h0M1413.1 1044.4h0M1417.4 1037.3h0M1418.2 1041.1h0M1420.0 1039.5h0M1421.7 1030.3h0M1425.3 1025.7h0M1426.4 1031.2h0M1427.7 1030.0h0M1430.2 1024.5h0M1430.4 1020.2h0M1437.5 1031.9h0M1439.2 1028.6h0M1440.2 1029.2h0M1441.2 1044.1h0M1441.3 1036.7h0M1443.9 1037.2h0M1449.2 1021.9h0M1455.1 1026.3h0M1464.5 1032.8h0M1467.0 1022.9h0M1467.3 1034.0h0M1468.2 1049.4h0M1471.4 1032.7h0M1472.5 1034.5h0M1480.7 1034.5h0M1481.6 1021.2h0M1490.3 1031.4h0M1497.1 1026.7h0M1499.3 1024.2h0M1499.3 1028.0h0M1499.4 1022.0h0M1507.7 1022.1h0M1536.0 1047.0h0M1548.1 1024.3h0M1564.2 1021.6h0M1573.2 1025.3h0M463.9 1052.2h0M474.8 1054.1h0M480.5 1067.0h0M480.7 1052.9h0M480.8 1067.7h0M485.0 1062.3h0M490.8 1054.6h0M495.4 1050.4h0M496.8 1058.5h0M499.6 1075.5h0M500.2 1076.2h0M500.4 1070.9h0M507.8 1058.9h0M511.4 1078.0h0M515.2 1070.3h0M515.3 1059.7h0M520.0 1059.5h0M521.0 1059.6h0M524.1 1070.4h0M525.1 1068.2h0M534.0 1079.0h0M534.9 1076.6h0M536.6 1059.9h0M537.7 1059.9h0M538.6 1071.9h0M539.7 1054.7h0M539.8 1077.5h0M543.8 1063.8h0M548.3 1059.9h0M549.0 1058.6h0M553.8 1079.9h0M556.0 1058.1h0M557.8 1053.5h0M561.8 1051.4h0M562.4 1053.2h0M563.5 1066.8h0M564.9 1066.0h0M566.5 1075.3h0M571.4 1055.6h0M571.9 1051.3h0M574.3 1073.4h0M580.2 1069.5h0M580.9 1066.3h0M580.9 1067.8h0M581.5 1061.3h0M593.5 1059.6h0M601.1 1060.0h0M606.1 1069.7h0M607.3 1068.9h0M612.4 1065.5h0M616.7 1052.9h0M616.8 1060.9h0M619.7 1077.8h0M620.4 1074.5h0M624.1 1054.6h0M633.5 1070.5h0M657.3 1058.0h0M661.2 1060.3h0M664.1 1073.5h0M664.5 1059.5h0M696.1 1070.2h0M696.9 1071.9h0M698.2 1071.8h0M699.3 1058.4h0M702.0 1075.3h0M703.0 1067.0h0M705.0 1052.7h0M713.9 1058.3h0M714.4 1077.7h0M718.3 1063.4h0M719.9 1072.0h0M729.1 1076.6h0M730.8 1072.1h0M731.1 1058.6h0M741.8 1071.6h0M749.7 1076.6h0M752.5 1070.6h0M756.6 1062.0h0M776.1 1077.0h0M776.3 1071.8h0M778.2 1070.3h0M781.7 1056.8h0M798.8 1054.3h0M803.7 1064.1h0M805.7 1075.9h0M808.7 1067.3h0M808.7 1079.1h0M826.3 1057.7h0M830.7 1055.6h0M833.3 1060.7h0M833.6 1058.4h0M833.6 1070.1h0M834.5 1065.8h0M834.6 1053.9h0M834.6 1071.0h0M839.0 1069.0h0M841.9 1079.1h0M850.5 1078.1h0M852.4 1050.7h0M853.0 1079.2h0M853.2 1068.1h0M854.3 1072.7h0M863.0 1060.5h0M864.1 1056.2h0M878.3 1065.6h0M880.0 1070.8h0M891.0 1067.5h0M895.0 1058.9h0M895.9 1065.1h0M896.5 1061.3h0M897.8 1066.7h0M902.5 1051.1h0M905.8 1053.8h0M908.8 1052.3h0M917.0 1064.3h0M924.2 1057.1h0M924.5 1057.1h0M926.9 1068.3h0M928.9 1065.8h0M929.5 1066.9h0M939.6 1066.1h0M940.7 1058.4h0M943.9 1070.8h0M956.0 1066.1h0M970.5 1056.2h0M977.3 1066.7h0M978.2 1055.6h0M978.5 1050.3h0M992.5 1050.8h0M1000.1 1077.5h0M1008.6 1057.7h0M1027.0 1053.6h0M1030.2 1050.3h0M1042.1 1053.3h0M1045.0 1069.7h0M1045.4 1054.8h0M1056.2 1058.7h0M1061.3 1051.1h0M1067.5 1079.8h0M1074.1 1070.7h0M1075.2 1050.9h0M1076.0 1060.6h0M1076.1 1068.4h0M1078.2 1054.2h0M1083.9 1052.0h0M1088.2 1063.3h0M1090.7 1070.3h0M1097.2 1069.8h0M1098.1 1078.8h0M1099.0 1076.1h0M1100.3 1062.6h0M1100.6 1058.3h0M1101.3 1064.0h0M1105.6 1060.1h0M1106.6 1063.0h0M1108.3 1050.1h0M1108.9 1066.4h0M1109.2 1050.5h0M1109.6 1065.2h0M1110.2 1069.1h0M1112.3 1058.0h0M1112.8 1050.5h0M1118.3 1060.5h0M1119.4 1055.1h0M1121.6 1053.3h0M1122.2 1052.6h0M1123.1 1054.7h0M1123.7 1079.9h0M1124.1 1062.0h0M1124.2 1078.0h0M1125.2 1073.7h0M1127.8 1073.9h0M1130.5 1068.0h0M1134.5 1072.4h0M1136.4 1051.8h0M1136.6 1052.4h0M1137.3 1054.9h0M1137.7 1061.7h0M1140.1 1073.3h0M1140.7 1066.0h0M1143.1 1053.8h0M1146.5 1055.1h0M1148.7 1068.9h0M1150.1 1051.6h0M1154.3 1064.2h0M1155.5 1079.6h0M1156.5 1077.4h0M1158.5 1054.0h0M1160.2 1056.4h0M1161.9 1078.9h0M1165.3 1072.1h0M1165.3 1065.4h0M1165.4 1062.4h0M1166.7 1062.7h0M1169.0 1058.7h0M1171.0 1063.7h0M1172.3 1079.7h0M1174.2 1072.1h0M1175.0 1067.8h0M1175.7 1064.9h0M1177.7 1075.9h0M1180.9 1052.3h0M1184.6 1052.8h0M1186.8 1068.4h0M1186.9 1077.9h0M1188.0 1076.9h0M1188.5 1052.5h0M1188.7 1053.9h0M1189.1 1052.0h0M1191.4 1074.9h0M1194.0 1051.5h0M1194.0 1050.1h0M1195.5 1058.0h0M1195.9 1053.5h0M1207.7 1065.1h0M1210.0 1067.8h0M1210.0 1079.5h0M1216.3 1053.3h0M1219.3 1058.9h0M1222.6 1059.5h0M1222.7 1071.2h0M1224.2 1055.0h0M1224.4 1059.8h0M1225.0 1056.6h0M1225.2 1079.5h0M1226.5 1057.6h0M1226.7 1070.5h0M1227.4 1074.3h0M1233.8 1058.7h0M1234.4 1063.2h0M1235.6 1075.8h0M1235.7 1055.9h0M1236.2 1056.6h0M1237.2 1069.6h0M1239.6 1059.0h0M1240.4 1073.3h0M1241.2 1050.8h0M1242.3 1062.7h0M1243.2 1070.3h0M1243.8 1063.6h0M1245.5 1055.8h0M1248.5 1079.8h0M1251.2 1055.9h0M1252.6 1054.6h0M1258.1 1072.6h0M1258.5 1060.5h0M1260.0 1060.6h0M1260.1 1050.6h0M1263.2 1053.5h0M1263.2 1065.9h0M1263.8 1073.7h0M1265.3 1052.4h0M1266.8 1072.9h0M1268.4 1051.7h0M1269.5 1051.5h0M1270.5 1054.8h0M1270.7 1058.6h0M1272.6 1050.8h0M1272.7 1074.5h0M1278.4 1073.8h0M1278.4 1071.2h0M1279.0 1075.7h0M1279.1 1050.7h0M1280.9 1057.6h0M1283.7 1065.5h0M1288.2 1079.8h0M1288.7 1064.6h0M1289.6 1059.4h0M1289.7 1064.4h0M1291.1 1061.2h0M1291.5 1060.8h0M1291.8 1053.7h0M1291.9 1053.4h0M1291.9 1078.7h0M1294.5 1062.9h0M1298.0 1066.4h0M1298.6 1079.0h0M1299.2 1051.5h0M1301.2 1054.8h0M1302.7 1063.6h0M1303.5 1061.3h0M1304.0 1060.9h0M1312.4 1068.5h0M1315.2 1072.6h0M1316.0 1060.4h0M1316.2 1054.2h0M1317.0 1067.1h0M1317.6 1054.7h0M1317.8 1068.2h0M1317.8 1067.8h0M1318.9 1060.8h0M1321.2 1058.3h0M1322.0 1070.1h0M1324.8 1070.4h0M1325.1 1071.1h0M1325.2 1058.8h0M1329.0 1069.0h0M1329.6 1056.2h0M1330.2 1054.2h0M1330.8 1074.1h0M1331.0 1068.8h0M1333.6 1054.9h0M1336.7 1060.9h0M1339.2 1078.9h0M1340.7 1057.2h0M1340.8 1071.6h0M1343.2 1069.8h0M1347.8 1072.9h0M1349.9 1051.6h0M1353.1 1062.8h0M1354.8 1054.6h0M1355.9 1067.3h0M1357.7 1055.9h0M1359.6 1075.2h0M1359.8 1050.6h0M1361.3 1070.4h0M1362.5 1075.2h0M1365.0 1072.4h0M1367.7 1069.6h0M1370.2 1054.8h0M1370.4 1068.6h0M1370.9 1074.1h0M1371.7 1073.4h0M1372.2 1077.0h0M1372.4 1055.7h0M1376.6 1053.7h0M1378.9 1067.1h0M1379.5 1065.9h0M1380.4 1064.0h0M1380.4 1057.7h0M1380.7 1065.3h0M1380.7 1073.0h0M1383.4 1075.6h0M1384.5 1058.3h0M1385.7 1075.4h0M1387.0 1067.0h0M1387.4 1056.8h0M1390.3 1069.2h0M1391.2 1060.2h0M1391.3 1054.8h0M1391.7 1055.2h0M1391.8 1079.7h0M1392.3 1072.3h0M1393.0 1078.7h0M1394.9 1079.8h0M1396.0 1070.1h0M1399.1 1079.3h0M1401.4 1074.8h0M1402.5 1055.5h0M1403.1 1055.0h0M1405.3 1069.9h0M1405.9 1058.6h0M1407.6 1062.5h0M1407.8 1073.7h0M1408.5 1075.5h0M1409.7 1063.6h0M1410.9 1069.4h0M1412.7 1068.6h0M1412.8 1068.5h0M1413.8 1078.6h0M1416.8 1065.2h0M1419.3 1050.5h0M1425.3 1062.1h0M1428.0 1064.3h0M1428.8 1063.9h0M1428.9 1058.4h0M1430.4 1065.6h0M1430.7 1059.7h0M1432.5 1069.4h0M1432.9 1069.2h0M1435.3 1079.9h0M1436.6 1069.7h0M1437.8 1054.5h0M1441.9 1077.8h0M1442.3 1062.2h0M1455.2 1061.5h0M1461.1 1062.5h0M1466.9 1077.2h0M1467.7 1050.1h0M1470.3 1053.3h0M502.8 1084.2h0M509.8 1088.5h0M512.2 1088.6h0M513.3 1093.0h0M514.2 1082.2h0M520.5 1102.1h0M522.7 1088.2h0M525.3 1089.1h0M527.9 1090.7h0M532.9 1106.9h0M534.6 1080.0h0M539.7 1096.7h0M540.2 1092.0h0M544.3 1098.3h0M546.9 1080.6h0M547.7 1091.7h0M548.9 1108.5h0M549.3 1082.0h0M550.0 1100.3h0M553.0 1103.7h0M554.0 1098.0h0M557.1 1108.2h0M558.5 1086.5h0M558.5 1092.5h0M563.5 1081.8h0M564.7 1102.9h0M566.3 1109.1h0M569.6 1105.6h0M574.9 1099.8h0M577.4 1104.9h0M577.4 1094.6h0M583.5 1106.5h0M584.4 1099.8h0M584.8 1100.1h0M591.3 1095.2h0M591.4 1109.6h0M595.3 1088.7h0M595.6 1087.7h0M596.0 1080.5h0M599.4 1103.8h0M600.6 1108.1h0M613.7 1108.9h0M618.1 1106.3h0M636.8 1099.9h0M637.7 1080.7h0M676.1 1107.5h0M683.8 1081.6h0M689.4 1086.4h0M690.9 1083.0h0M692.0 1096.2h0M693.7 1089.8h0M695.4 1101.1h0M716.2 1095.0h0M726.1 1093.9h0M729.2 1092.0h0M810.1 1080.6h0M988.8 1081.9h0M1015.3 1101.6h0M1017.0 1088.5h0M1019.0 1107.7h0M1025.7 1099.0h0M1025.9 1091.3h0M1027.1 1096.2h0M1029.1 1093.2h0M1029.2 1089.0h0M1030.8 1080.9h0M1033.7 1093.0h0M1035.4 1094.5h0M1039.6 1095.9h0M1050.9 1086.7h0M1055.4 1105.8h0M1057.9 1093.3h0M1066.7 1094.9h0M1067.2 1096.6h0M1068.3 1102.4h0M1070.2 1101.2h0M1070.8 1082.3h0M1071.5 1081.0h0M1082.4 1092.5h0M1090.4 1098.5h0M1091.5 1095.4h0M1105.1 1107.0h0M1105.5 1099.8h0M1107.8 1092.9h0M1108.2 1089.8h0M1117.1 1094.2h0M1117.2 1096.7h0M1119.9 1096.7h0M1125.3 1082.6h0M1127.0 1101.8h0M1127.8 1107.9h0M1134.6 1101.8h0M1134.8 1095.6h0M1136.5 1087.2h0M1142.5 1108.3h0M1144.9 1097.9h0M1146.1 1083.9h0M1147.1 1097.7h0M1148.1 1096.0h0M1153.2 1082.3h0M1157.5 1090.9h0M1160.0 1082.8h0M1163.7 1094.1h0M1165.4 1086.5h0M1166.3 1105.2h0M1169.4 1092.0h0M1170.0 1104.5h0M1170.1 1093.3h0M1170.3 1100.2h0M1171.4 1083.9h0M1171.9 1104.9h0M1175.1 1106.3h0M1179.2 1098.5h0M1179.3 1086.6h0M1180.8 1088.9h0M1181.2 1092.8h0M1181.4 1106.3h0M1181.6 1104.4h0M1182.5 1102.0h0M1183.3 1098.6h0M1185.0 1081.0h0M1185.7 1085.1h0M1185.8 1082.2h0M1187.8 1082.4h0M1188.8 1107.0h0M1189.0 1108.8h0M1189.0 1093.8h0M1194.7 1104.2h0M1203.2 1101.0h0M1205.1 1089.8h0M1205.5 1098.4h0M1206.5 1081.9h0M1208.4 1104.2h0M1209.9 1084.6h0M1210.1 1105.5h0M1211.1 1107.6h0M1211.5 1095.7h0M1212.7 1095.6h0M1213.5 1091.0h0M1213.9 1096.5h0M1214.4 1098.0h0M1215.6 1091.9h0M1215.7 1089.7h0M1216.8 1093.8h0M1217.3 1098.7h0M1217.8 1089.0h0M1220.2 1104.3h0M1220.9 1108.7h0M1223.2 1104.2h0M1225.5 1089.5h0M1226.2 1106.0h0M1229.3 1098.0h0M1230.7 1083.0h0M1232.5 1104.5h0M1232.7 1080.3h0M1235.7 1105.7h0M1235.9 1108.3h0M1238.2 1101.0h0M1238.6 1104.2h0M1239.8 1094.1h0M1240.4 1082.3h0M1243.0 1095.5h0M1243.0 1096.3h0M1243.2 1080.1h0M1248.1 1105.2h0M1249.0 1099.0h0M1249.0 1098.2h0M1249.3 1096.8h0M1249.4 1098.9h0M1250.0 1094.3h0M1252.5 1084.8h0M1255.9 1109.4h0M1256.7 1086.1h0M1257.3 1106.9h0M1258.6 1099.6h0M1259.3 1090.7h0M1260.2 1080.2h0M1261.7 1085.7h0M1265.8 1082.5h0M1267.2 1101.4h0M1267.8 1098.2h0M1270.3 1098.8h0M1270.4 1100.7h0M1270.6 1091.7h0M1271.4 1100.3h0M1271.9 1094.8h0M1272.9 1104.1h0M1275.0 1092.4h0M1278.4 1088.7h0M1279.9 1103.8h0M1280.8 1084.7h0M1283.6 1088.5h0M1284.2 1090.1h0M1289.6 1105.4h0M1289.8 1082.0h0M1291.5 1091.1h0M1292.2 1109.2h0M1293.3 1099.2h0M1294.3 1109.8h0M1294.3 1098.9h0M1295.2 1096.1h0M1296.4 1108.1h0M1297.5 1096.5h0M1299.6 1096.8h0M1301.3 1093.8h0M1302.7 1107.0h0M1303.4 1081.7h0M1303.7 1094.5h0M1305.5 1083.2h0M1306.0 1083.6h0M1306.6 1103.8h0M1307.4 1082.7h0M1308.6 1099.9h0M1308.7 1088.3h0M1309.4 1097.1h0M1309.7 1088.0h0M1312.3 1106.8h0M1316.5 1092.6h0M1319.5 1092.6h0M1321.1 1081.1h0M1321.5 1104.8h0M1321.8 1094.8h0M1323.3 1109.6h0M1323.8 1096.6h0M1324.6 1102.8h0M1326.0 1097.9h0M1326.5 1096.3h0M1327.3 1092.3h0M1328.7 1090.8h0M1328.8 1087.7h0M1333.8 1104.0h0M1336.5 1091.4h0M1337.6 1088.8h0M1337.8 1089.7h0M1340.6 1080.4h0M1340.8 1100.3h0M1341.2 1082.0h0M1342.9 1099.2h0M1344.5 1105.7h0M1344.7 1101.5h0M1346.0 1109.9h0M1347.1 1107.7h0M1352.2 1098.6h0M1352.6 1081.3h0M1352.8 1106.3h0M1355.3 1101.1h0M1357.0 1088.5h0M1358.4 1104.2h0M1361.3 1089.6h0M1362.0 1086.3h0M1364.8 1090.0h0M1367.1 1100.3h0M1369.3 1080.4h0M1369.5 1101.0h0M1369.7 1081.2h0M1371.2 1103.8h0M1371.5 1082.8h0M1371.7 1090.5h0M1372.8 1108.2h0M1373.1 1080.8h0M1377.2 1094.0h0M1378.9 1109.5h0M1378.9 1087.6h0M1379.2 1080.1h0M1382.3 1089.2h0M1394.7 1099.2h0M1398.8 1104.3h0M1399.1 1105.0h0M1400.1 1103.6h0M1400.4 1108.3h0M1406.3 1092.7h0M1409.3 1085.5h0M1415.3 1093.4h0M1423.2 1080.5h0M1429.6 1093.9h0M1438.9 1091.5h0M1442.9 1087.6h0M1444.9 1090.2h0M530.0 1110.9h0M538.2 1111.7h0M545.6 1115.3h0M549.1 1110.7h0M558.0 1117.8h0M558.5 1117.3h0M561.0 1118.6h0M570.4 1117.9h0M575.2 1121.5h0M583.2 1111.5h0M585.5 1119.4h0M587.5 1110.8h0M587.7 1111.0h0M588.6 1113.8h0M588.7 1118.6h0M592.6 1113.8h0M592.7 1112.6h0M594.1 1115.6h0M596.5 1111.3h0M668.6 1125.7h0M668.6 1134.3h0M671.8 1126.8h0M671.8 1137.5h0M672.9 1110.7h0M675.0 1132.1h0M677.1 1134.3h0M679.3 1130.0h0M680.4 1118.2h0M681.4 1125.7h0M686.8 1124.6h0M693.9 1137.5h0M708.2 1130.0h0M712.1 1139.6h0M730.7 1134.9h0M1061.0 1110.4h0M1085.2 1111.3h0M1087.9 1119.8h0M1092.8 1113.2h0M1102.2 1110.1h0M1117.2 1134.5h0M1118.4 1122.6h0M1118.9 1137.4h0M1119.4 1112.3h0M1119.4 1129.8h0M1119.6 1123.8h0M1119.8 1111.9h0M1120.1 1126.7h0M1120.9 1137.1h0M1121.7 1128.8h0M1124.6 1118.4h0M1125.0 1138.3h0M1130.1 1129.8h0M1137.7 1115.3h0M1140.7 1138.1h0M1145.4 1112.7h0M1154.8 1138.1h0M1155.1 1115.8h0M1156.5 1125.2h0M1156.6 1131.8h0M1157.2 1119.5h0M1164.9 1115.3h0M1165.8 1117.3h0M1173.4 1115.1h0M1173.4 1120.9h0M1174.5 1131.4h0M1177.2 1135.6h0M1178.4 1114.8h0M1179.3 1133.0h0M1182.4 1112.7h0M1185.2 1129.8h0M1188.3 1117.8h0M1190.3 1132.8h0M1194.0 1122.0h0M1198.2 1111.5h0M1200.1 1121.8h0M1203.4 1113.8h0M1207.3 1110.4h0M1209.4 1113.9h0M1213.5 1118.8h0M1216.5 1116.0h0M1222.1 1128.4h0M1222.9 1110.2h0M1223.2 1139.0h0M1227.0 1134.3h0M1228.0 1113.7h0M1228.9 1116.9h0M1229.6 1138.3h0M1230.6 1127.5h0M1231.2 1131.8h0M1231.3 1117.6h0M1232.3 1138.6h0M1240.1 1124.9h0M1241.0 1112.3h0M1243.1 1116.8h0M1246.9 1138.9h0M1248.4 1124.1h0M1249.5 1120.9h0M1251.6 1132.4h0M1252.4 1110.7h0M1252.7 1138.2h0M1253.5 1131.5h0M1253.8 1131.7h0M1254.6 1139.7h0M1255.8 1122.0h0M1256.2 1128.4h0M1256.4 1120.8h0M1258.7 1113.6h0M1261.0 1117.8h0M1261.2 1129.1h0M1261.4 1119.0h0M1262.1 1129.6h0M1264.4 1129.5h0M1268.4 1136.5h0M1268.7 1139.7h0M1269.9 1116.7h0M1270.1 1127.1h0M1270.3 1131.8h0M1270.4 1123.6h0M1270.7 1123.7h0M1270.8 1124.8h0M1270.9 1135.0h0M1272.9 1127.0h0M1278.2 1132.7h0M1278.5 1119.5h0M1281.9 1118.0h0M1282.7 1123.9h0M1286.2 1126.7h0M1288.3 1138.8h0M1290.2 1127.6h0M1290.2 1130.0h0M1292.6 1121.2h0M1293.0 1130.1h0M1294.6 1115.1h0M1295.1 1131.1h0M1295.2 1113.3h0M1295.7 1111.0h0M1296.4 1114.6h0M1299.6 1125.3h0M1299.7 1130.1h0M1300.3 1111.9h0M1305.4 1115.6h0M1306.1 1128.5h0M1306.5 1112.6h0M1308.1 1134.7h0M1311.9 1123.4h0M1312.1 1139.6h0M1312.8 1125.0h0M1318.0 1118.5h0M1322.8 1120.6h0M1322.8 1122.7h0M1323.7 1132.3h0M1326.3 1120.4h0M1331.7 1124.4h0M1337.6 1119.4h0M1338.3 1124.3h0M1338.5 1114.4h0M1338.9 1113.5h0M1340.7 1118.2h0M1341.9 1114.3h0M1341.9 1139.6h0M1345.2 1136.5h0M1347.8 1124.1h0M1351.4 1123.7h0M1351.4 1127.8h0M1352.2 1116.8h0M1353.9 1124.2h0M1354.1 1130.5h0M1357.8 1134.1h0M1358.6 1119.3h0M1371.3 1122.7h0M1374.1 1127.5h0M1374.3 1120.0h0M1374.4 1129.2h0M1374.9 1124.5h0M1377.0 1118.1h0M1377.9 1128.6h0M1385.9 1116.3h0M1387.3 1123.8h0M1392.1 1116.5h0M1393.6 1110.1h0M1394.5 1123.8h0M1395.1 1111.0h0M1396.2 1125.5h0M1400.5 1116.2h0M1401.5 1115.7h0M676.1 1140.7h0M679.3 1143.9h0M683.1 1156.1h0M687.9 1166.9h0M703.9 1146.1h0M713.6 1168.1h0M716.1 1148.9h0M733.9 1169.0h0M789.6 1169.0h0M1129.2 1146.0h0M1146.0 1163.2h0M1147.5 1161.0h0M1154.4 1155.3h0M1155.5 1164.9h0M1159.2 1144.6h0M1164.0 1157.2h0M1164.7 1163.6h0M1167.4 1165.5h0M1172.3 1143.2h0M1174.1 1154.5h0M1176.7 1164.1h0M1177.7 1155.9h0M1180.0 1150.6h0M1180.3 1168.5h0M1183.9 1144.8h0M1186.9 1140.1h0M1188.1 1165.7h0M1190.7 1166.5h0M1193.3 1146.3h0M1195.6 1144.7h0M1199.7 1159.1h0M1200.7 1149.0h0M1204.5 1154.0h0M1207.8 1151.8h0M1210.5 1151.5h0M1211.2 1165.9h0M1211.4 1163.3h0M1211.4 1162.2h0M1211.9 1154.3h0M1214.1 1162.9h0M1215.9 1150.2h0M1216.2 1140.8h0M1216.3 1141.1h0M1218.9 1148.7h0M1220.9 1151.7h0M1220.9 1159.0h0M1224.7 1168.9h0M1225.4 1154.2h0M1226.8 1149.9h0M1227.0 1151.0h0M1228.1 1167.1h0M1228.5 1150.6h0M1228.8 1155.8h0M1229.0 1152.0h0M1235.5 1144.5h0M1239.5 1169.9h0M1245.7 1149.3h0M1246.3 1159.0h0M1248.1 1160.8h0M1248.6 1164.3h0M1250.5 1162.5h0M1250.8 1152.9h0M1254.7 1154.4h0M1256.7 1141.0h0M1257.6 1166.0h0M1260.8 1148.2h0M1260.9 1154.2h0M1261.8 1148.9h0M1263.5 1167.3h0M1264.4 1158.2h0M1265.0 1144.2h0M1265.5 1164.1h0M1265.8 1141.5h0M1266.0 1141.2h0M1266.2 1154.6h0M1266.3 1147.3h0M1267.2 1163.1h0M1269.2 1161.2h0M1270.2 1142.5h0M1271.8 1158.3h0M1273.7 1153.3h0M1283.1 1146.4h0M1286.0 1148.1h0M1286.5 1167.6h0M1289.6 1169.6h0M1290.4 1158.3h0M1290.5 1146.7h0M1293.0 1160.3h0M1294.3 1157.8h0M1296.4 1141.3h0M1298.2 1142.8h0M1300.0 1158.8h0M1300.5 1158.1h0M1301.4 1161.7h0M1303.2 1154.3h0M1305.9 1164.4h0M1307.3 1169.1h0M1307.7 1156.5h0M1307.9 1164.9h0M1310.7 1145.1h0M1322.8 1166.0h0M1327.4 1143.7h0M1336.6 1159.5h0M1337.7 1152.9h0M1342.5 1151.8h0M1343.7 1150.3h0M1346.3 1142.3h0M1350.3 1160.0h0M1352.5 1157.7h0M1365.4 1140.4h0M1371.3 1141.1h0M690.0 1177.1h0M694.3 1177.1h0M694.3 1196.4h0M696.4 1194.3h0M698.6 1190.0h0M702.9 1196.4h0M703.3 1173.9h0M717.9 1199.6h0M723.9 1190.0h0M726.0 1182.5h0M726.4 1185.7h0M729.2 1198.6h0M732.9 1176.1h0M743.1 1196.4h0M757.5 1193.2h0M759.0 1178.2h0M765.0 1173.9h0M768.9 1183.6h0M1170.5 1171.3h0M1183.1 1185.2h0M1185.9 1171.6h0M1194.0 1172.0h0M1197.2 1176.1h0M1199.0 1184.8h0M1199.1 1174.7h0M1199.4 1173.6h0M1200.6 1176.7h0M1200.9 1177.7h0M1201.7 1183.6h0M1201.7 1176.8h0M1205.2 1189.9h0M1205.4 1183.1h0M1206.5 1188.4h0M1207.0 1179.7h0M1209.2 1180.1h0M1214.5 1177.4h0M1215.9 1180.3h0M1219.3 1175.2h0M1220.9 1175.8h0M1222.6 1188.0h0M1230.4 1180.5h0M1238.3 1174.3h0M1242.8 1176.1h0M1244.3 1172.2h0M1253.8 1182.1h0M1255.3 1175.0h0M1255.5 1184.0h0M1257.1 1187.6h0M1261.1 1186.1h0M1268.2 1171.9h0M1268.6 1187.8h0M1269.6 1184.1h0M1269.8 1182.6h0M1270.9 1170.0h0M1271.6 1172.8h0M1282.7 1181.6h0M1284.5 1173.4h0M1286.4 1179.3h0M1289.7 1180.7h0M1299.6 1171.9h0M1301.8 1176.9h0M1305.4 1171.0h0M1319.3 1170.7h0M699.6 1213.6h0M705.0 1209.3h0M709.3 1213.6h0M711.4 1202.9h0M713.6 1207.1h0M715.7 1216.8h0M718.9 1211.4h0M721.1 1205.0h0M743.6 1203.5h0" stroke="#000004"/>
<path d="M1074.3 251.0h0M1167.4 267.5h0M1168.6 255.9h0M1017.3 272.9h0M1044.4 290.2h0M1072.4 272.2h0M1149.4 286.5h0M1155.6 274.1h0M1171.7 270.7h0M1172.1 296.1h0M1613.6 290.0h0M1645.7 288.9h0M1056.0 307.1h0M1145.8 303.6h0M1148.0 326.1h0M1161.3 306.0h0M1632.9 324.3h0M1634.4 308.2h0M1642.5 328.6h0M1654.3 329.6h0M1655.4 318.3h0M1011.5 359.9h0M1025.2 342.6h0M1060.1 332.9h0M1110.5 346.3h0M1521.4 347.4h0M1576.1 353.2h0M1583.6 330.1h0M1656.4 338.2h0M1667.1 344.6h0M1671.4 335.0h0M1676.8 357.5h0M1678.9 333.9h0M1122.3 367.8h0M1199.6 365.6h0M1598.6 362.9h0M1652.1 383.2h0M1673.6 380.6h0M1685.4 368.2h0M997.5 395.0h0M1033.9 391.5h0M1064.6 406.0h0M1110.7 398.0h0M1121.4 406.9h0M1340.9 404.7h0M1641.0 411.1h0M1131.8 447.6h0M1264.4 429.5h0M1272.6 447.8h0M1368.4 448.0h0M943.4 473.6h0M943.9 479.2h0M970.0 450.2h0M1038.5 472.7h0M1085.2 475.0h0M1131.8 479.9h0M1271.6 476.1h0M1291.7 468.8h0M1292.8 471.0h0M1304.4 455.3h0M1353.5 454.1h0M1361.4 473.9h0M1383.2 458.3h0M1406.7 458.3h0M1426.7 472.5h0M1430.8 459.7h0M1436.9 470.5h0M1443.8 470.4h0M1465.2 478.9h0M1603.3 467.9h0M890.4 500.1h0M971.8 493.5h0M1077.4 487.2h0M1082.4 482.1h0M1118.2 485.4h0M1251.8 500.8h0M1266.7 502.4h0M1351.6 483.6h0M1355.2 504.8h0M1364.4 505.0h0M1389.9 496.8h0M1406.7 489.4h0M1435.9 502.3h0M1453.9 501.9h0M1461.3 487.6h0M813.8 532.3h0M824.8 530.9h0M877.7 520.1h0M895.7 510.3h0M904.2 537.9h0M1061.9 513.3h0M1087.2 538.1h0M1090.8 532.7h0M1099.1 521.2h0M1123.6 511.3h0M1164.7 536.1h0M1289.4 513.2h0M1334.3 523.4h0M1377.2 522.1h0M1384.2 535.4h0M1392.0 526.7h0M1393.0 538.3h0M1405.0 533.7h0M1419.9 519.6h0M1440.0 537.2h0M1447.4 535.5h0M1447.9 510.7h0M1449.4 528.8h0M1458.2 521.0h0M1463.7 533.7h0M1469.5 528.4h0M1474.2 537.9h0M1487.4 511.1h0M1497.0 514.1h0M1524.7 539.0h0M1539.2 535.4h0M806.5 548.1h0M810.7 554.6h0M817.6 547.8h0M934.5 560.2h0M1005.9 567.7h0M1016.6 564.2h0M1036.2 549.8h0M1072.0 564.8h0M1072.4 548.8h0M1072.8 565.7h0M1076.0 562.4h0M1084.7 565.9h0M1085.1 542.8h0M1087.3 553.9h0M1098.5 554.5h0M1123.8 560.4h0M1147.4 551.5h0M1156.2 566.7h0M1163.4 559.8h0M1169.3 544.7h0M1179.6 549.6h0M1193.8 561.3h0M1196.7 549.6h0M1278.1 565.7h0M1290.1 569.8h0M1293.3 569.7h0M1303.1 553.1h0M1318.6 553.9h0M1330.9 566.9h0M1343.0 540.0h0M1347.0 569.2h0M1350.6 547.9h0M1357.6 569.6h0M1362.9 568.0h0M1385.9 559.6h0M1404.3 548.3h0M1412.9 555.2h0M1417.9 551.4h0M1430.2 556.6h0M1455.1 560.3h0M1463.5 544.7h0M1465.5 563.9h0M1480.9 543.2h0M1481.2 558.2h0M1484.8 551.7h0M1485.1 559.1h0M1498.5 552.8h0M1498.7 557.4h0M1518.4 561.7h0M1522.1 564.5h0M1522.9 561.4h0M1535.6 541.7h0M1544.6 561.4h0M1555.7 555.3h0M816.8 578.1h0M835.2 589.9h0M840.8 575.5h0M848.5 573.6h0M974.3 584.4h0M982.1 580.4h0M984.1 570.2h0M985.3 579.1h0M985.4 583.1h0M1033.0 584.7h0M1036.2 575.9h0M1038.1 571.3h0M1057.9 591.2h0M1060.8 595.8h0M1083.6 574.5h0M1103.2 578.4h0M1110.3 586.2h0M1119.0 575.4h0M1119.6 582.6h0M1127.4 585.6h0M1145.5 582.7h0M1148.0 578.7h0M1197.2 594.4h0M1275.3 574.2h0M1324.1 570.8h0M1327.9 599.0h0M1337.6 599.1h0M1351.7 587.8h0M1373.8 581.7h0M1394.9 598.7h0M1395.1 593.5h0M1402.6 596.7h0M1408.7 583.1h0M1418.1 595.6h0M1418.2 576.5h0M1421.0 571.0h0M1423.8 580.4h0M1429.5 588.2h0M1442.9 592.5h0M1452.7 593.3h0M1458.6 600.0h0M1458.7 595.3h0M1460.3 570.8h0M1463.6 593.4h0M1478.2 594.7h0M1483.1 574.7h0M1485.0 577.5h0M1501.8 590.2h0M1523.0 582.6h0M1526.7 579.9h0M1528.2 596.5h0M1530.5 587.2h0M1536.3 581.2h0M1537.0 581.4h0M1540.4 597.1h0M1556.8 584.5h0M800.7 618.4h0M872.2 613.0h0M946.2 621.6h0M969.9 607.1h0M1006.5 611.2h0M1007.6 612.8h0M1009.6 609.4h0M1013.6 622.3h0M1024.6 619.5h0M1025.6 626.7h0M1034.4 626.1h0M1041.6 616.3h0M1098.4 601.6h0M1099.9 617.5h0M1111.0 620.0h0M1115.5 601.7h0M1118.6 614.5h0M1140.6 628.8h0M1161.5 619.5h0M1161.8 600.1h0M1212.9 621.0h0M1250.2 610.3h0M1260.2 606.3h0M1303.3 618.7h0M1340.8 615.7h0M1356.7 625.2h0M1367.6 621.5h0M1372.8 626.0h0M1373.8 623.5h0M1375.3 616.4h0M1381.4 606.5h0M1383.3 626.6h0M1398.3 626.5h0M1401.5 621.7h0M1413.3 606.1h0M1424.0 603.4h0M1435.0 607.7h0M1441.9 612.7h0M1446.1 609.0h0M1453.1 611.3h0M1460.2 627.8h0M1463.6 608.6h0M1465.5 622.3h0M1489.1 615.5h0M1495.0 614.4h0M1496.1 614.4h0M1499.5 610.2h0M1502.0 625.2h0M1507.8 613.7h0M1510.4 611.4h0M1518.6 616.3h0M1529.3 626.9h0M1533.3 623.7h0M1534.9 601.9h0M834.6 654.8h0M911.9 639.5h0M913.0 639.5h0M920.6 655.3h0M959.0 633.7h0M963.4 656.6h0M966.5 631.3h0M971.9 636.6h0M972.8 653.7h0M1043.6 649.5h0M1097.2 647.6h0M1098.3 639.9h0M1110.3 647.4h0M1112.3 641.5h0M1124.4 659.8h0M1134.3 647.2h0M1141.4 659.9h0M1153.3 635.2h0M1154.4 631.6h0M1154.6 630.7h0M1157.9 648.1h0M1162.0 644.8h0M1172.5 650.4h0M1179.9 654.6h0M1185.2 657.1h0M1224.1 643.3h0M1272.1 647.1h0M1346.9 649.9h0M1352.3 643.2h0M1385.7 654.5h0M1400.2 630.6h0M1404.5 631.5h0M1421.3 657.6h0M1430.1 639.8h0M1430.7 646.7h0M1441.8 635.4h0M1445.2 654.1h0M1457.7 646.7h0M1478.1 634.8h0M1487.1 635.9h0M1488.4 656.6h0M1493.6 633.7h0M1513.4 634.7h0M1535.8 641.0h0M1549.6 646.4h0M1551.3 631.4h0M856.9 667.3h0M867.8 685.9h0M926.3 667.5h0M939.2 674.9h0M961.0 686.3h0M978.1 665.0h0M1001.9 681.8h0M1018.4 672.2h0M1072.1 687.7h0M1087.3 682.6h0M1093.6 660.5h0M1096.0 662.7h0M1122.3 660.2h0M1145.2 670.9h0M1147.8 663.0h0M1148.5 665.4h0M1158.5 680.8h0M1171.5 670.2h0M1174.5 682.3h0M1191.1 689.8h0M1198.6 676.3h0M1201.7 665.9h0M1244.4 677.2h0M1275.9 669.5h0M1333.9 679.2h0M1338.4 662.5h0M1350.1 676.9h0M1362.7 665.7h0M1373.6 675.2h0M1382.7 661.3h0M1403.2 688.6h0M1406.1 688.0h0M1435.8 669.0h0M1438.6 664.8h0M1450.7 676.5h0M1477.0 668.5h0M1479.1 665.1h0M1494.4 660.5h0M1499.8 666.6h0M1526.7 674.7h0M1545.3 689.3h0M638.0 705.8h0M657.7 699.1h0M751.6 714.4h0M752.0 703.8h0M777.4 691.5h0M885.4 707.2h0M938.8 707.3h0M939.9 709.4h0M940.6 712.3h0M969.4 707.6h0M972.9 716.1h0M974.1 694.5h0M1009.1 700.5h0M1009.6 717.4h0M1019.9 715.7h0M1038.1 706.2h0M1046.6 697.6h0M1067.3 692.1h0M1069.5 717.8h0M1079.5 708.2h0M1098.6 697.3h0M1103.6 709.5h0M1115.6 690.2h0M1118.1 705.7h0M1119.2 709.4h0M1121.3 707.6h0M1129.5 708.6h0M1141.5 699.7h0M1146.9 695.7h0M1147.1 693.0h0M1149.7 704.5h0M1192.4 704.4h0M1193.0 700.2h0M1197.1 691.9h0M1197.4 705.8h0M1270.8 715.8h0M1312.7 715.4h0M1378.5 697.9h0M1409.6 691.2h0M1420.8 704.3h0M1426.8 701.5h0M1431.6 694.1h0M1460.2 717.8h0M1479.4 719.0h0M1488.8 705.0h0M1520.8 699.8h0M655.0 741.7h0M676.4 736.4h0M685.5 741.1h0M685.7 737.2h0M692.4 742.0h0M694.8 730.4h0M697.9 748.7h0M772.9 749.8h0M953.4 745.7h0M972.9 727.6h0M997.7 728.8h0M1035.7 735.2h0M1066.1 730.0h0M1072.7 739.1h0M1078.5 730.0h0M1101.7 747.3h0M1105.6 743.5h0M1118.0 733.0h0M1131.0 746.5h0M1131.5 730.0h0M1144.5 744.7h0M1146.2 745.7h0M1188.4 721.3h0M1195.4 720.7h0M1212.0 747.7h0M1413.4 730.6h0M1432.1 723.7h0M1468.3 725.8h0M1475.2 724.3h0M1510.5 745.3h0M554.6 763.5h0M571.7 762.8h0M595.4 764.4h0M618.5 750.8h0M626.7 760.2h0M656.4 772.6h0M664.2 757.3h0M684.2 756.8h0M688.3 759.5h0M695.4 774.4h0M712.4 773.2h0M753.0 750.2h0M812.2 755.8h0M816.3 771.2h0M876.0 779.9h0M893.6 774.1h0M904.9 778.5h0M912.3 772.4h0M927.0 750.4h0M1049.4 759.2h0M1049.5 771.5h0M1072.4 766.4h0M1099.5 775.8h0M1103.3 773.4h0M1104.9 763.4h0M1111.6 774.7h0M1120.0 774.4h0M1135.9 766.6h0M1136.5 772.8h0M1164.6 756.0h0M1183.1 750.3h0M1190.0 755.4h0M1236.3 763.5h0M1237.0 761.7h0M1252.4 750.2h0M1359.2 769.8h0M1379.8 775.3h0M1506.5 779.5h0M1528.0 769.1h0M469.8 807.8h0M556.7 806.9h0M559.3 808.1h0M597.9 800.5h0M625.6 797.5h0M627.1 808.7h0M644.0 796.4h0M646.0 805.6h0M675.6 807.5h0M690.4 791.8h0M690.9 803.7h0M706.2 791.9h0M715.4 800.1h0M718.7 799.0h0M756.4 804.5h0M768.8 794.9h0M772.7 805.9h0M866.0 791.0h0M1005.7 783.6h0M1027.2 798.5h0M1032.4 788.5h0M1041.5 797.1h0M1053.1 787.9h0M1058.7 797.4h0M1080.9 783.6h0M1080.9 782.2h0M1095.4 807.1h0M1096.6 801.5h0M1103.0 780.5h0M1112.3 794.2h0M1117.2 790.0h0M1117.3 809.6h0M1117.5 790.5h0M1126.1 798.0h0M1138.1 788.5h0M1142.3 790.2h0M1153.2 802.3h0M1168.3 791.4h0M1182.5 781.3h0M1202.0 799.3h0M1212.7 787.6h0M1218.5 782.4h0M1347.7 786.4h0M1371.5 786.9h0M1399.7 797.9h0M1590.1 794.9h0M1635.1 783.8h0M462.4 823.5h0M463.3 813.5h0M520.3 811.6h0M556.8 814.3h0M584.1 832.5h0M623.2 832.0h0M653.4 819.4h0M654.9 818.3h0M655.5 812.4h0M665.1 838.6h0M676.5 839.4h0M697.9 830.4h0M722.2 826.3h0M727.5 828.3h0M728.5 819.8h0M753.4 831.9h0M840.9 817.8h0M843.9 828.8h0M847.9 837.7h0M1011.5 828.7h0M1068.5 813.7h0M1084.3 817.6h0M1089.3 813.9h0M1122.1 831.4h0M1180.6 829.9h0M1207.2 839.4h0M1227.7 828.0h0M1235.5 833.1h0M1271.8 811.4h0M1306.1 832.5h0M1321.8 828.7h0M1355.2 829.5h0M1463.1 818.9h0M1507.2 827.5h0M1533.7 831.5h0M1553.1 832.1h0M1574.1 812.2h0M1580.0 825.1h0M450.1 848.3h0M459.3 852.9h0M500.3 851.3h0M501.3 852.6h0M510.1 861.9h0M526.6 861.6h0M533.8 860.4h0M547.0 855.5h0M549.3 861.3h0M561.9 868.4h0M586.1 868.2h0M596.4 857.9h0M601.3 866.1h0M617.3 849.0h0M618.2 852.2h0M620.0 866.4h0M620.8 864.0h0M623.9 859.8h0M633.8 850.1h0M639.5 850.0h0M650.3 870.0h0M665.6 867.4h0M673.1 846.6h0M686.8 860.4h0M689.6 840.3h0M692.9 841.5h0M699.6 869.6h0M707.2 858.3h0M713.0 847.1h0M715.1 858.6h0M717.3 841.3h0M736.5 845.2h0M738.5 858.0h0M744.8 858.3h0M746.2 841.6h0M752.5 860.1h0M755.9 868.5h0M757.5 866.3h0M761.8 859.7h0M794.4 849.0h0M846.7 858.4h0M853.3 862.4h0M913.0 851.9h0M917.6 852.7h0M965.2 866.4h0M985.5 852.3h0M1067.7 859.2h0M1091.4 845.9h0M1095.3 854.8h0M1109.5 853.0h0M1115.5 848.3h0M1133.4 850.9h0M1141.3 850.5h0M1149.4 847.2h0M1223.2 862.3h0M1233.0 867.8h0M1320.1 843.1h0M1330.1 845.4h0M1339.7 862.1h0M1374.4 840.3h0M1381.9 860.9h0M1387.4 845.8h0M1431.9 840.8h0M1453.5 860.4h0M1520.0 856.3h0M1528.6 860.0h0M1554.7 851.6h0M485.3 874.8h0M525.4 890.1h0M528.9 898.5h0M538.0 894.4h0M584.9 893.6h0M594.7 888.3h0M621.5 896.7h0M621.5 893.0h0M637.5 879.0h0M650.6 890.8h0M675.5 874.4h0M695.7 871.6h0M711.3 876.2h0M711.7 896.1h0M712.1 886.3h0M723.6 877.4h0M729.9 881.3h0M751.2 878.7h0M763.0 881.1h0M763.7 889.2h0M769.7 888.8h0M802.1 888.6h0M829.7 876.8h0M874.4 890.6h0M885.3 889.7h0M999.4 897.5h0M1004.7 880.1h0M1044.3 885.8h0M1045.8 887.8h0M1068.1 892.4h0M1118.2 897.8h0M1148.0 871.5h0M1150.8 883.3h0M1162.5 878.0h0M1164.7 887.4h0M1183.5 882.3h0M1189.4 890.4h0M1203.4 877.8h0M1229.1 898.5h0M1318.0 881.3h0M1325.6 885.8h0M1404.9 873.0h0M1535.3 874.8h0M1608.9 891.1h0M448.9 923.7h0M449.2 911.7h0M449.8 910.3h0M453.8 909.0h0M475.1 900.4h0M490.7 911.8h0M505.8 909.0h0M508.8 914.5h0M511.3 915.3h0M528.5 914.0h0M563.1 913.4h0M576.5 905.1h0M581.2 914.1h0M594.3 908.4h0M619.5 900.3h0M632.5 908.7h0M635.9 928.6h0M663.9 922.3h0M664.2 902.1h0M671.1 922.3h0M672.2 927.9h0M674.3 923.0h0M677.0 902.9h0M707.7 924.1h0M717.6 910.2h0M721.0 928.1h0M730.6 908.0h0M762.4 929.0h0M764.4 927.1h0M769.8 902.4h0M771.1 921.7h0M774.6 927.2h0M789.3 914.1h0M796.0 926.9h0M809.3 914.7h0M812.0 906.8h0M825.0 908.1h0M925.5 901.4h0M1024.5 919.7h0M1051.9 924.0h0M1059.5 920.1h0M1076.9 905.8h0M1084.6 919.7h0M1087.7 900.1h0M1089.8 925.8h0M1119.8 922.8h0M1130.6 906.7h0M1190.5 910.6h0M1193.4 929.1h0M1194.9 917.1h0M1204.7 909.6h0M1245.1 915.3h0M1248.4 923.8h0M1250.2 928.3h0M1271.2 908.6h0M1351.3 910.9h0M1365.5 924.8h0M1390.4 926.5h0M1404.7 921.5h0M1453.9 918.5h0M1464.9 901.0h0M436.9 946.7h0M437.3 938.9h0M461.8 930.3h0M476.6 953.2h0M509.3 955.5h0M529.7 938.2h0M540.1 958.1h0M542.0 946.1h0M559.6 936.2h0M561.9 946.9h0M575.0 938.3h0M576.3 956.9h0M580.1 933.5h0M598.3 945.0h0M601.4 931.3h0M603.9 935.7h0M608.7 942.1h0M617.9 945.5h0M633.8 958.4h0M637.7 933.2h0M648.7 944.1h0M684.8 959.6h0M689.1 956.3h0M690.2 950.7h0M690.3 951.8h0M692.1 931.4h0M700.9 935.0h0M706.2 935.0h0M727.7 938.7h0M852.4 946.4h0M939.8 948.6h0M954.1 940.3h0M1039.3 940.2h0M1045.6 940.0h0M1052.0 947.6h0M1067.2 930.3h0M1067.6 956.7h0M1107.5 949.5h0M1111.1 954.5h0M1143.2 934.0h0M1171.4 939.6h0M1174.0 938.9h0M1189.0 930.9h0M1209.0 942.8h0M1211.7 935.0h0M1226.9 933.3h0M1251.8 930.2h0M1264.2 955.6h0M1279.4 942.7h0M1291.1 934.9h0M1312.6 954.3h0M1418.3 957.7h0M1420.8 946.1h0M1458.9 941.6h0M1465.9 948.2h0M1595.5 956.6h0M437.6 988.0h0M489.0 979.0h0M493.4 978.1h0M517.9 988.9h0M525.4 972.1h0M527.3 968.5h0M538.8 975.1h0M542.1 983.1h0M556.9 982.3h0M575.4 967.7h0M598.8 974.2h0M604.2 968.1h0M604.8 978.2h0M622.2 985.2h0M625.8 973.9h0M628.8 978.9h0M636.7 987.6h0M641.5 976.8h0M647.5 981.3h0M649.5 970.5h0M669.3 966.2h0M673.6 976.0h0M673.9 981.1h0M676.1 973.1h0M682.4 970.3h0M718.4 964.5h0M763.7 972.8h0M779.3 963.2h0M808.8 984.8h0M814.7 971.6h0M865.3 989.0h0M918.8 985.9h0M1112.1 968.4h0M1140.6 975.0h0M1143.8 977.9h0M1144.7 975.2h0M1204.2 974.5h0M1215.2 981.3h0M1261.8 983.5h0M1272.8 967.9h0M1293.5 968.1h0M1309.8 968.7h0M1325.4 983.8h0M1343.0 971.1h0M1386.9 972.7h0M1460.4 973.8h0M1526.1 988.3h0M1583.1 969.9h0M425.8 992.0h0M453.9 1011.1h0M479.2 1002.4h0M491.4 996.6h0M497.4 1019.4h0M501.2 1013.8h0M527.0 1002.2h0M531.1 997.3h0M561.1 997.5h0M595.0 1010.6h0M608.0 1019.9h0M615.3 1001.5h0M633.0 1005.0h0M636.1 995.6h0M672.2 1006.8h0M681.5 1015.3h0M688.2 994.9h0M696.9 1007.3h0M701.5 1017.1h0M702.7 1004.3h0M722.6 991.8h0M770.1 1015.6h0M774.2 996.5h0M788.9 1004.2h0M814.0 1012.3h0M814.8 1006.7h0M826.2 1013.8h0M835.3 996.2h0M839.8 1012.2h0M870.4 1013.3h0M915.4 1005.7h0M1003.8 1017.7h0M1082.6 1013.0h0M1090.7 1017.0h0M1105.4 997.3h0M1114.9 1002.6h0M1124.6 996.3h0M1160.1 1016.1h0M1161.5 1001.8h0M1164.4 994.0h0M1185.1 1005.4h0M1186.1 1007.1h0M1210.7 1010.5h0M1240.6 1019.1h0M1247.6 1004.4h0M1373.3 1011.0h0M1432.2 1003.8h0M1479.6 1002.1h0M460.6 1033.9h0M470.5 1043.7h0M475.3 1033.6h0M485.8 1041.9h0M489.4 1027.0h0M506.0 1033.9h0M521.0 1030.9h0M525.7 1048.8h0M539.1 1033.8h0M549.4 1035.7h0M588.1 1029.9h0M612.5 1032.8h0M621.3 1035.9h0M638.2 1028.4h0M644.5 1036.5h0M645.4 1048.5h0M646.4 1029.6h0M671.5 1039.9h0M827.3 1033.8h0M877.5 1039.7h0M1032.3 1043.6h0M1127.3 1023.2h0M1130.0 1026.5h0M1135.7 1021.5h0M1157.6 1025.0h0M1165.7 1037.5h0M1229.5 1034.0h0M1256.7 1032.3h0M1269.9 1025.0h0M1382.5 1040.2h0M1469.7 1026.8h0M498.1 1058.7h0M499.2 1056.2h0M538.7 1076.0h0M564.7 1070.5h0M564.8 1055.4h0M579.9 1070.1h0M605.4 1064.4h0M605.8 1066.8h0M785.7 1062.6h0M823.8 1065.3h0M833.6 1060.0h0M836.8 1056.0h0M861.0 1063.6h0M862.3 1053.1h0M891.1 1054.6h0M904.0 1064.1h0M966.5 1050.0h0M987.8 1056.7h0M1060.1 1051.6h0M1062.4 1074.8h0M1089.7 1056.3h0M1114.0 1050.5h0M1134.2 1076.4h0M1136.9 1078.9h0M1162.4 1051.2h0M1201.8 1050.1h0M1238.4 1066.8h0M1283.1 1066.5h0M1285.2 1070.4h0M1376.2 1066.5h0M1391.7 1066.7h0M1536.0 1057.0h0M507.3 1088.1h0M512.5 1088.7h0M535.7 1107.9h0M546.4 1099.8h0M555.0 1103.4h0M563.2 1089.1h0M673.9 1102.1h0M706.1 1088.6h0M706.6 1089.3h0M706.7 1082.1h0M1008.3 1092.7h0M1011.3 1106.7h0M1023.5 1104.8h0M1040.7 1107.4h0M1147.0 1084.0h0M1189.0 1103.0h0M1402.5 1086.0h0M1407.1 1084.5h0M537.4 1117.6h0M561.1 1111.6h0M675.0 1121.4h0M682.5 1138.6h0M1084.7 1113.3h0M1114.2 1135.2h0M1120.2 1117.5h0M1174.7 1130.7h0M1253.6 1129.9h0M1304.4 1111.1h0M1328.3 1123.1h0M1351.5 1121.9h0M688.5 1162.1h0M699.0 1162.1h0M715.7 1162.1h0M737.4 1162.8h0M1224.0 1154.3h0M1226.2 1160.8h0M1268.0 1157.3h0M1282.2 1161.5h0M1295.8 1155.9h0M1316.0 1141.4h0M1336.0 1150.8h0M704.6 1187.4h0M709.3 1193.2h0M756.9 1187.2h0M775.3 1181.4h0M786.9 1171.8h0M1186.4 1180.1h0M1241.1 1171.0h0M700.7 1201.8h0M724.3 1212.1h0" stroke="#721F81"/>
<path d="M1071.7 282.0h0M1650.0 329.6h0M1697.1 329.6h0M1048.0 338.8h0M1665.0 358.6h0M1672.1 344.6h0M1683.2 351.7h0M1665.0 368.2h0M1072.1 508.7h0M1131.7 497.4h0M1451.5 490.9h0M895.0 511.6h0M910.5 511.8h0M988.9 516.0h0M1064.1 512.3h0M1069.8 521.7h0M1108.9 523.3h0M1125.0 510.2h0M822.9 543.3h0M1036.6 561.7h0M1077.9 562.2h0M1190.4 556.4h0M1377.1 557.9h0M1431.0 569.1h0M1439.0 547.0h0M1528.0 547.4h0M816.0 572.5h0M831.6 583.9h0M886.1 577.9h0M901.9 598.4h0M905.5 599.7h0M943.8 594.4h0M956.6 574.2h0M973.7 594.1h0M997.1 576.0h0M1091.2 575.4h0M1197.2 595.8h0M1233.7 576.7h0M1361.2 598.2h0M1366.2 579.4h0M1384.8 592.5h0M1519.5 586.3h0M799.0 619.4h0M830.7 624.9h0M899.6 608.4h0M1028.5 618.4h0M1051.4 602.3h0M1075.3 629.9h0M1137.8 621.5h0M1152.8 612.7h0M1172.0 614.9h0M1424.8 607.4h0M1477.0 628.1h0M1491.3 606.2h0M1524.9 622.1h0M1554.8 617.2h0M938.0 633.5h0M974.1 656.4h0M984.6 635.4h0M1096.8 653.9h0M1128.0 654.9h0M1133.1 650.3h0M1152.6 631.3h0M1193.4 630.6h0M1216.9 654.7h0M1518.0 651.0h0M922.4 677.3h0M941.0 669.1h0M965.0 661.1h0M994.5 672.6h0M1074.1 685.8h0M1087.3 681.7h0M1116.3 689.9h0M1208.2 686.6h0M1235.3 684.4h0M1384.3 678.2h0M1443.0 674.1h0M1492.1 660.1h0M1532.5 680.6h0M1568.8 671.6h0M868.3 706.4h0M934.2 693.4h0M943.3 712.1h0M977.9 692.9h0M1049.9 692.3h0M1082.3 702.7h0M1127.4 708.5h0M1137.7 693.6h0M1159.7 717.2h0M1175.7 713.5h0M711.8 731.2h0M719.9 746.6h0M978.7 730.2h0M1123.1 726.5h0M1149.7 741.4h0M1162.8 734.6h0M1168.1 724.9h0M1172.8 745.0h0M1221.6 731.7h0M1456.1 741.2h0M617.1 763.3h0M630.4 762.6h0M640.7 752.2h0M644.3 778.2h0M658.2 769.9h0M701.1 756.0h0M734.1 774.2h0M773.8 765.0h0M1073.0 771.4h0M1073.8 771.8h0M1126.2 750.7h0M1158.3 777.5h0M1218.0 759.3h0M1495.2 762.7h0M583.6 807.9h0M590.0 799.5h0M600.9 789.1h0M680.9 802.1h0M699.0 804.8h0M717.1 803.7h0M736.1 786.7h0M801.2 781.0h0M899.6 807.1h0M933.6 786.5h0M941.2 791.0h0M1137.0 790.1h0M1170.1 802.1h0M1451.4 806.0h0M1523.1 803.1h0M508.7 832.6h0M549.3 819.1h0M627.5 813.5h0M647.9 811.7h0M651.4 810.3h0M667.4 839.1h0M677.6 825.7h0M710.6 823.9h0M725.8 828.5h0M745.3 822.9h0M769.0 810.8h0M1093.7 818.5h0M1094.3 811.1h0M1122.0 838.8h0M1183.5 834.7h0M1218.0 837.3h0M1271.7 833.7h0M1292.3 813.7h0M1292.3 825.9h0M1524.3 813.6h0M653.9 855.0h0M694.1 846.4h0M700.3 865.8h0M784.1 848.0h0M822.3 850.8h0M876.7 862.6h0M1095.5 848.5h0M1146.2 843.8h0M1184.7 844.3h0M1420.7 851.1h0M537.1 873.2h0M552.4 883.5h0M567.7 879.9h0M607.8 873.5h0M633.8 895.3h0M651.9 894.1h0M660.7 886.1h0M707.3 876.9h0M765.3 892.3h0M907.1 890.2h0M952.8 872.5h0M1046.2 875.1h0M1278.8 871.2h0M484.4 921.8h0M490.5 901.0h0M576.6 911.5h0M577.8 924.8h0M579.4 909.7h0M579.5 928.1h0M620.3 924.8h0M625.0 908.4h0M732.8 929.4h0M808.5 917.3h0M1077.0 920.9h0M1129.4 904.1h0M1158.3 901.6h0M1197.4 912.4h0M1238.6 910.8h0M1448.5 901.7h0M480.8 943.4h0M515.5 956.9h0M556.4 930.2h0M606.9 932.5h0M701.2 957.2h0M720.6 937.3h0M727.5 937.4h0M984.2 938.3h0M1129.2 936.0h0M1284.8 933.6h0M1350.8 952.2h0M636.5 972.5h0M660.5 989.1h0M717.1 962.8h0M738.4 987.8h0M754.5 977.1h0M837.4 975.3h0M875.5 979.6h0M968.3 979.5h0M1088.7 987.3h0M1097.2 969.8h0M1235.6 967.2h0M1353.3 985.0h0M457.2 1006.4h0M477.8 998.7h0M569.7 1017.9h0M576.8 1016.3h0M608.4 997.4h0M801.8 991.0h0M1111.2 1000.7h0M1121.9 993.4h0M1246.1 1012.1h0M800.1 1041.8h0M855.7 1043.6h0M1404.5 1022.0h0M604.5 1063.9h0M995.8 1066.8h0M1124.5 1057.6h0M1152.9 1071.8h0M621.5 1094.0h0M687.9 1145.0h0M698.1 1152.1h0M721.5 1151.0h0M785.4 1166.9h0M1153.9 1160.0h0M730.3 1181.0h0M707.6 1201.1h0" stroke="#C43C75"/>
<path d="M960.0 501.2h0M1043.3 509.8h0M1117.5 498.6h0M1122.1 503.2h0M1157.8 500.0h0M1313.2 485.1h0M1015.7 537.0h0M810.7 549.1h0M829.6 562.3h0M836.7 540.0h0M1092.0 564.5h0M1097.5 547.6h0M1110.3 564.6h0M1127.7 543.6h0M968.8 578.6h0M1003.9 584.9h0M1100.6 571.2h0M1148.6 600.0h0M810.6 626.9h0M910.5 604.8h0M1005.3 613.4h0M1080.7 622.5h0M1199.3 622.8h0M890.2 637.1h0M939.8 653.9h0M999.5 633.3h0M999.8 635.9h0M1048.1 637.8h0M919.6 669.8h0M934.8 677.6h0M1130.0 668.0h0M1166.8 674.9h0M1408.8 662.7h0M758.4 718.8h0M1150.1 715.3h0M1159.3 717.8h0M664.9 740.5h0M735.4 730.5h0M1001.5 731.2h0M1118.2 736.8h0M1142.6 746.1h0M1151.4 740.5h0M1195.6 731.9h0M615.8 759.9h0M923.9 761.6h0M1180.7 755.4h0M644.6 792.5h0M649.2 780.9h0M652.0 809.7h0M667.4 804.0h0M667.5 781.0h0M689.3 805.9h0M718.7 803.7h0M863.9 792.5h0M1117.4 795.0h0M1176.1 808.2h0M1207.0 794.6h0M1357.1 795.4h0M498.6 813.8h0M658.3 828.1h0M920.8 823.8h0M1043.6 815.5h0M1148.1 836.8h0M473.9 849.3h0M632.7 862.8h0M781.3 861.1h0M568.2 893.8h0M630.7 892.8h0M636.9 889.1h0M681.5 881.5h0M730.7 889.9h0M1209.6 890.5h0M466.7 925.6h0M738.0 904.2h0M748.5 908.5h0M909.3 914.5h0M1376.7 907.4h0M466.4 956.5h0M546.7 941.2h0M601.0 944.9h0M759.2 931.8h0M759.9 930.1h0M761.1 933.8h0M1163.5 975.9h0M477.7 1013.9h0M580.4 993.3h0M688.7 1002.3h0M466.6 1038.7h0M677.4 1034.4h0M694.4 1060.1h0M870.0 1052.2h0M526.5 1093.7h0M648.6 1080.7h0M690.0 1149.7h0" stroke="#F1605D"/>
<path d="M1067.9 264.4h0M1121.9 530.6h0M1180.4 525.4h0M995.7 589.7h0M1076.2 582.5h0M1094.6 621.9h0M821.6 642.6h0M1108.5 659.2h0M1211.1 654.3h0M1036.4 688.7h0M1140.3 684.1h0M1113.2 702.8h0M1144.7 719.7h0M966.8 731.8h0M1113.0 747.9h0M1152.2 743.6h0M1162.7 737.0h0M1072.3 770.1h0M629.6 797.2h0M719.9 788.8h0M922.7 803.0h0M965.7 792.0h0M1064.7 781.0h0M1116.6 794.0h0M1138.7 793.7h0M647.7 812.3h0M1003.8 818.5h0M669.4 852.6h0M703.4 853.1h0M1176.5 868.1h0M708.5 891.3h0M744.5 904.8h0M838.5 908.8h0M1029.2 929.4h0M597.8 937.6h0M631.0 945.4h0M1028.2 935.9h0M577.8 970.8h0M1087.1 962.5h0M618.9 1017.4h0M815.6 1001.0h0M1120.0 1012.1h0M514.7 1047.7h0M700.1 1099.6h0" stroke="#FD9567"/>
<path d="M1438.0 493.5h0M1158.9 550.8h0M1094.2 614.6h0M879.4 644.5h0M926.9 659.8h0M969.1 650.2h0M1200.0 745.9h0M1203.6 737.4h0M1120.2 801.5h0M768.2 830.5h0M632.9 861.7h0M776.6 860.7h0M870.5 853.9h0M976.2 846.8h0M677.8 879.0h0M555.0 915.9h0M651.9 939.3h0M1032.6 958.5h0M599.5 969.1h0" stroke="#FEB47B"/>
<path d="M980.0 564.1h0M1182.9 593.9h0M622.0 892.2h0M672.4 878.8h0M776.0 957.8h0M749.1 971.6h0" stroke="#FEDD9F"/>
<path d="M859.2 593.6h0" stroke="#FCFDBF"/>
</g>
<path d="M245 140.7V1308.9M242.8 1306.6H1819.7" stroke="#000" stroke-width="4.5" fill="none"/>
<path d="M230 195.7H243M230 460.1H243M230 724.6H243M230 989.0H243M230 1253.5H243M316.6 1308V1320.8M793.0 1308V1320.8M1269.4 1308V1320.8M1745.8 1308V1320.8" stroke="#000" stroke-width="4.5" fill="none"/>
<text x="218" y="214.7" font-size="52.2" text-anchor="end" textLength="79.5" lengthAdjust="spacingAndGlyphs" >5.0</text>
<text x="218" y="479.1" font-size="52.2" text-anchor="end" textLength="79.5" lengthAdjust="spacingAndGlyphs" >2.5</text>
<text x="218" y="743.6" font-size="52.2" text-anchor="end" textLength="79.5" lengthAdjust="spacingAndGlyphs" >0.0</text>
<text x="218" y="1008.0" font-size="52.2" text-anchor="end" textLength="97.5" lengthAdjust="spacingAndGlyphs" >-2.5</text>
<text x="218" y="1272.5" font-size="52.2" text-anchor="end" textLength="97.5" lengthAdjust="spacingAndGlyphs" >-5.0</text>
<text x="317.1" y="1369.8" font-size="52.2" text-anchor="middle" textLength="31.8" lengthAdjust="spacingAndGlyphs" >4</text>
<text x="793.5" y="1369.8" font-size="52.2" text-anchor="middle" textLength="31.8" lengthAdjust="spacingAndGlyphs" >8</text>
<text x="1269.9" y="1369.8" font-size="52.2" text-anchor="middle" textLength="63.6" lengthAdjust="spacingAndGlyphs" >12</text>
<text x="1746.3" y="1369.8" font-size="52.2" text-anchor="middle" textLength="63.6" lengthAdjust="spacingAndGlyphs" >16</text>
<text x="1031" y="1436.4" font-size="59.4" text-anchor="middle" textLength="231" lengthAdjust="spacingAndGlyphs" >umap_1</text>
<text transform="translate(94.4 724.8) rotate(-90)" font-size="59.4" text-anchor="middle" textLength="231" lengthAdjust="spacingAndGlyphs">umap_2</text>
<text x="1031.2" y="100" font-size="70.2" font-weight="bold" text-anchor="middle" textLength="262" lengthAdjust="spacingAndGlyphs">MAPK9</text>
<rect x="1875.5" y="564.7" width="64" height="318.6" fill="url(#mg)"/>
<path d="M1875.5 577.4h13M1926.5 577.4h13M1875.5 653.9h13M1926.5 653.9h13M1875.5 730.4h13M1926.5 730.4h13M1875.5 806.9h13M1926.5 806.9h13M1875.5 883.3h13M1926.5 883.3h13" stroke="#fff" stroke-width="1.6" fill="none"/>
<text x="1968" y="596.4" font-size="52.2" text-anchor="start" textLength="79.5" lengthAdjust="spacingAndGlyphs" >2.0</text>
<text x="1968" y="672.9" font-size="52.2" text-anchor="start" textLength="79.5" lengthAdjust="spacingAndGlyphs" >1.5</text>
<text x="1968" y="749.4" font-size="52.2" text-anchor="start" textLength="79.5" lengthAdjust="spacingAndGlyphs" >1.0</text>
<text x="1968" y="825.9" font-size="52.2" text-anchor="start" textLength="79.5" lengthAdjust="spacingAndGlyphs" >0.5</text>
<text x="1968" y="902.3" font-size="52.2" text-anchor="start" textLength="79.5" lengthAdjust="spacingAndGlyphs" >0.0</text>
</svg>
</body></html>
